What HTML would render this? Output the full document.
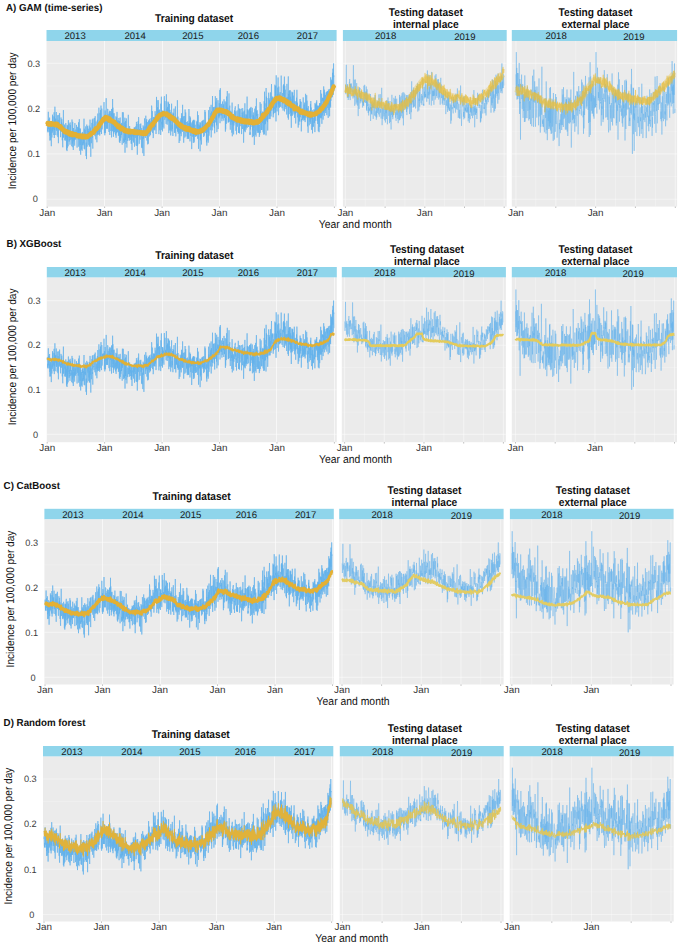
<!DOCTYPE html>
<html><head><meta charset="utf-8"><title>Incidence forecasts</title>
<style>
*{margin:0;padding:0}
html,body{width:685px;height:947px;overflow:hidden;background:#fff}
svg{display:block}
path{vector-effect:non-scaling-stroke}
text{font-family:"Liberation Sans",sans-serif;text-rendering:geometricPrecision}
.tt{font-weight:bold;font-size:9.75px;fill:#111}
.pt{font-weight:bold;font-size:10.2px;fill:#111}
.st{font-size:9.6px;fill:#1a1a1a}
.jl{font-size:9.9px;fill:#333}
.yt{font-size:9.2px;fill:#3a3a3a}
.at{font-size:10.4px;fill:#111}
.ay{font-size:10.15px}
.hM{stroke:#fff;stroke-opacity:0.4;stroke-width:1.1}
.hm{stroke:#fff;stroke-opacity:0.25;stroke-width:0.9}
.vM{stroke:#fff;stroke-opacity:0.6;stroke-width:1}
.vM2{stroke:#fff;stroke-opacity:0.4;stroke-width:1.2}
.vm{stroke:#fff;stroke-opacity:0.28;stroke-width:1.0}
.tk{stroke:#888;stroke-width:0.6}
.bl{fill:none;stroke:#62b1eb;stroke-width:0.66;stroke-linejoin:miter}
.b2,.b3{stroke-width:0.45}
.yrib{fill:none;stroke:#e9c75a;stroke-width:6.5;stroke-opacity:0.45;stroke-linejoin:round;stroke-linecap:butt}
.yl{fill:none;stroke:#e3b034;stroke-linejoin:round}
.yA1{stroke-width:4.1}
.yA2,.yA3{stroke-width:1.1;stroke:#e6bc3a;stroke-opacity:0.7}
.yB1{stroke-width:1.35;stroke:#e0b035}
.yB2,.yB3{stroke-width:1.9;stroke:#e3cb5c}
.yC1{stroke-width:2.0}
.yC2,.yC3{stroke-width:1.5;stroke:#e2cc64}
.yD1{stroke-width:1.05;stroke:#e0b23a}
.yD2{stroke-width:0.75;stroke:#e0c65a}
.yD3{stroke-width:0.8;stroke:#e0c65a}
</style></head>
<body>
<svg width="685" height="947" viewBox="0 0 685 947"><rect width="685" height="947" fill="#fff"/><text transform="translate(6.0,11.0) scale(1,1.04)" class="tt">A) GAM (time-series)</text><text transform="translate(194.1,21.6) scale(1,1.1)" class="pt" text-anchor="middle">Training dataset</text><text transform="translate(425.8,15.6) scale(1,1.1)" class="pt" text-anchor="middle">Testing dataset</text><text transform="translate(425.8,27.6) scale(1,1.1)" class="pt" text-anchor="middle">internal place</text><text transform="translate(595.5,15.6) scale(1,1.1)" class="pt" text-anchor="middle">Testing dataset</text><text transform="translate(595.5,27.6) scale(1,1.1)" class="pt" text-anchor="middle">external place</text><rect x="46.5" y="30.0" width="290.1" height="11.0" fill="#8fd5eb"/><text x="75.1" y="39.2" class="st" text-anchor="middle">2013</text><text x="135.1" y="39.2" class="st" text-anchor="middle">2014</text><text x="192.8" y="39.2" class="st" text-anchor="middle">2015</text><text x="248.3" y="39.2" class="st" text-anchor="middle">2016</text><text x="307.5" y="39.2" class="st" text-anchor="middle">2017</text><rect x="46.5" y="41.0" width="290.1" height="165.6" fill="#ebebeb"/><line x1="46.5" x2="336.6" y1="176.6" y2="176.6" class="hm"/><line x1="46.5" x2="336.6" y1="131.3" y2="131.3" class="hm"/><line x1="46.5" x2="336.6" y1="86.0" y2="86.0" class="hm"/><line x1="46.5" x2="336.6" y1="199.2" y2="199.2" class="hM"/><line x1="46.5" x2="336.6" y1="153.9" y2="153.9" class="hM"/><line x1="46.5" x2="336.6" y1="108.7" y2="108.7" class="hM"/><line x1="46.5" x2="336.6" y1="63.4" y2="63.4" class="hM"/><line x1="104.5" x2="104.5" y1="41.0" y2="206.6" class="vM"/><line x1="162.5" x2="162.5" y1="41.0" y2="206.6" class="vM"/><line x1="219.5" x2="219.5" y1="41.0" y2="206.6" class="vM"/><line x1="276.5" x2="276.5" y1="41.0" y2="206.6" class="vM"/><line x1="334.5" x2="334.5" y1="41.0" y2="206.6" class="vM"/><line x1="47.2" x2="47.2" y1="206.6" y2="207.9" class="tk"/><line x1="104.6" x2="104.6" y1="206.6" y2="207.9" class="tk"/><line x1="162.1" x2="162.1" y1="206.6" y2="207.9" class="tk"/><line x1="219.5" x2="219.5" y1="206.6" y2="207.9" class="tk"/><line x1="277.0" x2="277.0" y1="206.6" y2="207.9" class="tk"/><line x1="334.4" x2="334.4" y1="206.6" y2="207.9" class="tk"/><text x="47.2" y="215.5" class="jl" text-anchor="middle">Jan</text><text x="104.6" y="215.5" class="jl" text-anchor="middle">Jan</text><text x="162.1" y="215.5" class="jl" text-anchor="middle">Jan</text><text x="219.5" y="215.5" class="jl" text-anchor="middle">Jan</text><text x="277.0" y="215.5" class="jl" text-anchor="middle">Jan</text><path transform="scale(0.1)" d="M472 1235l2-26 1 51 2 54 1-38 2 48 1-93 2-113 2 162 1 12 2-98 1 12 2 22 1 92 2-80 2-64 1 180 2-78 1 128 2-54 1 49 2-142 2 92 1-136 2 10 1 31 2 206 1-175 2-43 2-14 1 145 2-93 1 45 2-15 1-165 2 165 2-68 1-81 2 130 1-41 2-20 1 4 2 114 2-114 1-113 2 257 1-213 2 66 1 67 2-233 2 110 1 173 2-112 1-44 2 68 1-77 2 67 2-65 1-67 2 187 1-77 2 59 2-51 1 116 2-53 1-33 2-95 1-21 2 219 2-46 1-127 2 234 1-133 2-32 1-118 2 51 2 91 1 5 2-9 1-156 2 174 1-10 2-56 2 43 1 8 2 82 1-96 2 40 1-141 2 47 2 61 1-60 2 91 1-122 2 95 1-51 2 167 2-143 1 181 2 32 1-151 2 54 1-93 2-182 2 273 1-17 2-72 1-24 2 60 1 4 2-79 2 17 1 139 2-83 1-9 2 97 1-115 2 100 2-161 1 70 2 10 1 61 2-41 1 167 2-76 2-131 1 220 2-262 1 230 2-220 1 142 2-143 2 58 1 147 2-245 1-16 2 133 1 19 2-9 2 72 1-182 2 145 1-42 2 66 1-15 2 58 2-223 1 125 2-98 1 85 2 63 1-32 2 21 2-50 1 34 2-6 1 96 2-50 1-217 2 206 2 34 1-122 2-94 1 253 2-110 1 38 2 100 2-220 1 68 2-8 1 73 2-106 1 88 2-35 2 86 1 10 2-225 1 163 2-70 1 29 2 36 2 7 1-101 2 83 1-13 2-15 2-101 1 44 2 26 1 84 2 73 1-206 2-1 2 98 1-60 2-21 1-4 2-8 1 122 2-173 2 244 1-186 2 33 1-33 2-89 1 35 2 233 2 48 1-221 2 162 1-88 2-75 1 219 2 42 2-209 1 19 2 26 1-25 2 80 1 58 2-119 2 72 1 59 2-189 1 50 2-41 1 123 2-29 2 31 1-10 2-96 1 87 2-100 1 1 2-148 2 301 1-201 2 87 1-7 2 127 1-88 2-106 2 73 1-14 2 33 1-128 2 104 1 192 2-134 2 113 1 52 2-180 1-165 2 113 1 108 2-21 2-184 1 85 2 9 1 9 2-9 1-69 2 22 2 29 1 110 2-138 1 104 2-158 1 208 2-101 2-13 1 116 2-270 1 22 2 168 1-110 2 34 2 258 1-249 2 26 1-14 2 101 1-72 2-10 2-121 1 74 2 28 1-136 2 182 1-15 2 124 2-300 1 52 2 3 1 21 2 48 1-11 2 40 2-6 1-24 2-130 1 83 2 52 2 44 1 4 2-200 1 95 2 37 1 35 2 65 2-94 1-85 2 110 1-17 2-2 1-31 2 148 2-122 1 52 2-155 1 144 2-121 1-86 2 160 2 24 1-72 2 15 1 85 2-130 1-140 2 199 2-7 1 73 2-123 1 137 2-15 1-212 2 190 2-177 1-41 2 109 1-29 2-125 1 187 2 32 2 65 1-126 2-129 1 43 2 166 1-11 2-33 2-73 1 42 2-39 1-10 2 51 1-25 2-24 2 24 1-53 2-122 1 111 2 46 1 153 2-184 2 206 1-48 2-200 1 13 2 75 1 138 2-118 2 27 1-116 2-142 1 180 2 89 1 35 2-98 2 11 1 87 2-112 1 113 2-199 1 5 2-2 2 139 1-87 2 58 1 24 2-4 1 86 2 13 2-196 1 87 2-35 1-68 2 242 1-83 2-84 2-18 1 69 2-123 1 73 2 126 1-24 2-152 2 31 1 209 2-285 1 67 2-65 1 154 2-7 2 75 1-323 2 241 1-154 2 198 2-70 1 163 2-113 1-119 2 199 1-204 2 66 2 123 1-46 2-3 1-34 2 44 1 27 2-45 2 65 1 25 2-108 1-81 2 214 1-134 2 59 2 30 1-160 2 122 1-176 2 202 1-102 2 56 2 48 1-118 2 67 1-66 2 59 1 93 2-86 2-13 1-79 2 166 1-75 2 149 1-208 2 153 2 65 1-153 2-102 1 233 2-37 1-30 2 35 2-132 1 106 2-7 1-114 2 119 1-104 2 125 2 22 1 56 2-325 1 194 2-49 1 25 2-16 2 11 1-164 2 261 1 47 2-47 1 29 2-183 2-5 1 158 2 38 1-90 2-154 1 350 2-272 2 142 1-186 2 188 1-69 2 108 1-46 2-208 2 51 1 108 2 42 1 91 2-132 1-32 2 6 2 1 1 91 2-93 1-2 2-117 1-50 2 177 2 56 1-62 2 48 1 12 2-60 1 87 2-145 2 63 1-31 2 38 1 49 2 19 1-62 2 28 2-69 1 21 2 120 1-126 2 125 1-64 2-29 2 158 1-191 2-5 1 27 2 24 2-5 1 54 2-63 1 26 2-57 1 114 2-126 2 8 1 25 2 27 1-88 2 196 1-187 2 19 2-3 1-9 2 92 1-35 2-79 1 18 2 20 2 152 1-181 2-55 1 14 2 69 1 158 2-220 2 96 1 211 2-257 1 166 2-17 1-59 2-168 2 146 1-57 2-130 1 14 2 150 1 13 2 90 2-50 1-98 2 3 1 25 2-77 1 156 2-63 2-69 1 13 2-43 1 60 2 63 1-59 2 121 2 56 1-196 2 57 1-32 2 177 1-117 2 21 2 23 1 123 2-169 1-109 2 46 1 87 2-52 2-68 1 293 2-215 1-59 2-12 1-90 2 50 2 72 1 1 2-43 1 116 2-44 1-85 2-94 2 186 1-11 2-23 1-102 2 119 1-134 2 214 2-71 1-1 2-88 1-25 2 223 1-54 2-113 2 86 1 74 2-229 1 46 2-2 1 83 2-135 2 110 1-121 2 175 1-7 2-96 1 77 2-124 2 35 1 102 2-90 1 35 2-114 2 134 1-19 2-148 1-93 2 20 1 169 2-16 2-118 1 145 2 73 1-98 2-31 1 111 2 70 2-20 1-188 2 124 1-57 2-33 1-38 2 83 2-76 1 120 2-48 1 56 2-192 1 100 2 61 2-37 1-13 2-84 1 201 2-52 1-60 2-259 2 137 1 92 2-75 1-120 2 200 1 10 2-142 2 62 1-18 2 102 1-216 2 17 1 99 2-12 2 237 1-237 2 72 1-57 2-24 1 89 2 118 2-183 1 96 2-37 1 22 2-24 1 172 2-312 2 84 1-77 2-77 1 172 2 160 1-81 2 27 2-63 1-52 2 184 1-208 2 164 1-160 2 36 2 18 1-21 2 41 1 6 2 95 1-146 2-165 2-12 1 59 2 55 1 122 2-186 1 132 2 2 2 20 1-33 2 47 1-30 2 89 1-62 2-234 2 208 1 16 2-67 1-15 2 162 1-79 2-99 2 59 1 14 2-126 1 198 2-66 1 54 2-176 2 305 1-113 2-11 1-104 2 6 1-69 2 264 2-205 1 94 2 34 1-106 2 130 2 103 1-149 2 100 1-74 2-89 1 7 2-112 2 159 1 119 2-68 1 16 2 27 1-145 2 97 2 118 1-234 2 72 1-40 2 24 1-45 2 53 2-104 1 73 2 4 1 0 2 166 1-112 2 10 2-40 1 140 2-263 1 137 2 118 1 45 2-124 2-16 1 57 2-70 1 67 2-104 1 114 2-59 2-88 1-139 2 317 1-46 2 35 1-142 2 172 2-57 1-39 2 85 1 0 2-42 1 145 2-56 2-90 1-48 2 30 1 142 2-115 1-110 2 22 2 57 1 73 2-133 1 107 2 53 1-31 2-198 2 109 1-82 2 146 1-124 2 137 1-39 2-232 2 152 1 113 2-36 1-35 2-78 1 151 2 112 2-129 1-25 2-7 1-106 2 89 1-43 2 170 2-174 1-107 2 117 1 47 2 9 1-143 2 240 2-71 1-50 2-24 1 105 2-66 1 53 2-35 2 23 1 90 2-98 1-79 2 163 1-63 2-80 2 154 1-110 2 110 1-193 2-104 2 26 1 199 2-84 1 55 2 2 1-127 2 253 2-209 1 98 2-128 1 108 2 76 1-83 2-40 2 62 1-39 2 89 1 143 2-267 1 18 2 49 2 7 1-85 2 133 1 22 2-45 1-121 2 227 2-227 1 162 2 41 1-208 2 120 1 107 2-83 2-113 1-23 2 143 1-73 2-27 1 121 2-88 2 34 1 45 2-4 1-49 2 4 1 52 2-12 2-135 1 79 2-59 1-28 2 55 1-149 2 274 2-144 1 99 2-192 1 14 2 323 1-87 2-144 2-11 1 4 2 71 1-46 2-18 1 64 2-98 2 290 1-256 2 146 1-176 2 104 1 58 2-113 2 113 1-1 2 57 1-137 2-47 1-48 2 102 2-106 1 90 2 8 1-60 2-44 1 123 2-10 2-9 1-23 2 86 1-172 2 125 1-78 2 112 2-106 1-4 2 70 1-217 2 144 1-125 2 71 2 141 1-26 2-74 1 32 2-1 1 28 2 133 2-141 1 174 2-230 1 96 2-3 2-45 1-45 2 149 1 26 2-62 1 85 2-97 2-228 1 232 2-153 1 176 2-150 1 52 2-25 2-58 1-107 2 135 1 3 2 95 1-141 2 71 2-98 1 74 2-160 1 326 2-152 1-107 2 106 2 36 1-50 2 96 1-135 2-208 1 111 2 196 2-24 1-44 2-127 1 158 2-14 1-142 2-1 2 107 1 63 2 35 1-77 2 132 1-265 2 119 2-100 1-125 2 59 1 203 2-180 1-28 2 167 2 16 1-76 2 130 1-272 2 340 1-115 2-76 2-4 1-36 2-10 1 42 2-120 1 289 2-189 2 63 1-75 2-7 1 100 2-24 1-127 2 40 2 91 1-240 2-24 1 333 2-156 1-194 2 152 2 50 1 38 2 30 1-29 2 30 1-114 2 102 2 4 1 67 2-101 1 75 2-63 1-108 2 60 2-11 1 13 2 27 1 17 2 16 1-94 2 163 2-213 1 115 2 70 1-23 2 17 1-73 2 78 2-164 1 171 2 132 1-136 2 114 1-173 2-97 2 38 1 176 2-50 1-223 2 130 2 29 1-92 2-122 1 103 2 103 1-17 2-22 2 110 1 40 2-96 1 89 2-76 1-13 2-197 2 284 1-63 2 5 1-52 2-52 1 137 2 31 2 73 1-61 2-128 1 45 2 95 1-55 2-35 2-40 1 98 2-29 1 140 2-58 1-243 2 337 2-162 1-48 2 53 1 40 2-65 1-4 2 7 2 160 1-152 2 63 1-27 2-67 1-36 2-22 2 123 1-124 2-22 1 4 2-21 1 136 2 3 2-88 1 194 2-138 1 66 2-14 1 122 2-75 2-76 1-80 2-8 1 95 2 10 1 57 2-108 2 58 1-75 2-100 1 158 2 130 1-56 2 53 2-22 1-221 2 96 1 154 2-191 1-53 2 143 2 29 1-30 2-54 1-31 2-47 1-3 2 3 2-15 1 62 2 194 1-123 2-39 1 62 2-114 2 113 1 50 2-209 1 69 2 40 1-62 2-12 2 64 1 247 2-157 1-19 2 47 1-104 2-88 2 149 1 57 2-279 1 219 2 70 2-130 1-16 2 100 1-132 2 113 1 39 2-97 2-52 1 124 2-85 1 38 2-258 1 312 2-184 2 127 1 7 2-75 1-15 2-33 1 83 2 82 2-5 1-92 2-6 1-72 2 87 1-57 2-40 2 119 1 146 2-27 1 23 2-267 1 216 2-184 2 58 1-100 2 63 1 98 2 8 1-25 2-7 2 62 1-44 2-145 1 293 2-173 1 103 2-97 2-57 1 79 2-73 1 209 2-238 1 151 2-108 2 39 1 242 2-160 1-86 2-117 1 111 2 3 2 148 1-251 2-34 1 157 2 22 1 124 2-221 2-161 1 175 2-49 1 63 2 134 1-205 2 226 2-91 1-44 2-54 1 40 2 2 1 100 2 46 2-120 1 67 2 51 1-5 2-70 1 119 2-46 2 24 1-161 2-22 1-143 2 308 1-74 2-142 2 98 1 8 2-181 1 179 2 70 1 13 2-148 2 1 1 146 2-36 1-136 2-5 1 106 2-114 2 3 1 206 2-132 1-66 2 85 1 136 2-165 2-94 1-75 2 331 1-426 2 329 2-186 1-27 2 21 1 71 2 114 1-159 2 116 2 158 1-474 2 185 1-99 2 239 1-212 2-12 2 1 1 137 2 102 1-92 2 176 1-46 2-160 2 93 1-75 2-8 1-182 2 53 1 116 2-113 2 173 1-42 2-112 1 187 2-88 1 90 2-130 2-137 1 208 2-89 1 97 2 19 1 5 2-240 2-83 1 163 2 103 1-128 2 89 1-103 2 43 2-2 1-31 2 102 1-18 2 114 1-115 2 84 2-115 1 69 2-95 1-33 2 163 1-56 2 10 2-151 1-87 2 74 1 105 2-162 1 261 2-267 2 189 1 167 2-461 1 94 2 229 1-107 2 34 2-29 1 140 2-71 1-102 2 21 1-86 2 99 2-200 1 271 2-86 1 192 2-58 1-228 2 201 2-130 1 53 2 87 1-61 2 15 1-2 2-109 2 9 1 109 2 30 1-105 2 35 1-99 2-143 2 160 1 78 2 13 1 61 2 5 1 10 2-53 2 3 1-102 2 101 1-17 2 91 2-252 1 101 2-112 1 88 2-60 1 154 2-84 2-175 1 348 2-211 1-45 2 113 1-29 2-45 2 173 1-95 2 116 1-17 2-4 1-42 2-26 2-26 1 169 2-306 1 76 2 39 1 99 2-23 2-56 1 13 2 190 1-218 2-195 1 432 2-256 2 57 1 45 2-133 1 233 2-121 1-117 2 152 2 21 1-47 2 52 1-179 2 224 1-160 2 194 2-173 1 71 2 219 1-225 2 98 1-56 2-178 2 242 1-4 2-225 1 121 2-128 1 112 2 110 2-73 1-116 2 27 1 87 2-3 1 15 2 44 2-227 1 176 2 104 1-58 2-108 1 8 2 72 2 49 1-62 2 155 1-33 2-189 1 117 2-77 2-76 1 53 2 58 1-190 2 133 1 94 2-98 2 30 1 116 2-84 1 23 2 164 1-162 2 11 2 15 1 111 2-117 1-27 2-12 1 113 2-160 2 169 1-90 2-137 1 182 2-16 1-143 2 133 2-7 1-47 2-74 1 296 2-124 2 17 1 7 2-20 1 0 2-103 1 108 2-91 2-24 1 103 2-78 1-135 2 119 1 88 2-52 2 78 1-107 2-53 1 153 2-55 1-119 2 146 2-61 1 110 2-18 1-27 2-238 1 229 2 11 2 3 1-34 2-72 1 42 2-165 1 163 2-108 2 104 1-29 2 182 1-116 2-5 1 16 2 169 2-267 1 112 2 5 1-15 2-2 1-56 2 148 2-29 1-108 2 14 1 46 2 18 1 23 2-68 2-109 1 198 2-228 1 60 2 115 1-109 2 199 2 23 1-39 2-77 1-7 2 16 1-54 2 197 2-232 1 169 2-67 1-22 2 66 1 18 2-32 2-88 1-54 2 2 1 137 2-18 1 10 2-121 2 219 1-290 2 151 1 26 2-100 1-62 2 60 2-64 1 80 2-97 1-3 2 118 1-137 2 112 2 5 1 88 2-57 1-95 2 183 1-174 2 25 2 5 1 218 2-187 1-68 2 124 1-77 2 217 2-271 1 116 2-136 1 238 2-225 1 80 2-93 2 151 1-28 2-254 1 270 2-13 2-39 1 64 2-196 1-49 2 213 1 88 2-257 2 4 1 23 2-31 1 177 2-64 1 105 2 1 2-214 1 144 2-262 1 192 2 61 1-129 2-91 2 113 1 148 2-142 1-92 2 163 1 22 2-161 2 75 1 107 2-66 1 30 2-95 1 14 2-95 2 36 1 198 2-177 1-46 2 36 1-53 2 137 2 32 1-169 2 174 1 93 2-284 1 152 2-40 2 93 1-9 2-18 1-74 2-68 1 232 2-272 2 167 1-14 2-157 1 63 2 125 1-302 2 235 2-101 1 1 2-111 1 161 2-133 1 151 2-168 2 162 1-39 2-203 1 42 2 109 1-192 2 162 2 100 1-140 2-175 1 133 2-11 1 154 2 1" class="bl b1"/><path transform="scale(0.1)" d="M472 1238l2 3 1-12 2-1 1 6 2 8 1-5 2 3 2-11 1 6 2-1 1 5 2 9 1-6 2 2 2-8 1 1 2 5 1-2 2-10 1 14 2 0 2-4 1 3 2-2 1-5 2-6 1 19 2-9 2 0 1 0 2 1 1 1 2-7 1 8 2-1 2-1 1 0 2 1 1-6 2 6 1-1 2 2 2 5 1-1 2 2 1-7 2 5 1 2 2-6 2-2 1 13 2-18 1 9 2 1 1-6 2 6 2 4 1-15 2 18 1-5 2-4 2 11 1-5 2-2 1-10 2 19 1-4 2-3 2 4 1 8 2-8 1 3 2-1 1-2 2 1 2 5 1 2 2 9 1-4 2-1 1 5 2-2 2 7 1-12 2-2 1 15 2-3 1 5 2-7 2 6 1 4 2 3 1-1 2 8 1-8 2 9 2-5 1 3 2-3 1 7 2-4 1 12 2-7 2 6 1-1 2 2 1-4 2 18 1-12 2 11 2-13 1 18 2-4 1 5 2-17 1 17 2-7 2 5 1 8 2-7 1-5 2 6 1-6 2 8 2-1 1 3 2-4 1-8 2 9 1 2 2 5 2 1 1-11 2 14 1 0 2-4 1 3 2-13 2 24 1-14 2-1 1 10 2-2 1-5 2-6 2 14 1 4 2-13 1-2 2 10 1 11 2-20 2 10 1-7 2 7 1 2 2 1 1-10 2 1 2 20 1-6 2-15 1 13 2 5 1-7 2 1 2 1 1 2 2 0 1 1 2-4 1 7 2-3 2 0 1-8 2 6 1 3 2-3 1 1 2-4 2 4 1-7 2 3 1 8 2 2 2-6 1 2 2 4 1 7 2 3 1-12 2-2 2 0 1 12 2-12 1 8 2-4 1 0 2 7 2-1 1 8 2-6 1 5 2-11 1 2 2-4 2 3 1 6 2-5 1 4 2-5 1 2 2 7 2-5 1 0 2 2 1-6 2-4 1 11 2 0 2 11 1-11 2 2 1 9 2-13 1-1 2 7 2-2 1 4 2-9 1 12 2-6 1-12 2 10 2-2 1 3 2 6 1-6 2-2 1 7 2-7 2-5 1 1 2 15 1-4 2 4 1-15 2 2 2-1 1 9 2 1 1-7 2-1 1 5 2-6 2-4 1 2 2 6 1 5 2-11 1-3 2 2 2 0 1 0 2-8 1 3 2-2 1 5 2-3 2-5 1 5 2 0 1-6 2-9 1 4 2-8 2 8 1-1 2 5 1-6 2-12 1 5 2-3 2-1 1 2 2 0 1-3 2-4 1 0 2-2 2 1 1 4 2-4 1 2 2-12 1 16 2-12 2-16 1 14 2 2 1-7 2-9 2 6 1-6 2 1 1 1 2-21 1 15 2 1 2-2 1-7 2-2 1-4 2 1 1 7 2-13 2 3 1-2 2 4 1-7 2-1 1-6 2 6 2-11 1-2 2 5 1-5 2-1 1-12 2 17 2-14 1 6 2-9 1-9 2 6 1-6 2 3 2-17 1 3 2-3 1 11 2-4 1-14 2 4 2-2 1-6 2 6 1-13 2 1 1-5 2 4 2-9 1 5 2-12 1-3 2-1 1 1 2-3 2 17 1-21 2 4 1-3 2 1 1 5 2-6 2-7 1-4 2 10 1 2 2-13 1 13 2-16 2 11 1 6 2-10 1-4 2 18 1-16 2 10 2-9 1 11 2 7 1-11 2-1 1-6 2 3 2 6 1 6 2 2 1 0 2 4 1-2 2 13 2-14 1 2 2-13 1 10 2 8 1-5 2 11 2-3 1 8 2-17 1 5 2 10 1-5 2-4 2 3 1 2 2 7 1 0 2-3 1-3 2 11 2 2 1-11 2 13 1-10 2 6 2-3 1-3 2 7 1 1 2 10 1 0 2-6 2-3 1 2 2-4 1 13 2 1 1-3 2 7 2 2 1 7 2-10 1 13 2-8 1 12 2-12 2 13 1-9 2 14 1-5 2-7 1 12 2-4 2 5 1 11 2-13 1 0 2 10 1-8 2 8 2 2 1-4 2 5 1-15 2 22 1-12 2 0 2 17 1-1 2-11 1 6 2-3 1-3 2 9 2 5 1 10 2-15 1 7 2-6 1 1 2 10 2-16 1 5 2 2 1 12 2-4 1 2 2 0 2 5 1-7 2 2 1 0 2 5 1-9 2 7 2 17 1-11 2-2 1-5 2 8 1 0 2 3 2-6 1 7 2 1 1 2 2-7 1 7 2 7 2-12 1 7 2-5 1 1 2-4 1 1 2 9 2-1 1 6 2-16 1 7 2-4 1 9 2 10 2-19 1 8 2 0 1 0 2-2 1 0 2 12 2-14 1 9 2 0 1-12 2 5 1 7 2 8 2-11 1-1 2 3 1 7 2-3 1 3 2-8 2-3 1-1 2 10 1-5 2-2 2 6 1-2 2-12 1 11 2-4 1 8 2-3 2 10 1-9 2-7 1-4 2 5 1 3 2 3 2 4 1-2 2-4 1 7 2-9 1 11 2 4 2-4 1 4 2-1 1-14 2 8 1-2 2-5 2-1 1 10 2-10 1 6 2 2 1-2 2 10 2-3 1-3 2-4 1 6 2-1 1-6 2-2 2 4 1-3 2 10 1 0 2-3 1 3 2 2 2-12 1 11 2 4 1-8 2-7 1 10 2-6 2 10 1 0 2 2 1-3 2-11 1 17 2-15 2 14 1-4 2-5 1 1 2 2 1 11 2-11 2 8 1-20 2 15 1-2 2 7 1-3 2 4 2-12 1 6 2-5 1 6 2-1 1-11 2 11 2 4 1-13 2 7 1-5 2-9 1 8 2-11 2 6 1-13 2-1 1 8 2-4 1 1 2-7 2-8 1 12 2-15 1 10 2-5 1 3 2-24 2 9 1-3 2 2 1-12 2 15 1-14 2-14 2 12 1-5 2-6 1 6 2-7 2-7 1 2 2-3 1 2 2-6 1 0 2-10 2 3 1 3 2 10 1-19 2-2 1 8 2 4 2-7 1-13 2 9 1-5 2-6 1-8 2 5 2-2 1 1 2-14 1 1 2 4 1 5 2-5 2-10 1 5 2-11 1 1 2-2 1-4 2-1 2 5 1-5 2-16 1 17 2-6 1-11 2 5 2 2 1 1 2-13 1-4 2-4 1 6 2-8 2 10 1-8 2 3 1-7 2-4 1-4 2 10 2-14 1 8 2 2 1-6 2 6 1-9 2-3 2 2 1-5 2 3 1-2 2 7 1-9 2 4 2-3 1-2 2-2 1 10 2-1 1-7 2-5 2 1 1-3 2-2 1 5 2 3 1 5 2 0 2-2 1-4 2 1 1 1 2 2 1-4 2 3 2 0 1 0 2 6 1 3 2-8 1 2 2 4 2 2 1-14 2 17 1-2 2-2 1 9 2-6 2-8 1 5 2 3 1 1 2 4 1-4 2 7 2 3 1-2 2-4 1 5 2-1 1 15 2-16 2-5 1 6 2 11 1 3 2-5 2 8 1-8 2 8 1-7 2-1 1 19 2-11 2 6 1 5 2-3 1-1 2-6 1 15 2-13 2-4 1 9 2 1 1 5 2 7 1-8 2 3 2-1 1-8 2 11 1 3 2-5 1 18 2 0 2-3 1 4 2-6 1 7 2-10 1 3 2 6 2 7 1-3 2 0 1 12 2-6 1-1 2 5 2-6 1 3 2 13 1-4 2 7 1-6 2 9 2-8 1 4 2-2 1 8 2 8 1-16 2 12 2-7 1 6 2 0 1-5 2 9 1-4 2 16 2-11 1 7 2 0 1 0 2-1 1-6 2 20 2-9 1 5 2-10 1 10 2-4 1 5 2-4 2-2 1 9 2-2 1 9 2-8 1-2 2 8 2-8 1 18 2-1 1-1 2-5 1-1 2 1 2 0 1-3 2 7 1 5 2 1 1-18 2 25 2-11 1-8 2 6 1 7 2-3 1-4 2-2 2 12 1-8 2 3 1-4 2-1 1 10 2 7 2-10 1-7 2 7 1 3 2-12 2 20 1-10 2 8 1-3 2 0 1-7 2 14 2-2 1 6 2-11 1 6 2-4 1 8 2-3 2-7 1 7 2-4 1 1 2 5 1 7 2-13 2 4 1-4 2 17 1-1 2 3 1-7 2-10 2 3 1 4 2-1 1-3 2 7 1-4 2 2 2 13 1-10 2-9 1 10 2-1 1 3 2 0 2-9 1 8 2 4 1 12 2-14 1 8 2 0 2-14 1 0 2 15 1-15 2 2 1 7 2-8 2 13 1-2 2 1 1-2 2-11 1 12 2 0 2-2 1-6 2 3 1-7 2 8 1 3 2-5 2-3 1 5 2-7 1-9 2 12 1-4 2-8 2 10 1 0 2 1 1-9 2-2 1 3 2-2 2-8 1 1 2 11 1-9 2-2 1-4 2 4 2 1 1-3 2 6 1-11 2 2 1-7 2 6 2-4 1 1 2-1 1-11 2 5 1-7 2 7 2-8 1 9 2-9 1-1 2-7 1 0 2 1 2-7 1 2 2-4 1-2 2 3 2-1 1-4 2 2 1-6 2-6 1 0 2 5 2 3 1-9 2-2 1-9 2 6 1-4 2-7 2 4 1-4 2-13 1-1 2 1 1 0 2 4 2-11 1-1 2-3 1 1 2-6 1-2 2-6 2-9 1 3 2 8 1-6 2 0 1-7 2-11 2-2 1 3 2-8 1 3 2 1 1-3 2-6 2-15 1 13 2-17 1-3 2 6 1-4 2 1 2-5 1-6 2 1 1-7 2-4 1 3 2-2 2 1 1-4 2 6 1-10 2 0 1 5 2-18 2 16 1-1 2-7 1 11 2-7 1 4 2-3 2-5 1-2 2-5 1 2 2-2 1 3 2 6 2-8 1 9 2 0 1-11 2 4 1 3 2-2 2-1 1 13 2-7 1 6 2-7 1 5 2-11 2 5 1 8 2-4 1 7 2-7 1-2 2 2 2 12 1-8 2-5 1 2 2-4 1 13 2-9 2 7 1-4 2-1 1-1 2 7 1-4 2 8 2 2 1-10 2 4 1 9 2-4 1-4 2-7 2 3 1 3 2 15 1-8 2-2 2 1 1 1 2 5 1-10 2 3 1 10 2 6 2-15 1 15 2-8 1-2 2 17 1-6 2 5 2-3 1 2 2-7 1 9 2 5 1-5 2 9 2 2 1-13 2 18 1 0 2-2 1 8 2 7 2-16 1 11 2 0 1 1 2 4 1 2 2-6 2-11 1 11 2 1 1 13 2-7 1 7 2-10 2 6 1 0 2 1 1 3 2 6 1-10 2 11 2-1 1-4 2 3 1-4 2-4 1 5 2 1 2 1 1-4 2 16 1-12 2 8 1 2 2-6 2 3 1-5 2-2 1 19 2-12 1-10 2 6 2-2 1 8 2 8 1-1 2-9 1-1 2 10 2-2 1-3 2 12 1-7 2-11 1-2 2 13 2-10 1 13 2 2 1 8 2-17 1 8 2-15 2 12 1 1 2 11 1-18 2 11 1-1 2 12 2-17 1 0 2 9 1-3 2-2 1-3 2 5 2-8 1 11 2 2 1 0 2 11 1-9 2-10 2 5 1 6 2-6 1 13 2-9 2-5 1 0 2 8 1-9 2-5 1 13 2-6 2 12 1 3 2-14 1 3 2 0 1 4 2-1 2-6 1-5 2 11 1 8 2-16 1 4 2 0 2 3 1-11 2 12 1-2 2 13 1-7 2 1 2-4 1-1 2 6 1-14 2 16 1-3 2-4 2 8 1-9 2-1 1 6 2-12 1 10 2-1 2 7 1 4 2-6 1-1 2 0 1-6 2 17 2-7 1 4 2-17 1 11 2-1 1 4 2-11 2 7 1-3 2 12 1-17 2 4 1-1 2-4 2 8 1 0 2-5 1 2 2 3 1-1 2 3 2-7 1-2 2 5 1-11 2 18 1-8 2-11 2 11 1 6 2-17 1 3 2 9 1-12 2 9 2 1 1-8 2 1 1 2 2-6 1 3 2-8 2-1 1-5 2 5 1 3 2-1 1-8 2-11 2 2 1 6 2-10 1 10 2-14 1 6 2-8 2-1 1 3 2-5 1 6 2-8 1-8 2-18 2 16 1 2 2 4 1-13 2 13 1-7 2-8 2 6 1-16 2 0 1 7 2-2 2 3 1-2 2-12 1-3 2 0 1-1 2 2 2-6 1 8 2-10 1-10 2-1 1 9 2-3 2-11 1-4 2 16 1-8 2-6 1-8 2 9 2-10 1 3 2-17 1 8 2 1 1-2 2-10 2 0 1 7 2-10 1 6 2-6 1 0 2-2 2-6 1-2 2-11 1-4 2 3 1 2 2-13 2 13 1-3 2-18 1-2 2-4 1 4 2 3 2-7 1-8 2 4 1-2 2 1 1-4 2-13 2 0 1 6 2-2 1-5 2-8 1 7 2-7 2 9 1-7 2-11 1-4 2 10 1-4 2-10 2 6 1-1 2-7 1 1 2-6 1 1 2 7 2-3 1-1 2 7 1-2 2-11 1 14 2-14 2 4 1 2 2-3 1 0 2-3 1 9 2-1 2 0 1-11 2 6 1 10 2-3 1 3 2-4 2 0 1-11 2 23 1-15 2 4 1 6 2-2 2 3 1-3 2-4 1 14 2-15 1 10 2-9 2 6 1-3 2 4 1-2 2 6 2 6 1-7 2 0 1-6 2 23 1-9 2-6 2 13 1-5 2-12 1 5 2 13 1-11 2 2 2 3 1 3 2 1 1 7 2-1 1-6 2 4 2-8 1 12 2 12 1-10 2-2 1 0 2 3 2 6 1-12 2 13 1-6 2 6 1 6 2-13 2 23 1-8 2-6 1 6 2-5 1 6 2 3 2-13 1 14 2 1 1 6 2 0 1-6 2 1 2 5 1 5 2-6 1 14 2-6 1 1 2 4 2-4 1 6 2 2 1-13 2 7 1-1 2 7 2-4 1 2 2-1 1-5 2 15 1-1 2 3 2 20 1-11 2-6 1-3 2 8 1-9 2 1 2 10 1-9 2-1 1 8 2 9 1-13 2 10 2 2 1-2 2 5 1-8 2 2 1-1 2 4 2 9 1-3 2-5 1 8 2-17 1 18 2 3 2-9 1 3 2 5 1 2 2-2 1-2 2 1 2 7 1-3 2-2 1 2 2 21 1-11 2 0 2-2 1-1 2-4 1 3 2 4 2 0 1-8 2 13 1-4 2-6 1 7 2 14 2-13 1 5 2-1 1-6 2 4 1 4 2-5 2 3 1 2 2-1 1 1 2 4 1 1 2-2 2 6 1 2 2-13 1 9 2-1 1 1 2 0 2 1 1 0 2 5 1-9 2 10 1-9 2 16 2-4 1-11 2 7 1 3 2-5 1 8 2-5 2 13 1-9 2 1 1-6 2-1 1 10 2-13 2 12 1 8 2 2 1-21 2 10 1 3 2 1 2 2 1-13 2 8 1-10 2 11 1 12 2-17 2 6 1 0 2-10 1 10 2-7 1 6 2 4 2-7 1 6 2-10 1 1 2 5 1-3 2 0 2 4 1-7 2 6 1-5 2 8 1-6 2-3 2 6 1-3 2 0 1-7 2 7 1-7 2-7 2 5 1 10 2-10 1-6 2 6 1-9 2 2 2 0 1 2 2 0 1-2 2-3 1-4 2-1 2 3 1-3 2-3 1 9 2-6 1-1 2-4 2-1 1-2 2 2 1-10 2 1 1 9 2-10 2 5 1-17 2 10 1-2 2-4 2 0 1-2 2-10 1 6 2-5 1-3 2 10 2-17 1 4 2-3 1 8 2-11 1 0 2 3 2-17 1 7 2 2 1-5 2-6 1-3 2 0 2-6 1-3 2 12 1-7 2 0 1-8 2-10 2 2 1 7 2-7 1-10 2 6 1-5 2-5 2 9 1-17 2-1 1-4 2 6 1-4 2-4 2-7 1-2 2-3 1-12 2 0 1 8 2-4 2-16 1 8 2-12 1-5 2 9 1-5 2-5 2 1 1-3 2-6 1-11 2 4 1-5 2-2 2 1 1-19 2 17 1-13 2-10 1 7 2-15 2-7 1 8 2-10 1 4 2-13 1-1 2-4 2-10 1 1 2-8 1 0 2 6 1-11 2-5" class="yl yA1"/><rect x="342.9" y="30.0" width="163.8" height="11.0" fill="#8fd5eb"/><text x="385.6" y="39.2" class="st" text-anchor="middle">2018</text><text x="464.8" y="40.1" class="st" text-anchor="middle">2019</text><rect x="342.9" y="41.0" width="163.8" height="165.6" fill="#ebebeb"/><line x1="342.9" x2="506.7" y1="176.6" y2="176.6" class="hm"/><line x1="342.9" x2="506.7" y1="131.3" y2="131.3" class="hm"/><line x1="342.9" x2="506.7" y1="86.0" y2="86.0" class="hm"/><line x1="342.9" x2="506.7" y1="199.2" y2="199.2" class="hM"/><line x1="342.9" x2="506.7" y1="153.9" y2="153.9" class="hM"/><line x1="342.9" x2="506.7" y1="108.7" y2="108.7" class="hM"/><line x1="342.9" x2="506.7" y1="63.4" y2="63.4" class="hM"/><line x1="345.4" x2="345.4" y1="41.0" y2="206.6" class="vM2"/><line x1="365.2" x2="365.2" y1="41.0" y2="206.6" class="vm"/><line x1="385.1" x2="385.1" y1="41.0" y2="206.6" class="vM2"/><line x1="404.9" x2="404.9" y1="41.0" y2="206.6" class="vm"/><line x1="424.8" x2="424.8" y1="41.0" y2="206.6" class="vM2"/><line x1="444.6" x2="444.6" y1="41.0" y2="206.6" class="vm"/><line x1="464.5" x2="464.5" y1="41.0" y2="206.6" class="vM2"/><line x1="484.4" x2="484.4" y1="41.0" y2="206.6" class="vm"/><line x1="504.2" x2="504.2" y1="41.0" y2="206.6" class="vM2"/><line x1="345.4" x2="345.4" y1="206.6" y2="207.9" class="tk"/><line x1="385.1" x2="385.1" y1="206.6" y2="207.9" class="tk"/><line x1="424.8" x2="424.8" y1="206.6" y2="207.9" class="tk"/><line x1="464.5" x2="464.5" y1="206.6" y2="207.9" class="tk"/><line x1="504.2" x2="504.2" y1="206.6" y2="207.9" class="tk"/><text x="345.4" y="215.5" class="jl" text-anchor="middle">Jan</text><text x="424.8" y="215.5" class="jl" text-anchor="middle">Jan</text><path transform="scale(0.1)" d="M3454 847l2 15 2 80 3-118 2-176 2 259 2 0 2-7 2-43 3 122 2-139 2 63 2 39 2 58 2-12 3-117 2 105 2-77 2-75 2 4 2-38 3 147 2 64 2-162 2 58 2-61 3 89 2-90 2 30 2 12 2 19 2 10 3 15 2 3 2-58 2 119 2-173 2-160 3 221 2 86 2 14 2-176 2 184 2 77 3-43 2-29 2-191 2 153 2-55 3 152 2-104 2-24 2-86 2 195 2-99 3 24 2 105 2-77 2 20 2 162 2-226 3 6 2 77 2 72 2-219 2 96 2-57 3-29 2 152 2-103 2 83 2-12 3 3 2-6 2-85 2 78 2 23 2 11 3-47 2 97 2-29 2-34 2 41 2-33 3 39 2-202 2 54 2 70 2 40 2-173 3 146 2 34 2-29 2 1 2-85 3 113 2-163 2 233 2-121 2 134 2-218 3 169 2-20 2-74 2-24 2 186 2-58 3 83 2-118 2 21 2 21 2 27 2-22 3 30 2-98 2-76 2 270 2-140 3 24 2-70 2 114 2-62 2 70 2-135 3 48 2 20 2-40 2 48 2 102 2-166 3 24 2 35 2-88 2-18 2 180 2-24 3-181 2 11 2 168 2 35 2-42 3-11 2 85 2-125 2 103 2-5 2-166 3 125 2-47 2-54 2-14 2 91 2-30 3 69 2-200 2 86 2 137 2-86 2-54 3 19 2-105 2 36 2 150 2-35 3 94 2-119 2 9 2-198 2 203 2 171 3-110 2-60 2 107 2-30 2-38 2-54 3 40 2 57 2-130 2 104 2-3 2 69 3-45 2-111 2 177 2-119 2-61 3 86 2-47 2 106 2-188 2 17 2 68 3 156 2-54 2-157 2-57 2 111 2-73 3 145 2-32 2-14 2-33 2 153 2-192 3-30 2 193 2 16 2-132 2 78 3 130 2-244 2 50 2 49 2-202 2 154 3 69 2-67 2 88 2-22 2-90 2 72 3-8 2-166 2 62 2 4 2 21 2 3 3-77 2 115 2-147 2 218 2-55 3 87 2-81 2-68 2-73 2 164 2-52 3 28 2 29 2 34 2-97 2 139 2-144 3 7 2 52 2 27 2 29 2-254 2 250 3-227 2 75 2 74 2 61 2-171 3-54 2 206 2-50 2-105 2 55 2-131 3 200 2-88 2 139 2-262 2 219 2 114 3-164 2-1 2-162 2 173 2-27 2-50 3-79 2 125 2-88 2 38 2 61 3-32 2 1 2 71 2-168 2 199 2-201 3 14 2 79 2 50 2-44 2-57 2-23 3 34 2-57 2 119 2-63 2 139 2-183 3 46 2 43 2-124 2 36 2 233 3-185 2 115 2-197 2-112 2 233 2-47 3 24 2-48 2-24 2-51 2 176 2-201 3 194 2-95 2-70 2 33 2 128 2-20 3-20 2-33 2-95 2 188 2-138 3-13 2 3 2 5 2-83 2 78 2-30 3 21 2-97 2 285 2-249 2 118 2 0 3 52 2 68 2-117 2 22 2-94 2 152 3-228 2 89 2 39 2 34 2 5 3 25 2-47 2-44 2 13 2 95 2-91 3 47 2-83 2-134 2 95 2 72 2 100 3-17 2 19 2-189 2 115 2-66 2 52 3-57 2-104 2 162 2-29 2 35 2-132 3 147 2 7 2 19 2 0 2-147 3-165 2 277 2-153 2 54 2 105 2-66 3-4 2 35 2-204 2 298 2-179 2 4 3 70 2-57 2-57 2 57 2-21 2-21 3 212 2-273 2-63 2 102 2-3 3 189 2-100 2 54 2-17 2-121 2 138 3-52 2 139 2-136 2-19 2 63 2 1 3-202 2 241 2-12 2-18 2-156 2-69 3 138 2 82 2-21 2-116 2 155 3-184 2 4 2 105 2-44 2-7 2-62 3 204 2-173 2 122 2 31 2-66 2 26 3 63 2 49 2-48 2-184 2-37 2 106 3-39 2 136 2-30 2-25 2 110 3-3 2-81 2 37 2 62 2-109 2 54 3-96 2 83 2 27 2-30 2 27 2 42 3-18 2-87 2 10 2-47 2 234 2-99 3 4 2-43 2 51 2 7 2-98 3 49 2 107 2-192 2 28 2 125 2-108 3 124 2-142 2 106 2 48 2-32 2 32 3-73 2 3 2 12 2 48 2 139 2-187 3 155 2-165 2-69 2 67 2 53 3-16 2-3 2 32 2 3 2 27 2-164 3 94 2-75 2 94 2-25 2 19 2-49 3-28 2 46 2 71 2 9 2-190 2 151 3 1 2-136 2 30 2 43 2 73 3-214 2 153 2-12 2 57 2 97 2-6 3-135 2 2 2 49 2 73 2 22 2-86 3 88 2-182 2-20 2-129 2 152 2 115 3 23 2 114 2-134 2-32 2-89 3 29 2 2 2 30 2-34 2-61 2 197 3-47 2 73 2-233 2 25 2 43 2 153 3-107 2 33 2-24 2 22 2-55 2 72 3-96 2 48 2 42 2-13 2 26 3-97 2 85 2-43 2 54 2 85 2-185 3 153 2-135 2 21 2 162 2-55 2-34 3 24 2 28 2-149 2 76 2-49 2 63 3-57 2 82 2-57 2-48 2 42 3 39 2 48 2-98 2-14 2 46 2 39 3-102 2-152 2 216 2-50 2-4 2 210 3-191 2 64 2-164 2 127 2 40 2-44 3-31 2 56 2-40 2 100 2-89 3-79 2-94 2 97 2 33 2-72 2 11 3-52 2 44 2 92 2-31 2 5 2-12 3 6 2 75 2 101 2-113 2 104 2-165 3 3 2 129 2-186 2-16 2 58 3-124 2-18 2 238 2-176 2 44 2 0 3-42 2 126 2-12 2 16 2-8 2-53 3 103 2-34 2-129 2 48 2-37 2 174 3-88 2-20 2-48 2 45 2-120 3 75 2-8 2-2 2-56 2 89 2-126 3 50 2 22 2 7 2-39 2-40 2 4 3 43 2-41 2 58 2-89 2 98 2 158 3-267 2 95 2 98 2-76 2 52 3-234 2 124 2 160 2-166 2 72 2-181 3 229 2 92 2-182 2 31 2 4 2 132 3-201 2-99 2 277 2-242 2 132 2-230 3 146 2 45 2-104 2 41 2 83 3-106 2 90 2 95 2-302 2 181 2 16 3-79 2 144 2-21 2-70 2-3 2-50 3-85 2 121 2-78 2-12 2 129 2-105 3 88 2-158 2 45 2-164 2 299 3-116 2 66 2-117 2 62 2 52 2-138 3 14 2 100" class="bl b2"/><path transform="scale(0.1)" d="M3454 887l7 4 6 4 7 3 6 3 7 2 6 3 7 2 6 2 7 2 6 2 7 2 6 2 7 2 6 2 7 3 6 2 7 3 6 2 7 2 6 3 7 3 6 2 7 3 7 2 6 3 7 3 6 3 7 3 6 3 7 3 6 3 7 4 6 4 7 4 6 4 7 4 6 5 7 4 6 4 7 5 6 4 7 4 6 4 7 4 6 4 7 3 7 3 6 3 7 3 6 2 7 2 6 2 7 3 6 2 7 2 6 2 7 2 6 2 7 2 6 1 7 2 6 1 7 2 6 1 7 1 6 1 7 0 6 1 7 0 7 1 6 0 7 1 6 0 7 0 6 1 7 0 6 0 7 1 6 0 7 0 6 0 7 0 6 0 7-1 6-1 7-3 6-3 7-4 6-5 7-5 6-6 7-5 7-7 6-6 7-6 6-7 7-6 6-7 7-7 6-8 7-9 6-10 7-10 6-10 7-11 6-11 7-10 6-11 7-10 6-10 7-10 6-9 7-8 6-8 7-10 7-9 6-9 7-8 6-7 7-5 6-3 7-1 6 0 7 1 6 1 7 2 6 1 7 2 6 3 7 2 6 3 7 3 6 3 7 3 6 3 7 3 6 5 7 5 6 6 7 6 7 6 6 7 7 7 6 6 7 6 6 6 7 5 6 5 7 6 6 5 7 6 6 5 7 5 6 5 7 5 6 5 7 4 6 4 7 4 6 4 7 3 6 2 7 2 7 2 6 2 7 2 6 2 7 1 6 2 7 1 6 1 7 2 6 1 7 1 6 1 7 2 6 1 7 1 6 1 7 2 6 1 7 2 6 2 7 1 6 2 7 2 7 2 6 2 7 2 6 1 7 2 6 2 7 1 6 1 7 2 6 1 7 0 6 1 7 0 6 0 7-1 6-2 7-3 6-4 7-4 6-6 7-5 6-7 7-6 7-7 6-6 7-7 6-6 7-7 6-5 7-7 6-6 7-7 6-7 7-7 6-7 7-7 6-7 7-8 6-7 7-8 6-8 7-7 6-8 7-8 6-7 7-8 7-7 6-8 7-8 6-8 7-8 6-8 7-8 6-9 7-8" class="yrib"/><path transform="scale(0.1)" d="M3454 929l2-80 2 39 3-8 2 39 2-28 2-5 2 19 2-11 3 66 2-102 2 74 2 33 2-36 2-2 3-40 2 43 2-34 2 37 2-92 2 50 3-41 2 88 2-49 2 48 2-44 3-2 2 67 2-13 2 2 2 11 2-22 3 7 2 15 2-45 2-12 2 55 2-21 3-16 2 7 2 15 2-44 2 0 2 6 3 27 2-64 2 8 2 64 2-8 3-37 2 59 2-35 2 12 2 23 2-14 3 41 2-30 2 44 2-125 2 24 2 9 3 28 2-20 2-7 2 8 2 4 2 55 3-39 2 29 2 20 2 0 2-45 3-18 2 72 2-90 2 9 2 55 2 4 3-11 2-30 2 41 2 22 2-41 2 72 3-64 2-29 2 26 2-13 2 9 2-5 3 18 2 29 2-16 2-4 2-38 3-9 2 37 2 35 2 1 2-15 2-45 3 33 2 12 2 23 2-47 2 18 2 12 3-3 2-45 2 55 2-53 2 15 2 36 3-23 2 32 2 22 2-15 2 20 3-40 2 16 2-15 2-6 2 117 2-99 3 63 2-56 2 32 2-27 2-36 2 92 3-55 2 9 2 55 2-74 2 20 2 17 3 7 2-114 2 107 2 42 2-24 3-16 2 2 2-8 2 29 2-46 2 31 3 27 2-16 2-12 2-35 2 11 2 25 3-9 2-5 2-53 2 79 2-32 2-6 3 50 2-33 2 1 2 20 2-30 3-13 2-2 2 39 2-10 2-63 2 102 3-38 2-19 2 22 2-14 2 15 2-17 3-15 2 45 2-12 2 8 2 11 2-11 3 34 2-55 2-28 2 1 2 13 3 66 2-73 2 67 2-19 2-56 2 86 3-56 2 17 2 13 2 22 2-38 2 26 3-44 2-5 2 77 2-26 2-5 2 26 3-2 2-36 2 9 2 43 2-33 3-31 2 51 2-8 2-74 2 9 2 86 3-8 2-50 2 46 2-28 2 6 2-29 3 91 2-10 2-28 2-66 2 34 2 46 3-64 2-7 2 28 2 3 2-22 3-23 2 31 2-11 2 17 2 10 2 16 3-35 2 17 2-2 2-34 2 13 2-12 3 72 2-62 2 33 2 7 2 1 2-61 3 11 2 45 2 12 2-34 2 13 3-63 2 91 2 10 2-47 2-9 2-5 3-20 2-40 2 70 2 4 2 35 2-61 3-20 2 31 2-44 2 32 2-45 2 33 3 39 2-15 2 25 2 4 2-61 3-20 2-34 2 57 2 3 2 23 2-63 3 15 2 27 2-40 2 2 2 69 2-79 3 16 2 13 2-1 2-66 2 4 2-11 3 85 2-17 2-49 2 59 2-17 3 29 2-111 2 20 2 15 2 4 2 15 3-4 2-33 2 36 2-61 2 47 2 8 3-68 2 39 2-24 2 25 2 51 2-86 3 52 2-75 2 74 2 5 2-67 3-7 2 6 2 35 2-65 2 66 2-33 3 7 2-16 2-39 2 41 2-38 2-7 3 68 2-19 2-25 2 3 2-30 2 63 3-81 2-3 2 23 2 33 2-44 3 13 2-36 2 17 2-27 2 31 2-58 3 108 2-41 2-46 2 57 2-68 2 55 3-40 2 29 2-15 2-19 2 7 2 8 3-74 2 63 2 29 2-56 2 3 2-11 3-17 2 81 2-58 2-2 2 34 3-7 2 96 2-71 2-69 2 106 2-36 3-24 2-7 2-31 2 101 2-53 2-23 3 65 2-37 2-55 2 17 2 24 2 94 3-72 2-15 2 22 2-6 2-92 3 98 2 23 2-35 2 18 2 1 2-6 3-24 2 17 2 43 2-30 2-16 2 29 3-46 2 13 2 54 2-37 2-47 2 15 3 49 2-26 2 49 2 25 2-57 3 11 2-5 2 18 2-8 2 27 2-27 3-9 2 29 2-24 2 78 2-26 2-64 3-7 2 46 2 12 2 36 2-46 2-10 3 68 2-59 2 4 2 4 2 47 3-47 2 62 2-86 2 41 2 41 2-73 3 8 2 55 2-82 2 96 2-37 2-24 3 103 2-94 2 33 2 0 2 33 2-40 3 44 2-2 2-14 2 25 2-81 3 87 2-16 2-11 2-8 2-22 2 0 3 35 2 3 2-11 2-22 2 5 2 37 3 46 2-122 2 36 2 21 2-2 2 26 3 15 2-19 2-2 2 12 2 26 3-34 2-25 2 32 2-14 2 62 2-55 3-1 2 33 2 15 2-63 2 37 2-38 3 28 2-31 2 29 2 35 2-41 2 7 3-28 2 33 2-2 2-36 2-9 3 13 2-8 2 18 2-9 2-3 2 14 3 11 2-2 2-66 2 71 2 7 2 4 3-9 2-8 2 41 2 26 2-67 2 56 3-54 2 4 2-29 2-15 2 39 3 27 2 19 2-11 2-24 2 63 2-63 3 3 2-19 2 30 2-13 2 26 2-8 3 39 2-55 2-41 2 41 2-5 2 40 3-70 2 65 2-46 2 21 2 32 3-57 2 30 2-4 2-8 2 15 2 11 3-24 2 26 2-13 2 22 2 25 2-24 3-4 2-15 2-34 2 85 2-53 2 70 3-34 2-16 2 52 2-11 2-59 3 3 2 6 2 21 2-87 2 68 2 21 3-74 2 31 2 29 2-45 2 30 2-14 3 12 2 37 2-58 2 24 2 34 2-8 3-50 2 38 2-13 2-18 2 14 3 48 2-65 2-10 2 1 2-23 2 35 3-13 2-26 2 54 2-61 2-2 2 26 3-33 2 27 2 49 2-61 2 22 2-5 3 6 2-38 2 22 2 34 2-37 3-9 2 40 2-10 2-4 2 4 2-30 3-22 2-28 2 19 2 3 2-6 2-8 3 49 2-34 2 9 2 11 2 8 2-1 3-9 2 27 2-54 2 14 2-6 3-9 2-14 2 36 2-16 2 42 2 15 3-10 2-105 2 97 2-70 2-32 2 54 3-63 2-9 2 24 2-45 2 49 2 38 3-40 2 26 2 23 2-4 2-108 3 82 2-18 2 16 2-26 2 9 2 2 3 21 2 3 2-22 2-33 2-55 2 28 3-26 2 37 2 15 2 33 2-41 2 61 3-57 2-60 2 36 2-26 2 42 3 26 2-28 2-6 2-49 2-26 2 78 3-14 2-9 2 3 2 24 2-42 2-11 3-3 2 44 2-35 2 45 2-80 2 54 3-25 2 2 2 2 2 11 2 18 3-106 2 41 2-4 2-57 2 62 2-22 3 13 2-37" class="yl yA2"/><rect x="511.8" y="30.0" width="165.3" height="11.0" fill="#8fd5eb"/><text x="556.1" y="39.2" class="st" text-anchor="middle">2018</text><text x="633.9" y="40.1" class="st" text-anchor="middle">2019</text><rect x="511.8" y="41.0" width="165.3" height="165.6" fill="#ebebeb"/><line x1="511.8" x2="677.1" y1="176.6" y2="176.6" class="hm"/><line x1="511.8" x2="677.1" y1="131.3" y2="131.3" class="hm"/><line x1="511.8" x2="677.1" y1="86.0" y2="86.0" class="hm"/><line x1="511.8" x2="677.1" y1="199.2" y2="199.2" class="hM"/><line x1="511.8" x2="677.1" y1="153.9" y2="153.9" class="hM"/><line x1="511.8" x2="677.1" y1="108.7" y2="108.7" class="hM"/><line x1="511.8" x2="677.1" y1="63.4" y2="63.4" class="hM"/><line x1="515.9" x2="515.9" y1="41.0" y2="206.6" class="vM2"/><line x1="535.8" x2="535.8" y1="41.0" y2="206.6" class="vm"/><line x1="555.8" x2="555.8" y1="41.0" y2="206.6" class="vM2"/><line x1="575.7" x2="575.7" y1="41.0" y2="206.6" class="vm"/><line x1="595.6" x2="595.6" y1="41.0" y2="206.6" class="vM2"/><line x1="615.5" x2="615.5" y1="41.0" y2="206.6" class="vm"/><line x1="635.4" x2="635.4" y1="41.0" y2="206.6" class="vM2"/><line x1="655.4" x2="655.4" y1="41.0" y2="206.6" class="vm"/><line x1="675.3" x2="675.3" y1="41.0" y2="206.6" class="vM2"/><line x1="515.9" x2="515.9" y1="206.6" y2="207.9" class="tk"/><line x1="555.8" x2="555.8" y1="206.6" y2="207.9" class="tk"/><line x1="595.6" x2="595.6" y1="206.6" y2="207.9" class="tk"/><line x1="635.4" x2="635.4" y1="206.6" y2="207.9" class="tk"/><line x1="675.3" x2="675.3" y1="206.6" y2="207.9" class="tk"/><text x="515.9" y="215.5" class="jl" text-anchor="middle">Jan</text><text x="595.6" y="215.5" class="jl" text-anchor="middle">Jan</text><path transform="scale(0.1)" d="M5159 743l2 210 2-432 3 384 2-226 2 317 2-34 2-232 2 9 3 251 2-259 2 235 2-57 2-69 3 86 2-297 2 307 2 204 2-350 2 243 3-14 2 378 2-559 2 27 2 4 3-24 2-99 2 245 2-137 2 237 2-53 3-197 2 94 2 244 2-237 2 78 3 90 2-174 2 119 2 165 2-63 2-403 3 463 2-243 2-52 2-3 2 263 3-125 2-63 2-91 2 204 2 74 2-302 3-13 2 105 2 138 2-140 2 43 3-101 2 294 2-190 2 40 2 135 2-184 3 27 2 64 2-112 2 256 2-190 3-67 2 22 2-109 2 321 2 44 2-244 3-29 2-232 2 212 2 211 2-235 3 233 2 91 2-573 2 322 2-54 2 23 3-174 2 215 2-129 2 316 2 52 3-394 2-6 2 137 2 41 2 10 2 121 3-311 2 124 2 23 2 19 2-93 3 78 2-33 2 270 2-234 2-235 2 381 3-53 2-142 2-8 2 48 2 316 3-296 2 238 2-49 2-192 2 120 2-154 3-326 2 334 2 9 2 228 2-34 3 61 2-73 2 79 2-59 2-62 2 113 3 60 2-7 2-253 2 56 2-134 3-1 2 195 2-141 2 298 2-522 2 154 3 199 2 134 2-216 2 317 2-152 3-214 2 95 2 80 2-201 2 280 2-185 3 110 2 50 2-183 2 205 2-406 3 350 2-361 2 434 2-238 2 254 2 20 3-210 2-72 2 274 2-344 2 279 3-130 2-35 2-29 2 336 2-479 2 148 3 139 2 85 2 94 2-46 2-268 3 125 2 111 2-85 2-293 2 265 3 36 2-271 2 124 2 59 2 91 2 133 3-54 2-97 2-36 2-81 2-28 3 46 2 0 2 173 2 161 2-230 2 61 3-43 2-53 2 136 2-19 2-142 3-30 2 108 2-162 2 100 2 113 2-149 3-259 2 359 2-259 2-30 2-17 3 325 2-398 2 266 2 52 2-4 2-117 3 77 2 31 2-205 2 280 2 44 3-258 2 11 2-56 2 303 2-303 2 83 3-181 2 421 2-207 2 68 2 183 3-125 2-260 2 223 2 34 2-225 2-19 3-1 2 248 2-104 2-155 2 235 3 12 2-223 2-105 2 380 2 201 2-162 3-63 2-124 2-107 2 105 2 76 3-121 2 155 2-130 2 82 2-468 2 260 3 230 2 21 2-80 2 168 2-130 3-1 2-229 2 182 2 50 2 75 2-25 3-157 2 19 2-191 2 246 2-239 3 111 2 35 2 280 2-103 2-286 2-94 3 166 2-80 2 163 2-7 2 39 3-231 2 87 2 79 2 12 2-126 2 31 3 161 2-360 2 203 2 33 2-207 3 62 2 154 2-89 2 223 2-61 2 225 3-490 2 436 2-363 2 210 2 19 3-111 2-66 2-50 2-164 2 197 2-75 3 206 2-185 2 77 2 86 2-53 3-6 2-36 2-30 2 126 2 32 2-210 3 342 2-152 2-305 2 597 2-284 3-195 2 328 2-597 2 727 2-566 2-18 3 89 2 159 2-82 2 176 2-240 3 270 2-120 2-179 2 296 2-106 2-75 3 211 2-352 2 115 2 260 2-206 3 102 2-17 2-103 2 110 2-235 2 234 3-236 2-315 2 333 2 196 2-5 3 91 2-243 2-50 2-166 2 117 2 146 3 65 2-84 2 59 2-209 2 74 3 250 2-21 2-288 2 149 2 77 2-199 3 221 2-14 2 26 2 211 2-396 3 291 2-89 2 25 2-206 2 112 2-11 3 238 2-223 2 196 2-250 2-8 3 55 2-289 2 213 2-9 2 65 2 47 3-162 2-18 2 338 2-330 2 76 3-62 2 71 2 240 2-9 2-420 2 222 3 235 2-247 2 100 2 209 2 63 3-95 2-262 2 45 2 29 2-74 2-43 3 380 2-252 2 75 2 57 2-95 3-59 2 21 2 168 2-136 2-349 2 431 3 90 2-274 2-45 2 20 2 223 3-296 2 251 2 50 2-73 2-69 2-115 3 14 2 91 2-133 2 121 2-114 3 324 2 25 2-329 2 305 2-152 2-27 3 56 2-4 2-258 2 551 2-477 3-197 2 320 2 7 2-104 2-153 2 424 3-177 2 39 2-103 2 58 2-69 3 153 2-64 2 102 2 1 2-72 2 2 3 146 2-383 2 241 2 177 2-347 3 261 2-175 2 76 2-36 2 13 2 106 3-84 2-278 2 601 2-322 2-50 3 211 2 46 2-494 2 357 2-342 2 218 3 66 2-55 2-20 2-75 2 106 3 42 2-3 2-163 2 76 2 257 2-50 3-134 2 135 2-33 2 83 2-96 3-95 2-78 2 139 2-288 2 303 2-457 3 309 2 72 2 141 2 328 2-373 3-46 2-243 2 465 2-460 2 304 2-136 3 459 2-375 2 69 2-143 2 84 3 175 2-293 2 37 2 14 2-56 3-12 2 158 2 189 2 5 2-383 2 91 3 86 2 76 2-64 2 2 2 52 3 51 2-401 2 273 2 118 2 99 2-81 3-202 2-4 2 138 2-38 2 51 3 113 2-337 2 131 2-295 2 454 2-86 3-143 2 158 2 161 2-62 2-147 3-34 2 61 2-154 2 2 2 93 2 42 3 39 2-113 2-52 2 120 2-55 3 108 2 152 2-58 2-249 2 44 2-161 3 215 2-114 2-65 2 45 2 224 3-60 2-45 2 156 2-206 2-78 2 210 3-345 2 317 2-13 2 4 2 65 3-159 2 55 2-232 2 147 2 9 2 105 3 167 2-188 2 106 2-255 2 136 3-239 2 128 2-15 2 82 2 2 2-65 3-40 2 227 2-171 2-301 2 378 3 21 2 59 2 104 2-373 2 156 2-36 3-219 2-96 2 474 2-275 2 58 3 29 2-14 2 68 2-229 2 135 2 35 3-129 2 47 2 59 2 16 2-202 3 172 2 82 2 105 2-75 2 97 2-165 3-24 2 322 2-293 2-91 2 65 3 154 2-314 2 273 2 72 2-23 2-153 3-142 2-28 2 131 2 195 2-78 3 31 2-103 2 221 2-267 2-77 2 109 3-88 2 194 2 70 2-117 2-253 3 15 2 207 2-235 2 212 2-259 2 142 3 129 2-177 2 219 2 20 2 71 3-242 2 42 2 1 2 45 2-261 2 260 3 40 2-278 2-27 2 150 2-297 3 426 2-172 2 81 2-217 2 408 2-289 3 182 2-276 2 195 2-157 2-158 3 497 2-44" class="bl b3"/><path transform="scale(0.1)" d="M5159 887l7 4 6 4 7 3 6 3 7 2 6 3 7 2 6 2 7 2 6 2 7 2 7 2 6 2 7 2 6 3 7 2 6 3 7 2 6 2 7 3 6 3 7 2 7 3 6 2 7 3 6 3 7 3 6 3 7 3 6 3 7 3 6 4 7 4 7 4 6 4 7 4 6 5 7 4 6 4 7 5 6 4 7 4 6 4 7 4 7 4 6 3 7 3 6 3 7 3 6 2 7 2 6 2 7 3 6 2 7 2 7 2 6 2 7 2 6 2 7 1 6 2 7 1 6 2 7 1 7 1 6 1 7 0 6 1 7 0 6 1 7 0 6 1 7 0 6 0 7 1 7 0 6 0 7 1 6 0 7 0 6 0 7 0 6 0 7-1 6-1 7-3 7-3 6-4 7-5 6-5 7-6 6-5 7-7 6-6 7-6 6-7 7-6 7-7 6-7 7-8 6-9 7-10 6-10 7-10 6-11 7-11 6-10 7-11 7-10 6-10 7-10 6-9 7-8 6-8 7-10 6-9 7-9 6-8 7-7 7-5 6-3 7-1 6 0 7 1 6 1 7 2 6 1 7 2 6 3 7 2 7 3 6 3 7 3 6 3 7 3 6 3 7 5 6 5 7 6 6 6 7 6 7 7 6 7 7 6 6 6 7 6 6 5 7 5 6 6 7 5 6 6 7 5 7 5 6 5 7 5 6 5 7 4 6 4 7 4 6 4 7 3 6 2 7 2 7 2 6 2 7 2 6 2 7 1 6 2 7 1 6 1 7 2 6 1 7 1 7 1 6 2 7 1 6 1 7 1 6 2 7 1 6 2 7 2 7 1 6 2 7 2 6 2 7 2 6 2 7 1 6 2 7 2 6 1 7 1 7 2 6 1 7 0 6 1 7 0 6 0 7-1 6-2 7-3 6-4 7-4 7-6 6-5 7-7 6-6 7-7 6-6 7-7 6-6 7-7 6-5 7-7 7-6 6-7 7-7 6-7 7-7 6-7 7-7 6-8 7-7 6-8 7-8 7-7 6-8 7-8 6-7 7-8 6-7 7-8 6-8 7-8 6-8 7-8 7-8 6-9 7-8" class="yrib"/><path transform="scale(0.1)" d="M5159 872l2 7 2 18 3-15 2-24 2 96 2-56 2 10 2-3 3 50 2-78 2 47 2-17 2 9 3 35 2-35 2 41 2-25 2-18 2-8 3-1 2 6 2-66 2 50 2 50 3-17 2 2 2-14 2 13 2 8 2-73 3 48 2 12 2-2 2 0 2-47 3 28 2-18 2 125 2-101 2-20 2-27 3 58 2 53 2-68 2 36 2 36 3-34 2-48 2-4 2 15 2 53 2-104 3 110 2-32 2 41 2-80 2 26 3-12 2 24 2 6 2-6 2 61 2-84 3 3 2 40 2-11 2-8 2-36 3 34 2 12 2 17 2 30 2-25 2-19 3 10 2-8 2-19 2 10 2 6 3-11 2 15 2 7 2-13 2 65 2-86 3 75 2-61 2 25 2-31 2 33 3 29 2-58 2 27 2 4 2 2 2-26 3 7 2 18 2 54 2-33 2-13 3-49 2 43 2 16 2-37 2 40 2-1 3-4 2 50 2-71 2 17 2 23 3 27 2-39 2-33 2 61 2 14 2-42 3 61 2 19 2-50 2 8 2-10 3 9 2-25 2 18 2 13 2-3 2-31 3-8 2 3 2 7 2 119 2-67 3-19 2-14 2 55 2-88 2 34 2 28 3-22 2 16 2 13 2-37 2 30 3 29 2-23 2-14 2 29 2-68 2 70 3-83 2 26 2 55 2-31 2-30 3 41 2 30 2-37 2-55 2 103 2-59 3 16 2 5 2 8 2-1 2-39 3 13 2 48 2-75 2 85 2-57 2 15 3-29 2 25 2-20 2 32 2-29 3 20 2-53 2 84 2-55 2 22 3 9 2 22 2-29 2 57 2-3 2-61 3 68 2-88 2 51 2-15 2 5 3-10 2 21 2 3 2-7 2-34 2-3 3-3 2 26 2 17 2 44 2-68 3-6 2 37 2-36 2-14 2 36 2-28 3 22 2 60 2-37 2-2 2-27 3 41 2-12 2 15 2-27 2-3 2-27 3 6 2 18 2-2 2 4 2 0 3-42 2 119 2-68 2-14 2-24 2 65 3-42 2-15 2 39 2 43 2-46 3 25 2-55 2 45 2-78 2 49 2 27 3-8 2 17 2-44 2-32 2 50 3-34 2 55 2-37 2-59 2 108 2-78 3 1 2 89 2-14 2-14 2-59 3 40 2-9 2-27 2 16 2-5 2 15 3-44 2 54 2-74 2 58 2 11 3-44 2 4 2 70 2-67 2 44 2-17 3-50 2 47 2-38 2 19 2-70 3 58 2 29 2-4 2-8 2-33 2 2 3-31 2 22 2-1 2-8 2 11 3-14 2-17 2-3 2 37 2 33 2-31 3-34 2 78 2-62 2-30 2 26 3 14 2-88 2 7 2 45 2-50 2-2 3 68 2-116 2 103 2-23 2 21 3-38 2 37 2-42 2-36 2 22 2 11 3-57 2 68 2-58 2 34 2-19 3 2 2-6 2 2 2 18 2-9 2-33 3 13 2 28 2-16 2-4 2-21 3-10 2 0 2 19 2-22 2 38 2 41 3-86 2 44 2-24 2 4 2-57 3 52 2-47 2 20 2 19 2 7 2-62 3-1 2-13 2-34 2 44 2-2 3 11 2-8 2 12 2 15 2-85 2 113 3-62 2-5 2 8 2 33 2-22 3 8 2 18 2-30 2 11 2 5 2-36 3 52 2-43 2 31 2-30 2 11 3-4 2 37 2-6 2 3 2-29 2-16 3-9 2 47 2-16 2 51 2 18 3-38 2-5 2 27 2 7 2-67 2 41 3 26 2-116 2 64 2 15 2-28 3 43 2-67 2 92 2-5 2-33 2 20 3-63 2 90 2-24 2-26 2-8 3-11 2 21 2-52 2 80 2-17 2-17 3 36 2 2 2 7 2 8 2 16 3-15 2 32 2-54 2 60 2-105 2 13 3 19 2 41 2 13 2-51 2 32 3-9 2 39 2-50 2 56 2-25 2 56 3-30 2-32 2 30 2 2 2-35 3 27 2-36 2 109 2-86 2 3 2 62 3-5 2-62 2 59 2-11 2-35 3 29 2-22 2 42 2-33 2-21 2 24 3 75 2-82 2 19 2 30 2-66 3 94 2-105 2 75 2-63 2 48 2 39 3-40 2-6 2-5 2-14 2 59 3-40 2-6 2 30 2 21 2 1 2-49 3-1 2 48 2 16 2-75 2 83 3-50 2 29 2 29 2-55 2 10 2-47 3-24 2 73 2-35 2 0 2 46 3 11 2-72 2 58 2-9 2 8 2-4 3 14 2-39 2-15 2 48 2 30 3-41 2 45 2-24 2-54 2-32 2 57 3 43 2-54 2 90 2-46 2-64 3 23 2 63 2 8 2-73 2 27 2 16 3-29 2 30 2 40 2-80 2 43 3 11 2 10 2-46 2 32 2-42 2 27 3-39 2 43 2 9 2 39 2-25 3-53 2-68 2 127 2-6 2-40 3-3 2 34 2-21 2 50 2-38 2-34 3-21 2 53 2 3 2-20 2-18 3 18 2 37 2-32 2-17 2 50 2 19 3-54 2 5 2-17 2 26 2 22 3-5 2 18 2-2 2-11 2-2 2-46 3 69 2-34 2 16 2-60 2 36 3 19 2-34 2 22 2 16 2-59 2 25 3-30 2 17 2 11 2 19 2 36 3-52 2 18 2-17 2 20 2 20 2 9 3-50 2-18 2 45 2-22 2-28 3 64 2-16 2 22 2-68 2 25 2 20 3 33 2-44 2-36 2 36 2 2 3-33 2 53 2-40 2-18 2 38 2 0 3-34 2 8 2 2 2-15 2-3 3 32 2-10 2-35 2-22 2-9 2 62 3-59 2 8 2 21 2-17 2-13 3-30 2 81 2-50 2 20 2 0 2-42 3 8 2 51 2-23 2-17 2 45 3-68 2 25 2-9 2-8 2-45 2 50 3 9 2-64 2 63 2-1 2 22 3-74 2 21 2-8 2 7 2 6 2 16 3-2 2-38 2 6 2-46 2 67 3-10 2 13 2-73 2 74 2-61 2-22 3 43 2-27 2 80 2-53 2 34 3-56 2 3 2 20 2-53 2 15 2 23 3-3 2 25 2-39 2-70 2 80 3-36 2 26 2-42 2 8 2 17 2 43 3-40 2-52 2 39 2-28 2 30 3 37 2-69 2 0 2 24 2-9 2-22 3 23 2-30 2 14 2 59 2-67 3 11 2 4 2-39 2 23 2-32 2-19 3 24 2 47 2-27 2-51 2 31 3 13 2-23" class="yl yA3"/><text x="35.2" y="202.4" class="yt" text-anchor="middle">0</text><text x="40.2" y="157.1" class="yt" text-anchor="end">0.1</text><text x="40.2" y="111.9" class="yt" text-anchor="end">0.2</text><text x="40.2" y="66.6" class="yt" text-anchor="end">0.3</text><text transform="translate(15.7,120.8) rotate(-90) scale(1,1.1)" class="at ay" text-anchor="middle">Incidence per 100,000 per day</text><text transform="translate(355.2,227.5) scale(1,1.1)" class="at" text-anchor="middle">Year and month</text><text transform="translate(6.6,247.0) scale(1,1.04)" class="tt">B) XGBoost</text><text transform="translate(194.3,258.6) scale(1,1.1)" class="pt" text-anchor="middle">Training dataset</text><text transform="translate(426.9,252.6) scale(1,1.1)" class="pt" text-anchor="middle">Testing dataset</text><text transform="translate(426.9,264.6) scale(1,1.1)" class="pt" text-anchor="middle">internal place</text><text transform="translate(595.4,252.6) scale(1,1.1)" class="pt" text-anchor="middle">Testing dataset</text><text transform="translate(595.4,264.6) scale(1,1.1)" class="pt" text-anchor="middle">external place</text><rect x="46.8" y="267.0" width="290.0" height="10.6" fill="#8fd5eb"/><text x="75.1" y="275.8" class="st" text-anchor="middle">2013</text><text x="135.1" y="275.8" class="st" text-anchor="middle">2014</text><text x="192.8" y="275.8" class="st" text-anchor="middle">2015</text><text x="248.3" y="275.8" class="st" text-anchor="middle">2016</text><text x="307.5" y="275.8" class="st" text-anchor="middle">2017</text><rect x="46.8" y="277.6" width="290.0" height="164.6" fill="#ebebeb"/><line x1="46.8" x2="336.8" y1="412.1" y2="412.1" class="hm"/><line x1="46.8" x2="336.8" y1="367.5" y2="367.5" class="hm"/><line x1="46.8" x2="336.8" y1="322.9" y2="322.9" class="hm"/><line x1="46.8" x2="336.8" y1="434.4" y2="434.4" class="hM"/><line x1="46.8" x2="336.8" y1="389.8" y2="389.8" class="hM"/><line x1="46.8" x2="336.8" y1="345.2" y2="345.2" class="hM"/><line x1="46.8" x2="336.8" y1="300.6" y2="300.6" class="hM"/><line x1="104.5" x2="104.5" y1="277.6" y2="442.2" class="vM"/><line x1="162.5" x2="162.5" y1="277.6" y2="442.2" class="vM"/><line x1="219.5" x2="219.5" y1="277.6" y2="442.2" class="vM"/><line x1="276.5" x2="276.5" y1="277.6" y2="442.2" class="vM"/><line x1="334.5" x2="334.5" y1="277.6" y2="442.2" class="vM"/><line x1="47.2" x2="47.2" y1="442.2" y2="443.5" class="tk"/><line x1="104.6" x2="104.6" y1="442.2" y2="443.5" class="tk"/><line x1="162.1" x2="162.1" y1="442.2" y2="443.5" class="tk"/><line x1="219.5" x2="219.5" y1="442.2" y2="443.5" class="tk"/><line x1="277.0" x2="277.0" y1="442.2" y2="443.5" class="tk"/><line x1="334.4" x2="334.4" y1="442.2" y2="443.5" class="tk"/><text x="47.2" y="451.1" class="jl" text-anchor="middle">Jan</text><text x="104.6" y="451.1" class="jl" text-anchor="middle">Jan</text><text x="162.1" y="451.1" class="jl" text-anchor="middle">Jan</text><text x="219.5" y="451.1" class="jl" text-anchor="middle">Jan</text><text x="277.0" y="451.1" class="jl" text-anchor="middle">Jan</text><path transform="scale(0.1)" d="M472 3598l2-26 1 51 2 53 1-37 2 46 1-91 2-111 2 160 1 11 2-97 1 12 2 22 1 90 2-78 2-63 1 178 2-77 1 126 2-53 1 48 2-140 2 90 1-134 2 11 1 30 2 202 1-172 2-42 2-14 1 143 2-91 1 44 2-15 1-162 2 162 2-67 1-80 2 128 1-41 2-19 1 5 2 112 2-113 1-111 2 253 1-210 2 65 1 67 2-230 2 108 1 171 2-111 1-43 2 67 1-76 2 66 2-64 1-66 2 184 1-76 2 59 2-51 1 115 2-52 1-33 2-94 1-21 2 216 2-45 1-125 2 231 1-132 2-31 1-117 2 51 2 89 1 5 2-9 1-153 2 171 1-10 2-55 2 42 1 8 2 81 1-94 2 39 1-139 2 46 2 60 1-59 2 90 1-120 2 93 1-49 2 164 2-141 1 178 2 32 1-149 2 53 1-91 2-180 2 269 1-17 2-71 1-23 2 59 1 4 2-78 2 17 1 137 2-82 1-9 2 96 1-114 2 99 2-159 1 69 2 10 1 60 2-40 1 164 2-75 2-129 1 217 2-258 1 226 2-217 1 140 2-140 2 57 1 145 2-241 1-17 2 132 1 19 2-10 2 72 1-180 2 143 1-42 2 65 1-14 2 58 2-220 1 123 2-97 1 83 2 62 1-31 2 21 2-49 1 34 2-6 1 94 2-49 1-214 2 203 2 33 1-120 2-93 1 250 2-108 1 37 2 99 2-217 1 66 2-8 1 72 2-104 1 87 2-34 2 84 1 10 2-222 1 161 2-69 1 28 2 36 2 6 1-98 2 81 1-13 2-14 2-100 1 43 2 26 1 83 2 71 1-202 2-1 2 96 1-59 2-20 1-4 2-8 1 120 2-171 2 241 1-184 2 33 1-33 2-87 1 34 2 229 2 48 1-218 2 160 1-87 2-74 1 217 2 40 2-205 1 19 2 25 1-24 2 78 1 57 2-117 2 71 1 58 2-186 1 49 2-40 1 121 2-28 2 29 1-9 2-94 1 85 2-99 1 2 2-147 2 298 1-198 2 85 1-7 2 125 1-86 2-105 2 72 1-14 2 32 1-125 2 102 1 189 2-131 2 111 1 51 2-177 1-163 2 112 1 105 2-20 2-181 1 84 2 9 1 8 2-9 1-67 2 21 2 28 1 109 2-136 1 103 2-156 1 205 2-100 2-12 1 113 2-266 1 22 2 166 1-108 2 33 2 254 1-245 2 25 1-13 2 99 1-71 2-9 2-120 1 73 2 28 1-135 2 181 1-16 2 123 2-296 1 52 2 2 1 21 2 47 1-10 2 39 2-6 1-24 2-128 1 81 2 52 2 44 1 3 2-197 1 94 2 36 1 34 2 65 2-93 1-83 2 108 1-17 2-2 1-31 2 146 2-120 1 52 2-153 1 141 2-119 1-84 2 158 2 23 1-71 2 14 1 85 2-129 1-137 2 196 2-7 1 71 2-120 1 134 2-14 1-210 2 188 2-175 1-40 2 107 1-28 2-124 1 185 2 32 2 63 1-123 2-128 1 43 2 163 1-10 2-33 2-72 1 41 2-38 1-10 2 50 1-24 2-24 2 24 1-53 2-120 1 110 2 45 1 151 2-181 2 202 1-47 2-197 1 12 2 75 1 136 2-117 2 27 1-114 2-140 1 177 2 88 1 34 2-96 2 11 1 85 2-110 1 111 2-196 1 5 2-1 2 136 1-85 2 57 1 23 2-4 1 85 2 13 2-194 1 87 2-35 1-67 2 239 1-82 2-83 2-18 1 68 2-121 1 72 2 124 1-23 2-151 2 31 1 207 2-282 1 66 2-63 1 151 2-7 2 74 1-318 2 237 1-152 2 196 2-70 1 161 2-111 1-117 2 195 1-200 2 65 2 121 1-46 2-2 1-34 2 43 1 27 2-44 2 64 1 24 2-106 1-80 2 211 1-132 2 58 2 30 1-158 2 121 1-174 2 199 1-100 2 54 2 47 1-115 2 66 1-65 2 58 1 91 2-84 2-13 1-78 2 164 1-75 2 147 1-205 2 152 2 64 1-151 2-101 1 230 2-37 1-29 2 35 2-131 1 104 2-6 1-113 2 118 1-103 2 123 2 22 1 55 2-320 1 191 2-49 1 25 2-16 2 11 1-161 2 257 1 46 2-46 1 29 2-180 2-6 1 156 2 38 1-89 2-152 1 345 2-268 2 140 1-183 2 185 1-68 2 106 1-45 2-205 2 50 1 107 2 41 1 89 2-129 1-32 2 6 2 1 1 90 2-92 1-2 2-115 1-50 2 175 2 55 1-61 2 47 1 12 2-59 1 86 2-143 2 62 1-31 2 38 1 48 2 19 1-62 2 28 2-68 1 21 2 118 1-124 2 123 1-63 2-28 2 155 1-188 2-5 1 27 2 23 2-4 1 52 2-61 1 25 2-56 1 113 2-125 2 8 1 25 2 26 1-86 2 193 1-185 2 19 2-3 1-9 2 91 1-34 2-78 1 18 2 19 2 150 1-178 2-55 1 14 2 68 1 156 2-217 2 95 1 208 2-253 1 163 2-17 1-58 2-165 2 143 1-55 2-129 1 14 2 148 1 12 2 89 2-49 1-97 2 3 1 25 2-76 1 154 2-62 2-69 1 13 2-42 1 59 2 62 1-58 2 119 2 56 1-193 2 55 1-31 2 175 1-116 2 21 2 23 1 121 2-167 1-107 2 45 1 86 2-51 2-67 1 289 2-212 1-58 2-12 1-89 2 49 2 72 1 0 2-42 1 114 2-44 1-83 2-92 2 183 1-11 2-23 1-101 2 118 1-132 2 210 2-69 1-1 2-87 1-25 2 220 1-53 2-111 2 84 1 73 2-225 1 45 2-2 1 82 2-133 2 108 1-119 2 172 1-7 2-95 1 77 2-122 2 34 1 100 2-89 1 35 2-112 2 132 1-19 2-145 1-92 2 19 1 167 2-16 2-116 1 143 2 72 1-97 2-31 1 110 2 69 2-20 1-185 2 122 1-55 2-33 1-38 2 81 2-74 1 119 2-48 1 55 2-189 1 98 2 60 2-36 1-13 2-82 1 197 2-50 1-60 2-255 2 135 1 91 2-74 1-119 2 197 1 10 2-139 2 60 1-17 2 101 1-214 2 17 1 98 2-12 2 234 1-234 2 71 1-56 2-23 1 87 2 116 2-181 1 96 2-38 1 23 2-24 1 170 2-308 2 83 1-76 2-76 1 169 2 158 1-80 2 27 2-62 1-51 2 181 1-205 2 161 1-157 2 35 2 18 1-21 2 41 1 6 2 93 1-143 2-163 2-11 1 57 2 54 1 121 2-184 1 131 2 1 2 20 1-32 2 46 1-30 2 88 1-61 2-230 2 205 1 15 2-66 1-14 2 159 1-78 2-97 2 57 1 14 2-124 1 196 2-66 1 54 2-174 2 300 1-110 2-11 1-103 2 6 1-68 2 260 2-201 1 91 2 34 1-104 2 128 2 102 1-148 2 99 1-72 2-88 1 6 2-110 2 157 1 117 2-67 1 15 2 27 1-142 2 95 2 117 1-232 2 72 1-40 2 24 1-45 2 53 2-103 1 72 2 5 1-1 2 164 1-111 2 10 2-39 1 138 2-259 1 135 2 115 1 45 2-122 2-15 1 56 2-69 1 65 2-102 1 113 2-59 2-87 1-137 2 313 1-45 2 34 1-140 2 169 2-56 1-38 2 84 1-1 2-40 1 142 2-55 2-89 1-47 2 30 1 139 2-113 1-108 2 22 2 56 1 71 2-131 1 106 2 53 1-31 2-195 2 107 1-80 2 143 1-122 2 134 1-37 2-229 2 150 1 111 2-35 1-35 2-76 1 148 2 110 2-126 1-25 2-8 1-104 2 88 1-43 2 168 2-171 1-106 2 116 1 46 2 9 1-141 2 236 2-70 1-49 2-24 1 103 2-64 1 52 2-34 2 22 1 89 2-97 1-78 2 161 1-62 2-79 2 152 1-109 2 109 1-190 2-102 2 25 1 196 2-83 1 54 2 2 1-125 2 250 2-206 1 96 2-126 1 106 2 76 1-83 2-39 2 61 1-39 2 89 1 140 2-263 1 18 2 48 2 8 1-84 2 130 1 22 2-44 1-120 2 225 2-224 1 159 2 41 1-205 2 118 1 105 2-81 2-112 1-22 2 141 1-72 2-27 1 119 2-87 2 34 1 44 2-3 1-49 2 4 1 52 2-12 2-134 1 78 2-58 1-27 2 53 1-146 2 270 2-142 1 98 2-189 1 13 2 318 1-86 2-142 2-10 1 4 2 70 1-46 2-17 1 63 2-97 2 286 1-252 2 144 1-174 2 103 1 56 2-110 2 111 1-1 2 56 1-135 2-46 1-47 2 100 2-104 1 88 2 9 1-60 2-43 1 121 2-10 2-9 1-22 2 84 1-169 2 123 1-77 2 111 2-105 1-4 2 69 1-214 2 142 1-123 2 69 2 140 1-26 2-73 1 31 2 0 1 28 2 131 2-140 1 172 2-227 1 95 2-3 2-44 1-45 2 147 1 26 2-61 1 83 2-96 2-224 1 228 2-150 1 173 2-147 1 51 2-25 2-57 1-106 2 133 1 4 2 93 1-138 2 69 2-97 1 74 2-158 1 321 2-150 1-105 2 104 2 36 1-49 2 94 1-133 2-205 1 110 2 193 2-24 1-43 2-126 1 156 2-14 1-139 2-1 2 105 1 62 2 35 1-77 2 131 1-262 2 118 2-99 1-123 2 59 1 200 2-178 1-27 2 164 2 16 1-75 2 128 1-269 2 336 1-114 2-74 2-5 1-35 2-10 1 42 2-118 1 285 2-187 2 62 1-73 2-8 1 99 2-24 1-125 2 39 2 90 1-237 2-23 1 328 2-153 1-192 2 150 2 50 1 37 2 29 1-28 2 30 1-113 2 100 2 4 1 67 2-100 1 73 2-61 1-106 2 59 2-12 1 14 2 26 1 16 2 16 1-92 2 161 2-211 1 114 2 69 1-22 2 17 1-73 2 77 2-161 1 167 2 131 1-134 2 112 1-170 2-95 2 36 1 174 2-49 1-220 2 128 2 28 1-90 2-120 1 101 2 102 1-17 2-22 2 109 1 40 2-96 1 89 2-76 1-12 2-194 2 279 1-62 2 5 1-51 2-51 1 135 2 30 2 73 1-61 2-126 1 44 2 94 1-55 2-33 2-40 1 97 2-29 1 138 2-57 1-240 2 332 2-159 1-48 2 53 1 39 2-64 1-4 2 7 2 157 1-150 2 63 1-26 2-67 1-35 2-22 2 122 1-123 2-21 1 4 2-22 1 134 2 4 2-87 1 191 2-136 1 65 2-14 1 120 2-73 2-75 1-79 2-8 1 94 2 10 1 56 2-107 2 58 1-74 2-99 1 155 2 128 1-55 2 53 2-22 1-217 2 94 1 152 2-188 1-53 2 142 2 28 1-29 2-54 1-31 2-46 1-3 2 3 2-15 1 62 2 191 1-122 2-38 1 61 2-112 2 111 1 49 2-206 1 68 2 40 1-62 2-11 2 63 1 244 2-155 1-19 2 46 1-102 2-87 2 147 1 56 2-275 1 216 2 68 2-127 1-16 2 98 1-130 2 112 1 38 2-96 2-51 1 122 2-83 1 37 2-254 1 308 2-182 2 125 1 7 2-74 1-14 2-33 1 82 2 81 2-5 1-91 2-6 1-71 2 85 1-55 2-40 2 118 1 144 2-27 1 23 2-263 1 212 2-181 2 57 1-98 2 62 1 96 2 9 1-25 2-8 2 62 1-43 2-143 1 288 2-170 1 101 2-95 2-57 1 79 2-73 1 206 2-235 1 149 2-106 2 38 1 239 2-157 1-85 2-116 1 110 2 3 2 145 1-247 2-33 1 155 2 21 1 122 2-218 2-158 1 172 2-48 1 62 2 133 1-203 2 223 2-90 1-43 2-53 1 39 2 2 1 99 2 45 2-119 1 66 2 51 1-5 2-69 1 118 2-46 2 24 1-160 2-21 1-140 2 303 1-73 2-140 2 97 1 8 2-179 1 176 2 70 1 12 2-145 2 0 1 145 2-36 1-134 2-5 1 104 2-112 2 2 1 203 2-129 1-66 2 85 1 134 2-163 2-92 1-74 2 326 1-420 2 324 2-184 1-26 2 20 1 71 2 112 1-157 2 115 2 155 1-467 2 183 1-98 2 236 1-209 2-12 2 1 1 135 2 101 1-91 2 174 1-46 2-158 2 92 1-75 2-7 1-180 2 53 1 114 2-111 2 170 1-41 2-111 1 185 2-87 1 88 2-127 2-135 1 205 2-88 1 95 2 19 1 5 2-236 2-82 1 161 2 101 1-126 2 88 1-101 2 41 2-1 1-31 2 101 1-18 2 112 1-113 2 82 2-113 1 69 2-95 1-32 2 161 1-55 2 9 2-148 1-86 2 73 1 103 2-159 1 257 2-263 2 186 1 165 2-455 1 93 2 226 1-106 2 33 2-28 1 138 2-70 1-101 2 22 1-85 2 97 2-197 1 266 2-84 1 189 2-57 1-225 2 198 2-128 1 52 2 86 1-60 2 15 1-2 2-108 2 10 1 107 2 29 1-103 2 34 1-97 2-141 2 158 1 77 2 13 1 60 2 5 1 9 2-52 2 3 1-101 2 100 1-16 2 89 2-248 1 100 2-111 1 87 2-59 1 152 2-84 2-172 1 343 2-208 1-45 2 112 1-29 2-44 2 171 1-94 2 114 1-16 2-5 1-41 2-25 2-26 1 167 2-302 1 75 2 39 1 97 2-23 2-55 1 13 2 187 1-215 2-192 1 425 2-252 2 57 1 44 2-131 1 229 2-119 1-115 2 150 2 21 1-46 2 51 1-177 2 221 1-158 2 191 2-170 1 70 2 215 1-221 2 96 1-54 2-176 2 238 1-4 2-222 1 120 2-126 1 110 2 109 2-72 1-115 2 27 1 85 2-3 1 16 2 43 2-224 1 173 2 103 1-57 2-107 1 9 2 70 2 49 1-61 2 152 1-32 2-187 1 115 2-75 2-75 1 52 2 57 1-187 2 131 1 92 2-96 2 30 1 114 2-82 1 22 2 162 1-160 2 11 2 15 1 109 2-115 1-27 2-12 1 111 2-157 2 166 1-88 2-136 1 180 2-16 1-141 2 131 2-7 1-45 2-74 1 292 2-122 2 16 1 8 2-20 1-1 2-101 1 107 2-90 2-24 1 102 2-77 1-133 2 118 1 86 2-51 2 76 1-105 2-52 1 150 2-53 1-117 2 143 2-60 1 108 2-18 1-26 2-235 1 226 2 11 2 3 1-34 2-71 1 41 2-162 1 161 2-106 2 102 1-28 2 179 1-115 2-4 1 16 2 166 2-263 1 110 2 5 1-15 2-2 1-55 2 146 2-29 1-106 2 13 1 46 2 18 1 22 2-67 2-107 1 195 2-224 1 59 2 113 1-107 2 195 2 24 1-39 2-76 1-7 2 16 1-53 2 194 2-229 1 167 2-66 1-22 2 64 1 19 2-32 2-87 1-53 2 2 1 135 2-18 1 11 2-120 2 216 1-286 2 149 1 25 2-98 1-61 2 59 2-63 1 79 2-96 1-2 2 116 1-135 2 109 2 6 1 87 2-56 1-94 2 180 1-172 2 25 2 5 1 215 2-184 1-67 2 122 1-76 2 213 2-266 1 115 2-135 1 234 2-221 1 79 2-92 2 149 1-28 2-250 1 266 2-13 2-38 1 63 2-194 1-48 2 210 1 87 2-253 2 4 1 23 2-31 1 174 2-63 1 104 2 1 2-211 1 142 2-259 1 190 2 60 1-128 2-89 2 112 1 146 2-141 1-90 2 160 1 22 2-158 2 74 1 105 2-65 1 30 2-95 1 14 2-93 2 35 1 195 2-174 1-45 2 36 1-53 2 135 2 32 1-167 2 171 1 92 2-279 1 149 2-40 2 92 1-9 2-18 1-72 2-67 1 229 2-269 2 165 1-14 2-155 1 62 2 124 1-298 2 232 2-100 1 1 2-109 1 158 2-131 1 149 2-166 2 160 1-38 2-200 1 41 2 107 1-189 2 160 2 99 1-139 2-172 1 131 2-10 1 151 2 1" class="bl b1"/><path transform="scale(0.1)" d="M472 3589l2-2 1 4 2 5 1-3 2 4 1-7 2-9 2 13 1 1 2-8 1 1 2 2 1 8 2-7 2-5 1 15 2-6 1 10 2-4 1 4 2-11 2 7 1-11 2 1 1 3 2 16 1-14 2-3 2-1 1 12 2-8 1 4 2-1 1-13 2 13 2-5 1-6 2 10 1-3 2-2 1 1 2 9 2-9 1-9 2 21 1-17 2 5 1 6 2-19 2 9 1 14 2-9 1-3 2 5 1-5 2 5 2-5 1-5 2 15 1-6 2 5 2-4 1 9 2-4 1-2 2-8 1-1 2 17 2-3 1-10 2 18 1-10 2-2 1-9 2 4 2 8 1 1 2-1 1-12 2 15 1-1 2-4 2 4 1 1 2 7 1-7 2 4 1-10 2 4 2 5 1-4 2 8 1-9 2 8 1-3 2 14 2-11 1 15 2 3 1-11 2 5 1-7 2-13 2 22 1-1 2-5 1-1 2 5 1 1 2-5 2 2 1 11 2-6 1 0 2 8 1-8 2 8 2-12 1 6 2 2 1 5 2-3 1 14 2-6 2-10 1 18 2-20 1 18 2-17 1 12 2-11 2 5 1 12 2-19 1-1 2 11 1 2 2-1 2 6 1-14 2 12 1-3 2 6 1-1 2 5 2-17 1 10 2-7 1 7 2 5 1-2 2 2 2-4 1 3 2 0 1 8 2-4 1-17 2 17 2 3 1-9 2-7 1 20 2-9 1 4 2 8 2-17 1 5 2 0 1 6 2-8 1 7 2-2 2 7 1 1 2-18 1 13 2-5 1 3 2 3 2 0 1-7 2 6 1-1 2-1 2-7 1 3 2 3 1 6 2 6 1-16 2 0 2 8 1-5 2-1 1 0 2-1 1 10 2-14 2 20 1-15 2 3 1-3 2-7 1 3 2 19 2 3 1-17 2 13 1-7 2-6 1 18 2 3 2-16 1 1 2 2 1-2 2 7 1 4 2-9 2 6 1 5 2-15 1 4 2-3 1 9 2-2 2 3 1-1 2-8 1 7 2-7 1 0 2-12 2 24 1-16 2 7 1-1 2 10 1-6 2-9 2 6 1-1 2 3 1-10 2 8 1 15 2-11 2 9 1 4 2-14 1-13 2 9 1 8 2-2 2-15 1 7 2 0 1 0 2-1 1-7 2 1 2 2 1 8 2-12 1 7 2-13 1 15 2-9 2-2 1 8 2-23 1 1 2 12 1-10 2 2 2 19 1-21 2 1 1-2 2 7 1-7 2-2 2-11 1 5 2 1 1-12 2 14 1-3 2 9 2-24 1 3 2 0 1 1 2 3 1-2 2 2 2-1 1-2 2-11 1 5 2 4 2 2 1 0 2-16 1 6 2 3 1 2 2 4 2-8 1-7 2 8 1-2 2-1 1-3 2 11 2-11 1 4 2-13 1 11 2-11 1-7 2 12 2 1 1-6 2 1 1 6 2-11 1-12 2 15 2-1 1 5 2-10 1 10 2-1 1-18 2 15 2-15 1-3 2 8 1-3 2-10 1 14 2 2 2 5 1-10 2-11 1 3 2 13 1-1 2-3 2-6 1 3 2-4 1-1 2 4 1-3 2-2 2 1 1-4 2-10 1 8 2 3 1 12 2-15 2 15 1-4 2-16 1 0 2 6 1 10 2-10 2 2 1-9 2-12 1 14 2 6 1 3 2-9 2 1 1 7 2-10 1 9 2-16 1 0 2 0 2 11 1-7 2 4 1 2 2 0 1 6 2 1 2-15 1 7 2-3 1-5 2 19 1-6 2-6 2-2 1 6 2-9 1 6 2 10 1-1 2-12 2 3 1 17 2-22 1 5 2-4 1 12 2 0 2 7 1-25 2 19 1-12 2 17 2-5 1 13 2-8 1-9 2 16 1-15 2 5 2 11 1-3 2 0 1-2 2 4 1 3 2-3 2 5 1 3 2-8 1-6 2 18 1-10 2 5 2 3 1-12 2 10 1-13 2 16 1-7 2 5 2 4 1-9 2 6 1-4 2 5 1 8 2-6 2 0 1-6 2 14 1-5 2 12 1-15 2 13 2 6 1-12 2-7 1 19 2-2 1-1 2 3 2-9 1 9 2 0 1-8 2 11 1-8 2 11 2 3 1 5 2-25 1 16 2-3 1 3 2-1 2 2 1-12 2 21 1 5 2-3 1 3 2-14 2 0 1 13 2 4 1-6 2-12 1 28 2-21 2 12 1-14 2 15 1-5 2 9 1-3 2-16 2 5 1 8 2 4 1 8 2-10 1-2 2 1 2 0 1 8 2-7 1 0 2-9 1-3 2 14 2 5 1-4 2 4 1 1 2-4 1 7 2-11 2 5 1-2 2 4 1 4 2 2 1-5 2 3 2-5 1 2 2 10 1-10 2 10 1-4 2-2 2 13 1-15 2 0 1 2 2 2 2 0 1 5 2-5 1 2 2-4 1 10 2-10 2 1 1 2 2 2 1-7 2 16 1-15 2 2 2 0 1 0 2 7 1-3 2-6 1 2 2 1 2 12 1-14 2-4 1 1 2 6 1 12 2-17 2 7 1 17 2-20 1 13 2-2 1-4 2-14 2 12 1-5 2-10 1 1 2 12 1 1 2 7 2-4 1-8 2 0 1 2 2-6 1 13 2-5 2-6 1 1 2-3 1 4 2 5 1-4 2 9 2 5 1-16 2 5 1-3 2 14 1-9 2 1 2 2 1 10 2-14 1-8 2 4 1 6 2-4 2-5 1 23 2-17 1-5 2-1 1-7 2 4 2 6 1 0 2-3 1 9 2-4 1-6 2-7 2 14 1-1 2-2 1-8 2 9 1-11 2 16 2-6 1-1 2-7 1-3 2 17 1-5 2-10 2 6 1 4 2-19 1 3 2-1 1 5 2-12 2 8 1-11 2 13 1-2 2-9 1 5 2-11 2 2 1 6 2-8 1 2 2-11 2 10 1-3 2-13 1-8 2 0 1 13 2-3 2-10 1 11 2 5 1-9 2-4 1 8 2 5 2-3 1-16 2 9 1-6 2-3 1-4 2 5 2-7 1 8 2-5 1 4 2-16 1 6 2 4 2-4 1-2 2-8 1 15 2-5 1-6 2-21 2 9 1 7 2-7 1-11 2 15 1 0 2-12 2 3 1-2 2 7 1-18 2 1 1 7 2-2 2 18 1-20 2 5 1-5 2-2 1 6 2 9 2-15 1 7 2-4 1 2 2-3 1 13 2-25 2 7 1-7 2-6 1 13 2 12 1-6 2 2 2-6 1-4 2 14 1-17 2 13 1-13 2 2 2 1 1-2 2 3 1 1 2 7 1-12 2-13 2-2 1 5 2 4 1 9 2-15 1 10 2 0 2 1 1-3 2 4 1-3 2 7 1-6 2-18 2 16 1 1 2-6 1-1 2 12 1-6 2-8 2 4 1 1 2-10 1 16 2-6 1 4 2-14 2 24 1-9 2-1 1-8 2 0 1-5 2 20 2-16 1 7 2 3 1-8 2 10 2 8 1-11 2 8 1-5 2-7 1 1 2-9 2 13 1 10 2-4 1 1 2 3 1-11 2 9 2 10 1-18 2 6 1-2 2 3 1-3 2 5 2-7 1 6 2 1 1 1 2 14 1-8 2 2 2-2 1 12 2-20 1 11 2 11 1 4 2-9 2 0 1 5 2-5 1 7 2-8 1 10 2-4 2-6 1-10 2 26 1-3 2 3 1-10 2 14 2-4 1-3 2 8 1 0 2-2 1 12 2-4 2-7 1-3 2 3 1 12 2-9 1-8 2 3 2 5 1 6 2-10 1 9 2 5 1-2 2-14 2 9 1-6 2 12 1-9 2 11 1-2 2-18 2 13 1 9 2-2 1-2 2-6 1 13 2 9 2-9 1-2 2 0 1-8 2 8 1-3 2 14 2-13 1-8 2 9 1 5 2 1 1-11 2 19 2-5 1-4 2-1 1 8 2-4 1 4 2-2 2 2 1 7 2-8 1-5 2 13 1-5 2-6 2 12 1-8 2 9 1-15 2-8 2 2 1 16 2-6 1 4 2 1 1-10 2 20 2-16 1 8 2-10 1 9 2 6 1-7 2-3 2 6 1-3 2 7 1 11 2-21 1 2 2 4 2 1 1-7 2 11 1 2 2-3 1-10 2 18 2-17 1 12 2 4 1-16 2 9 1 9 2-7 2-8 1-2 2 11 1-5 2-2 1 9 2-7 2 3 1 4 2 0 1-4 2 0 1 5 2-1 2-11 1 6 2-4 1-2 2 4 1-12 2 22 2-11 1 8 2-16 1 2 2 25 1-7 2-11 2-1 1 0 2 6 1-4 2-2 1 5 2-8 2 23 1-20 2 11 1-14 2 8 1 4 2-9 2 8 1 0 2 4 1-11 2-4 1-4 2 7 2-9 1 7 2 0 1-5 2-4 1 9 2-1 2-2 1-2 2 6 1-14 2 9 1-7 2 9 2-9 1-1 2 5 1-18 2 11 1-11 2 5 2 10 1-2 2-7 1 2 2-1 1 2 2 10 2-12 1 13 2-19 1 7 2-1 2-4 1-4 2 11 1 1 2-5 1 6 2-9 2-18 1 17 2-13 1 14 2-13 1 3 2-3 2-5 1-9 2 10 1-1 2 7 1-12 2 5 2-9 1 5 2-14 1 25 2-13 1-9 2 7 2 2 1-5 2 7 1-12 2-17 1 8 2 14 2-3 1-4 2-12 1 12 2-2 1-13 2-1 2 7 1 4 2 2 1-7 2 9 1-22 2 8 2-9 1-11 2 3 1 15 2-16 1-3 2 12 2 0 1-8 2 9 1-23 2 25 1-11 2-8 2-3 1-5 2-3 1 1 2-11 1 20 2-18 2 3 1-8 2-4 1 6 2-4 1-13 2 1 2 5 1-21 2-4 1 24 2-14 1-17 2 10 2 3 1 2 2 1 1-3 2 1 1-9 2 8 2 0 1 5 2-8 1 6 2-5 1-8 2 5 2-1 1 1 2 2 1 2 2 1 1-7 2 13 2-17 1 9 2 6 1-1 2 1 1-5 2 6 2-13 1 14 2 11 1-11 2 9 1-13 2-7 2 3 1 14 2-3 1-18 2 11 2 2 1-7 2-9 1 9 2 8 1-1 2-1 2 9 1 3 2-7 1 7 2-6 1 0 2-15 2 22 1-4 2 0 1-3 2-4 1 11 2 3 2 6 1-4 2-10 1 4 2 8 1-4 2-3 2-3 1 8 2-1 1 11 2-4 1-19 2 27 2-13 1-3 2 4 1 4 2-5 1 0 2 1 2 13 1-12 2 6 1-2 2-5 1-2 2-2 2 10 1-9 2-1 1 0 2-1 1 11 2 1 2-7 1 16 2-10 1 5 2 0 1 10 2-6 2-5 1-6 2 0 1 8 2 1 1 5 2-8 2 5 1-6 2-7 1 13 2 11 1-4 2 4 2-1 1-17 2 8 1 13 2-15 1-4 2 12 2 3 1-2 2-4 1-2 2-3 1 0 2 1 2-1 1 5 2 16 1-9 2-3 1 5 2-8 2 9 1 5 2-17 1 6 2 4 1-5 2 0 2 5 1 20 2-12 1-1 2 4 1-8 2-7 2 12 1 5 2-22 1 18 2 5 2-10 1-1 2 8 1-10 2 9 1 4 2-8 2-4 1 11 2-7 1 3 2-20 1 25 2-14 2 10 1 1 2-6 1-1 2-2 1 7 2 6 2 0 1-7 2 0 1-5 2 7 1-5 2-3 2 10 1 12 2-2 1 2 2-21 1 17 2-14 2 5 1-8 2 5 1 8 2 1 1-2 2 0 2 5 1-4 2-11 1 23 2-13 1 8 2-7 2-5 1 7 2-6 1 16 2-18 1 12 2-9 2 4 1 19 2-13 1-7 2-9 1 9 2 0 2 12 1-20 2-2 1 12 2 2 1 9 2-17 2-13 1 14 2-4 1 5 2 10 1-16 2 18 2-7 1-4 2-4 1 3 2 0 1 7 2 4 2-10 1 5 2 4 1-1 2-5 1 9 2-4 2 2 1-13 2-2 1-12 2 24 1-6 2-11 2 7 1 1 2-15 1 14 2 5 1 1 2-12 2 0 1 11 2-3 1-11 2-1 1 8 2-9 2 0 1 16 2-11 1-6 2 7 1 10 2-13 2-8 1-6 2 26 1-34 2 25 2-15 1-2 2 1 1 6 2 8 1-13 2 9 2 12 1-38 2 15 1-9 2 19 1-17 2-2 2 0 1 10 2 8 1-8 2 14 1-5 2-13 2 7 1-7 2-1 1-15 2 4 1 8 2-9 2 13 1-4 2-10 1 14 2-8 1 7 2-12 2-11 1 15 2-8 1 7 2 0 1-1 2-20 2-9 1 10 2 5 1-13 2 3 1-11 2-1 2-4 1-6 2 4 1-5 2 5 1-13 2 3 2-12 1 3 2-10 1-4 2 11 1-5 2-1 2-13 1-7 2 4 1 8 2-14 1 19 2-22 2 14 1 12 2-37 1 7 2 17 1-10 2 2 2-3 1 10 2-6 1-9 2 1 1-8 2 7 2-17 1 21 2-7 1 14 2-5 1-19 2 15 2-11 1 4 2 6 1-5 2 1 1-1 2-9 2 0 1 9 2 2 1-9 2 2 1-8 2-11 2 12 1 6 2 1 1 5 2 0 1 1 2-4 2 0 1-8 2 8 1-1 2 7 2-20 1 8 2-9 1 7 2-5 1 13 2-7 2-14 1 28 2-17 1-3 2 9 1-2 2-3 2 13 1-7 2 9 1-1 2 0 1-3 2-2 2-2 1 14 2-24 1 6 2 3 1 8 2-2 2-4 1 1 2 16 1-17 2-16 1 35 2-20 2 4 1 4 2-10 1 18 2-9 1-9 2 12 2 2 1-3 2 4 1-13 2 18 1-13 2 16 2-13 1 6 2 17 1-17 2 8 1-4 2-13 2 19 1 0 2-17 1 10 2-9 1 9 2 9 2-5 1-9 2 3 1 7 2 0 1 2 2 4 2-17 1 14 2 9 1-4 2-8 1 1 2 6 2 5 1-5 2 13 1-2 2-14 1 9 2-5 2-6 1 5 2 5 1-15 2 11 1 8 2-7 2 3 1 9 2-6 1 2 2 14 1-13 2 2 2 1 1 9 2-9 1-1 2-1 1 9 2-12 2 13 1-6 2-11 1 15 2-1 1-11 2 11 2-1 1-3 2-6 1 24 2-9 2 1 1 1 2-1 1 0 2-8 1 9 2-7 2-1 1 8 2-6 1-10 2 10 1 7 2-4 2 6 1-8 2-4 1 13 2-4 1-9 2 11 2-4 1 9 2-2 1-1 2-19 1 18 2 1 2 1 1-3 2-5 1 3 2-12 1 13 2-9 2 9 1-2 2 14 1-9 2 0 1 1 2 14 2-21 1 9 2 0 1-1 2 0 1-4 2 11 2-2 1-8 2 1 1 4 2 1 1 2 2-6 2-8 1 15 2-18 1 5 2 9 1-9 2 16 2 2 1-3 2-7 1 0 2 1 1-4 2 15 2-18 1 13 2-6 1-2 2 5 1 2 2-3 2-7 1-4 2 0 1 10 2-1 1 0 2-10 2 18 1-23 2 11 1 2 2-8 1-5 2 4 2-5 1 6 2-8 1 0 2 9 1-11 2 9 2 0 1 7 2-5 1-8 2 14 1-14 2 2 2 0 1 17 2-15 1-5 2 9 1-6 2 16 2-21 1 9 2-11 1 18 2-18 1 6 2-7 2 11 1-2 2-21 1 21 2-1 2-3 1 5 2-16 1-4 2 16 1 7 2-21 2 0 1 1 2-2 1 13 2-5 1 7 2 0 2-17 1 11 2-22 1 15 2 4 1-10 2-8 2 8 1 11 2-12 1-8 2 13 1 1 2-14 2 5 1 8 2-6 1 2 2-9 1 1 2-9 2 2 1 15 2-15 1-5 2 2 1-5 2 10 2 1 1-14 2 12 1 6 2-24 1 10 2-6 2 5 1-4 2-4 1-9 2-9 1 16 2-25 2 10 1-3 2-15 1 2 2 8 1-25 2 17 2-9 1 0 2-9 1 13 2-11 1 12 2-13 2 12 1-3 2-16 1 11 2 1 1-15 2 13 2 8 1-11 2 14 1-17 2 0 1 12 2 0" class="yl yB1"/><rect x="341.8" y="267.0" width="164.1" height="10.6" fill="#8fd5eb"/><text x="384.8" y="275.8" class="st" text-anchor="middle">2018</text><text x="464.0" y="276.7" class="st" text-anchor="middle">2019</text><rect x="341.8" y="277.6" width="164.1" height="164.6" fill="#ebebeb"/><line x1="341.8" x2="505.9" y1="412.1" y2="412.1" class="hm"/><line x1="341.8" x2="505.9" y1="367.5" y2="367.5" class="hm"/><line x1="341.8" x2="505.9" y1="322.9" y2="322.9" class="hm"/><line x1="341.8" x2="505.9" y1="434.4" y2="434.4" class="hM"/><line x1="341.8" x2="505.9" y1="389.8" y2="389.8" class="hM"/><line x1="341.8" x2="505.9" y1="345.2" y2="345.2" class="hM"/><line x1="341.8" x2="505.9" y1="300.6" y2="300.6" class="hM"/><line x1="344.6" x2="344.6" y1="277.6" y2="442.2" class="vM2"/><line x1="364.5" x2="364.5" y1="277.6" y2="442.2" class="vm"/><line x1="384.3" x2="384.3" y1="277.6" y2="442.2" class="vM2"/><line x1="404.1" x2="404.1" y1="277.6" y2="442.2" class="vm"/><line x1="424.0" x2="424.0" y1="277.6" y2="442.2" class="vM2"/><line x1="443.9" x2="443.9" y1="277.6" y2="442.2" class="vm"/><line x1="463.7" x2="463.7" y1="277.6" y2="442.2" class="vM2"/><line x1="483.5" x2="483.5" y1="277.6" y2="442.2" class="vm"/><line x1="503.4" x2="503.4" y1="277.6" y2="442.2" class="vM2"/><line x1="344.6" x2="344.6" y1="442.2" y2="443.5" class="tk"/><line x1="384.3" x2="384.3" y1="442.2" y2="443.5" class="tk"/><line x1="424.0" x2="424.0" y1="442.2" y2="443.5" class="tk"/><line x1="463.7" x2="463.7" y1="442.2" y2="443.5" class="tk"/><line x1="503.4" x2="503.4" y1="442.2" y2="443.5" class="tk"/><text x="344.6" y="451.1" class="jl" text-anchor="middle">Jan</text><text x="424.0" y="451.1" class="jl" text-anchor="middle">Jan</text><path transform="scale(0.1)" d="M3446 3215l2 15 2 79 3-116 2-174 2 256 2 0 2-7 2-42 3 120 2-137 2 62 2 38 2 58 2-12 3-116 2 104 2-76 2-74 2 5 2-38 3 144 2 63 2-159 2 57 2-60 3 88 2-89 2 29 2 12 2 19 2 10 3 15 2 2 2-56 2 117 2-171 2-157 3 218 2 84 2 14 2-174 2 182 2 75 3-41 2-29 2-189 2 151 2-54 3 150 2-103 2-23 2-85 2 193 2-99 3 25 2 103 2-76 2 20 2 159 2-223 3 6 2 77 2 70 2-215 2 94 2-56 3-29 2 150 2-101 2 82 2-13 3 3 2-5 2-84 2 77 2 22 2 11 3-46 2 96 2-29 2-33 2 40 2-33 3 39 2-199 2 53 2 69 2 39 2-170 3 144 2 33 2-29 2 1 2-83 3 111 2-161 2 230 2-119 2 132 2-215 3 167 2-20 2-73 2-24 2 183 2-57 3 82 2-115 2 19 2 21 2 27 2-21 3 29 2-97 2-74 2 266 2-139 3 25 2-69 2 111 2-61 2 69 2-132 3 46 2 21 2-40 2 47 2 101 2-164 3 24 2 34 2-87 2-17 2 177 2-23 3-178 2 10 2 166 2 34 2-41 3-11 2 84 2-123 2 101 2-5 2-163 3 123 2-46 2-54 2-13 2 89 2-29 3 67 2-197 2 85 2 135 2-84 2-54 3 19 2-103 2 35 2 148 2-34 3 92 2-117 2 8 2-195 2 201 2 168 3-108 2-60 2 106 2-29 2-38 2-54 3 40 2 56 2-128 2 102 2-2 2 68 3-45 2-109 2 175 2-118 2-60 3 85 2-47 2 105 2-185 2 17 2 67 3 153 2-53 2-155 2-56 2 110 2-73 3 143 2-31 2-14 2-32 2 150 2-189 3-29 2 190 2 16 2-131 2 77 3 128 2-241 2 50 2 49 2-199 2 151 3 68 2-66 2 87 2-22 2-89 2 72 3-9 2-163 2 61 2 4 2 21 2 2 3-75 2 113 2-145 2 215 2-54 3 86 2-80 2-67 2-72 2 162 2-52 3 27 2 29 2 34 2-96 2 137 2-142 3 7 2 51 2 27 2 28 2-250 2 246 3-223 2 74 2 73 2 60 2-169 3-53 2 204 2-50 2-104 2 54 2-128 3 196 2-86 2 137 2-258 2 216 2 112 3-162 2-1 2-159 2 171 2-28 2-48 3-79 2 124 2-87 2 37 2 60 3-31 2 1 2 70 2-166 2 197 2-199 3 14 2 78 2 49 2-43 2-56 2-23 3 34 2-56 2 117 2-62 2 137 2-181 3 46 2 42 2-122 2 35 2 230 3-183 2 114 2-195 2-110 2 230 2-47 3 24 2-47 2-24 2-50 2 173 2-197 3 191 2-94 2-69 2 33 2 125 2-19 3-20 2-33 2-93 2 186 2-137 3-12 2 2 2 6 2-83 2 78 2-30 3 21 2-96 2 281 2-246 2 117 2 0 3 51 2 67 2-115 2 21 2-92 2 149 3-224 2 87 2 39 2 34 2 4 3 25 2-46 2-44 2 13 2 94 2-90 3 47 2-82 2-132 2 93 2 71 2 99 3-17 2 19 2-186 2 113 2-65 2 51 3-56 2-102 2 159 2-28 2 34 2-130 3 145 2 7 2 18 2 1 2-146 3-162 2 273 2-150 2 52 2 103 2-64 3-4 2 35 2-202 2 294 2-176 2 3 3 70 2-56 2-57 2 56 2-20 2-21 3 209 2-270 2-61 2 100 2-3 3 186 2-98 2 53 2-17 2-119 2 136 3-51 2 137 2-134 2-19 2 62 2 1 3-199 2 238 2-12 2-18 2-153 2-69 3 137 2 81 2-22 2-114 2 153 3-181 2 3 2 104 2-43 2-7 2-61 3 201 2-171 2 120 2 31 2-65 2 26 3 61 2 49 2-48 2-181 2-36 2 104 3-38 2 134 2-30 2-24 2 108 3-3 2-79 2 36 2 60 2-107 2 54 3-95 2 82 2 26 2-29 2 26 2 41 3-17 2-86 2 11 2-47 2 231 2-98 3 4 2-42 2 50 2 7 2-97 3 49 2 105 2-190 2 28 2 123 2-106 3 123 2-141 2 105 2 47 2-32 2 32 3-72 2 3 2 12 2 47 2 137 2-185 3 154 2-163 2-68 2 67 2 51 3-16 2-3 2 32 2 3 2 27 2-162 3 93 2-74 2 92 2-24 2 19 2-49 3-27 2 45 2 70 2 9 2-187 2 149 3 1 2-135 2 30 2 42 2 72 3-211 2 151 2-11 2 55 2 96 2-6 3-133 2 2 2 49 2 72 2 21 2-85 3 87 2-180 2-19 2-128 2 151 2 113 3 22 2 112 2-132 2-31 2-87 3 28 2 2 2 30 2-34 2-60 2 194 3-46 2 72 2-230 2 25 2 42 2 151 3-105 2 32 2-24 2 22 2-54 2 71 3-95 2 48 2 41 2-13 2 26 3-96 2 84 2-43 2 54 2 84 2-183 3 151 2-133 2 20 2 160 2-54 2-33 3 23 2 28 2-147 2 75 2-48 2 62 3-57 2 81 2-56 2-47 2 41 3 38 2 48 2-97 2-14 2 46 2 39 3-101 2-150 2 213 2-49 2-4 2 207 3-189 2 63 2-161 2 125 2 40 2-44 3-30 2 55 2-40 2 99 2-88 3-77 2-93 2 96 2 32 2-72 2 12 3-51 2 43 2 90 2-30 2 4 2-11 3 6 2 74 2 100 2-112 2 102 2-162 3 3 2 127 2-184 2-15 2 57 3-122 2-18 2 235 2-174 2 44 2-1 3-41 2 125 2-12 2 15 2-7 2-53 3 102 2-34 2-127 2 48 2-37 2 172 3-88 2-19 2-48 2 45 2-118 3 73 2-8 2-1 2-56 2 89 2-125 3 49 2 22 2 7 2-38 2-40 2 4 3 42 2-40 2 57 2-88 2 97 2 156 3-263 2 93 2 97 2-76 2 52 3-230 2 122 2 157 2-163 2 71 2-179 3 226 2 91 2-179 2 30 2 4 2 130 3-198 2-98 2 273 2-239 2 131 2-226 3 143 2 45 2-103 2 40 2 82 3-104 2 89 2 93 2-297 2 178 2 15 3-77 2 141 2-20 2-69 2-3 2-49 3-84 2 119 2-77 2-11 2 126 2-103 3 87 2-156 2 44 2-161 2 294 3-114 2 66 2-116 2 61 2 51 2-135 3 13 2 99" class="bl b2"/><path transform="scale(0.1)" d="M3446 3393l2 1 2 4 3-6 2 10 2-6 2 0 2 0 2-2 3 6 2-7 2 3 2 2 2 3 2-1 3-5 2 5 2-4 2-4 2 0 2-1 3 7 2 3 2-8 2 3 2-3 3 4 2-4 2 1 2 1 2 0 2 1 3 1 2 0 2-3 2 6 2-9 2 7 3-4 2 4 2 1 2-9 2 10 2 3 3-2 2-1 2-10 2 8 2-3 3 8 2-5 2-1 2-5 2 10 2-5 3 1 2 5 2-3 2 1 2 8 2-11 3 0 2 4 2 3 2-10 2 5 2-3 3-2 2 8 2-5 2 4 2 0 3 0 2 0 2-4 2 4 2 1 2 1 3-3 2 5 2-1 2-2 2 3 2-2 3 2 2-10 2 3 2 4 2 2 2-8 3 7 2 2 2-1 2 0 2-4 3 6 2-8 2 12 2-6 2 7 2-11 3 9 2-1 2-3 2-1 2 9 2-2 3 4 2-5 2 1 2 2 2 3 2 3 3 6 2 0 2 3 2 19 2-2 3 6 2 0 2 8 2-3 2 3 2-6 3 2 2 1 2-2 2 2 2 5 2-8 3 1 2 2 2-4 2-1 2 9 2-2 3-8 2 0 2 8 2 2 2-2 3-1 2 5 2-7 2 5 2 0 2-8 3 6 2-2 2-3 2-1 2 5 2-2 3 4 2-10 2 4 2 7 2-5 2-2 3 1 2-6 2 2 2 8 2-2 3 4 2-5 2 0 2-10 2 10 2 8 3-5 2-3 2 5 2-1 2-2 2-3 3 2 2 3 2-7 2 6 2-1 2 4 3-3 2-5 2 9 2-6 2-3 3 4 2-2 2 5 2-10 2 1 2 4 3 7 2-3 2-7 2-3 2 5 2-3 3 7 2-2 2-1 2-1 2 7 2-9 3-2 2 10 2 1 2-7 2 4 3 6 2-12 2 3 2 2 2-10 2 8 3 3 2-3 2 4 2-1 2-4 2 4 3-1 2-8 2 3 2 0 2 1 2 1 3-4 2 6 2-8 2 11 2-3 3 5 2-4 2-4 2-3 2 8 2-3 3 2 2 1 2 2 2-5 2 7 2-7 3 0 2 3 2 1 2 2 2-13 2 13 3-12 2 4 2 4 2 3 2-9 3-2 2 10 2-2 2-6 2 3 2-6 3 10 2-5 2 7 2-13 2 11 2 6 3-8 2 0 2-8 2 9 2-1 2-3 3-4 2 6 2-4 2 1 2 1 3-3 2-1 2 1 2-10 2 7 2-12 3-2 2 2 2 0 2-5 2-5 2-4 3 0 2-5 2 4 2-4 2 5 2-11 3 1 2 0 2-7 2 0 2 10 3-11 2 5 2-12 2-7 2 10 2-4 3 0 2-4 2-2 2-5 2 8 2-12 3 8 2-6 2-5 2-1 2 5 2-3 3-3 2-3 2-7 2 7 2-10 3-3 2-3 2-3 2-7 2 0 2-4 3-2 2-7 2 12 2-13 2 4 2 0 3 3 2 3 2-5 2 1 2-5 2 8 3-11 2 4 2 2 2 2 2 0 3 1 2-2 2-2 2 1 2 4 2-4 3 2 2-3 2-3 2 9 2 10 2 12 3 7 2 9 2-2 2 12 2 1 2 5 3-2 2-4 2 8 2 0 2 2 2-6 3 8 2 1 2 1 2 1 2-7 3-8 2 15 2-8 2 4 2 5 2-3 3 1 2 2 2-10 2 15 2-8 2 0 3 4 2-2 2-3 2 3 2-1 2 0 3 10 2-13 2-3 2 5 2 1 3 9 2-5 2 3 2 0 2-6 2 7 3-3 2 7 2-6 2-1 2 3 2 0 3-9 2 12 2-1 2-1 2-7 2-4 3 7 2 4 2-1 2-5 2 8 3-9 2 0 2 5 2-2 2 0 2-3 3 10 2-9 2 6 2 2 2-3 2 1 3 3 2 3 2-3 2-9 2-2 2 6 3-2 2 6 2-1 2-2 2 6 3 0 2-4 2 1 2 3 2-5 2 3 3-5 2 4 2 1 2-1 2 1 2 2 3-1 2-4 2 1 2-2 2 11 2-4 3 0 2-2 2 3 2 0 2-5 3 3 2 6 2-10 2 2 2 6 2-5 3 7 2-7 2 6 2 2 2-1 2 2 3-3 2 1 2 1 2 3 2 7 2-8 3 8 2-7 2-3 2 4 2 3 3 1 2 0 2 3 2 1 2 2 2-7 3 5 2-3 2 6 2-1 2 2 2-2 3 0 2 3 2 4 2 2 2-9 2 8 3 1 2-6 2 2 2 3 2 4 3-9 2 8 2 0 2 3 2 5 2 1 3-7 2 1 2 3 2 4 2 1 2-4 3 5 2-9 2-1 2-6 2 7 2 6 3 1 2 6 2-7 2-1 2-5 3 2 2 0 2 1 2-1 2-3 2 10 3-3 2 4 2-11 2 1 2 2 2 8 3-6 2 2 2-1 2 1 2-3 2 4 3-5 2 3 2 2 2-1 2 1 3-4 2 4 2-2 2 2 2 5 2-9 3 7 2-7 2 2 2 8 2-3 2-2 3 1 2 2 2-7 2 3 2-2 2 3 3-3 2 5 2-3 2-2 2 2 3 2 2 2 2-5 2 0 2 2 2 2 3-5 2-7 2 10 2-2 2 0 2 10 3-9 2 3 2-8 2 6 2 2 2-2 3-1 2 3 2-2 2 5 2-5 3-3 2-5 2 5 2 2 2-4 2 1 3-3 2 3 2 4 2-1 2 0 2 0 3 0 2 4 2 5 2-6 2 6 2-8 3 0 2 6 2-9 2 0 2 3 3-7 2 0 2 12 2-9 2 2 2 0 3-2 2 7 2-1 2 1 2 0 2-3 3 5 2-2 2-6 2 2 2-2 2 8 3-5 2-1 2-3 2 1 2-6 3 3 2-2 2-1 2-3 2 3 2-7 3 1 2 0 2 0 2-3 2-4 2-1 3 1 2-3 2 1 2-5 2 3 2 7 3-15 2 3 2 4 2-5 2 1 3-13 2 4 2 6 2-11 2 1 2-12 3 8 2 2 2-13 2-2 2-3 2 3 3-14 2-9 2 11 2-16 2 3 2-14 3 4 2 0 2-8 2 0 2 3 3-7 2 4 2 4 2-15 2 9 2 0 3-3 2 7 2-1 2-4 2 0 2-2 3-5 2 6 2-3 2-1 2 6 2-5 3 5 2-8 2 2 2 2 2 5 3-6 2 3 2-5 2 3 2 2 2-7 3 1 2 5" class="yl yB2"/><rect x="511.8" y="267.0" width="165.2" height="10.6" fill="#8fd5eb"/><text x="555.6" y="275.8" class="st" text-anchor="middle">2018</text><text x="633.2" y="276.7" class="st" text-anchor="middle">2019</text><rect x="511.8" y="277.6" width="165.2" height="164.6" fill="#ebebeb"/><line x1="511.8" x2="677.0" y1="412.1" y2="412.1" class="hm"/><line x1="511.8" x2="677.0" y1="367.5" y2="367.5" class="hm"/><line x1="511.8" x2="677.0" y1="322.9" y2="322.9" class="hm"/><line x1="511.8" x2="677.0" y1="434.4" y2="434.4" class="hM"/><line x1="511.8" x2="677.0" y1="389.8" y2="389.8" class="hM"/><line x1="511.8" x2="677.0" y1="345.2" y2="345.2" class="hM"/><line x1="511.8" x2="677.0" y1="300.6" y2="300.6" class="hM"/><line x1="515.5" x2="515.5" y1="277.6" y2="442.2" class="vM2"/><line x1="535.4" x2="535.4" y1="277.6" y2="442.2" class="vm"/><line x1="555.2" x2="555.2" y1="277.6" y2="442.2" class="vM2"/><line x1="575.1" x2="575.1" y1="277.6" y2="442.2" class="vm"/><line x1="595.0" x2="595.0" y1="277.6" y2="442.2" class="vM2"/><line x1="614.9" x2="614.9" y1="277.6" y2="442.2" class="vm"/><line x1="634.8" x2="634.8" y1="277.6" y2="442.2" class="vM2"/><line x1="654.6" x2="654.6" y1="277.6" y2="442.2" class="vm"/><line x1="674.5" x2="674.5" y1="277.6" y2="442.2" class="vM2"/><line x1="515.5" x2="515.5" y1="442.2" y2="443.5" class="tk"/><line x1="555.2" x2="555.2" y1="442.2" y2="443.5" class="tk"/><line x1="595.0" x2="595.0" y1="442.2" y2="443.5" class="tk"/><line x1="634.8" x2="634.8" y1="442.2" y2="443.5" class="tk"/><line x1="674.5" x2="674.5" y1="442.2" y2="443.5" class="tk"/><text x="515.5" y="451.1" class="jl" text-anchor="middle">Jan</text><text x="595.0" y="451.1" class="jl" text-anchor="middle">Jan</text><path transform="scale(0.1)" d="M5155 3113l2 207 2-425 3 378 2-222 2 311 2-33 2-229 2 9 3 248 2-255 2 231 2-56 2-68 2 84 3-291 2 302 2 200 2-344 2 239 3-14 2 373 2-551 2 27 2 4 2-24 3-97 2 241 2-135 2 234 2-53 2-194 3 93 2 240 2-234 2 77 2 89 3-172 2 118 2 163 2-63 2-396 2 455 3-239 2-52 2-2 2 259 2-123 2-63 3-89 2 201 2 73 2-298 2-13 3 104 2 136 2-138 2 42 2-99 2 290 3-187 2 39 2 133 2-182 2 27 2 63 3-110 2 252 2-187 2-66 2 22 3-108 2 316 2 44 2-240 2-29 2-229 3 209 2 208 2-231 2 229 2 90 2-565 3 317 2-53 2 23 2-172 2 213 3-128 2 311 2 52 2-388 2-6 2 135 3 40 2 10 2 119 2-307 2 123 2 22 3 19 2-91 2 76 2-32 2 266 3-231 2-231 2 375 2-52 2-140 2-8 3 47 2 312 2-292 2 234 2-48 2-189 3 119 2-152 2-322 2 329 2 9 3 225 2-33 2 59 2-72 2 79 2-58 3-61 2 111 2 59 2-7 2-250 2 56 3-132 2-2 2 193 2-139 2 293 3-513 2 151 2 196 2 132 2-212 2 311 3-150 2-210 2 94 2 79 2-199 2 276 3-182 2 108 2 50 2-181 2 202 3-400 2 345 2-355 2 427 2-235 2 251 3 20 2-207 2-71 2 270 2-339 2 274 3-128 2-34 2-29 2 331 2-472 3 147 2 137 2 83 2 93 2-46 2-263 3 122 2 110 2-84 2-289 2 262 2 35 3-267 2 122 2 58 2 90 2 131 3-53 2-95 2-37 2-79 2-27 2 45 3 0 2 170 2 158 2-226 2 60 2-42 3-52 2 134 2-19 2-140 2-30 3 107 2-160 2 99 2 111 2-147 2-255 3 353 2-254 2-30 2-17 2 321 2-392 3 262 2 51 2-4 2-115 2 75 3 31 2-202 2 276 2 44 2-255 2 11 3-55 2 298 2-298 2 81 2-178 2 415 3-204 2 67 2 180 2-123 2-256 3 219 2 34 2-222 2-18 2-1 2 244 3-103 2-152 2 232 2 11 2-219 3-103 2 373 2 199 2-160 2-62 2-123 3-105 2 104 2 75 2-120 2 153 2-128 3 81 2-461 2 256 2 227 2 21 3-79 2 165 2-128 2-1 2-226 2 180 3 49 2 74 2-24 2-156 2 19 2-188 3 242 2-235 2 109 2 35 2 275 3-101 2-282 2-92 2 163 2-79 2 161 3-7 2 39 2-228 2 86 2 78 2 11 3-124 2 31 2 158 2-354 2 200 3 32 2-204 2 61 2 152 2-88 2 220 3-60 2 222 2-483 2 430 2-359 2 208 3 19 2-110 2-65 2-49 2-162 3 194 2-74 2 204 2-183 2 76 2 84 3-51 2-6 2-36 2-30 2 125 2 31 3-206 2 337 2-150 2-301 2 588 3-280 2-191 2 322 2-588 2 716 2-557 3-18 2 88 2 157 2-81 2 173 2-237 3 266 2-117 2-177 2 292 2-105 3-73 2 208 2-347 2 113 2 256 2-203 3 100 2-16 2-102 2 109 2-232 2 231 3-233 2-310 2 327 2 194 2-5 3 89 2-239 2-49 2-163 2 114 2 145 3 64 2-83 2 58 2-206 2 72 2 247 3-20 2-284 2 147 2 75 2-195 3 218 2-15 2 26 2 208 2-391 2 288 3-88 2 24 2-203 2 111 2-11 2 235 3-220 2 193 2-246 2-8 2 53 3-284 2 210 2-9 2 64 2 47 2-160 3-18 2 333 2-325 2 75 2-61 2 69 3 237 2-9 2-413 2 218 2 231 3-243 2 99 2 206 2 62 2-94 2-258 3 45 2 28 2-73 2-43 2 375 2-248 3 73 2 57 2-94 2-57 2 20 3 165 2-133 2-345 2 426 2 88 2-271 3-43 2 19 2 220 2-292 2 247 2 50 3-72 2-68 2-113 2 13 2 90 3-131 2 119 2-112 2 319 2 25 2-324 3 300 2-149 2-27 2 55 2-4 2-254 3 543 2-471 2-194 2 316 2 7 3-102 2-152 2 419 2-175 2 39 2-102 3 57 2-68 2 151 2-64 2 101 2 1 3-71 2 2 2 144 2-377 2 237 3 174 2-342 2 258 2-172 2 74 2-35 3 13 2 104 2-83 2-274 2 592 2-316 3-50 2 208 2 45 2-486 2 351 3-337 2 215 2 65 2-54 2-20 2-74 3 104 2 42 2-3 2-161 2 76 2 253 3-50 2-132 2 134 2-33 2 82 3-95 2-93 2-78 2 138 2-284 2 299 3-451 2 305 2 71 2 139 2 323 2-368 3-45 2-240 2 458 2-453 2 300 3-134 2 452 2-369 2 68 2-141 2 83 3 171 2-287 2 35 2 15 2-56 2-12 3 156 2 186 2 5 2-377 2 89 3 85 2 75 2-63 2 2 2 51 2 51 3-395 2 268 2 117 2 97 2-79 2-199 3-5 2 136 2-37 2 50 2 112 3-333 2 129 2-290 2 447 2-85 2-141 3 157 2 158 2-61 2-145 2-33 2 60 3-152 2 2 2 92 2 41 2 38 3-111 2-52 2 119 2-55 2 107 2 150 3-57 2-245 2 43 2-158 2 211 2-113 3-64 2 45 2 221 2-59 2-45 3 154 2-203 2-77 2 207 2-340 2 312 3-13 2 4 2 64 2-156 2 54 2-228 3 145 2 8 2 104 2 164 2-185 3 104 2-250 2 134 2-236 2 126 2-15 3 81 2 1 2-63 2-39 2 223 2-168 3-297 2 373 2 20 2 58 2 102 3-367 2 154 2-36 2-216 2-94 2 467 3-271 2 57 2 29 2-14 2 67 2-225 3 132 2 35 2-127 2 46 2 58 3 17 2-200 2 170 2 80 2 104 2-74 3 95 2-162 2-23 2 316 2-288 2-90 3 64 2 152 2-310 2 269 2 71 3-23 2-150 2-140 2-28 2 130 2 191 3-76 2 31 2-102 2 218 2-263 2-76 3 107 2-86 2 191 2 69 2-115 3-250 2 15 2 204 2-232 2 209 2-256 3 141 2 127 2-174 2 215 2 20 2 70 3-238 2 41 2 1 2 45 2-258 3 256 2 40 2-274 2-26 2 147 2-292 3 419 2-170 2 81 2-214 2 402 2-285 3 179 2-271 2 191 2-154 2-156 3 489 2-43" class="bl b3"/><path transform="scale(0.1)" d="M5155 3389l2 6 2 0 3-1 2 4 2-2 2-1 2-7 2 1 3 7 2-8 2 7 2-2 2-2 2 3 3-9 2 9 2 6 2-10 2 7 3 0 2 11 2-16 2 0 2 1 2-1 3-3 2 7 2-4 2 7 2-1 2-6 3 3 2 7 2-7 2 2 2 3 3-5 2 3 2 5 2-2 2-11 2 13 3-7 2-1 2 0 2 7 2-3 2-2 3-3 2 6 2 2 2-8 2-1 3 3 2 4 2-4 2 2 2-3 2 9 3-6 2 1 2 4 2-5 2 1 2 2 3-4 2 8 2-6 2-1 2 0 3-3 2 10 2 1 2-7 2-1 2-6 3 6 2 6 2-7 2 7 2 3 2-17 3 10 2-1 2 0 2-5 2 7 3-4 2 10 2 1 2-11 2 0 2 4 3 2 2 1 2 5 2-9 2 5 2 2 3 2 2-2 2 4 2 1 2 9 3-5 2-5 2 13 2 0 2-3 2 2 3 3 2 11 2-7 2 8 2 1 2-5 3 5 2-3 2-8 2 11 2 1 3 8 2 0 2 2 2-1 2 3 2-2 3-2 2 4 2 2 2-1 2-7 2 2 3-4 2 0 2 5 2-4 2 9 3-15 2 4 2 6 2 4 2-6 2 9 3-4 2-6 2 2 2 3 2-6 2 8 3-5 2 3 2 2 2-6 2 6 3-12 2 11 2-11 2 13 2-7 2 7 3 1 2-6 2-2 2 8 2-10 2 8 3-4 2-1 2-1 2 10 2-14 3 5 2 4 2 2 2 3 2-1 2-8 3 4 2 3 2-3 2-8 2 8 2 1 3-8 2 4 2 1 2 3 2 4 3-2 2-2 2-1 2-3 2-1 2 2 3 0 2 5 2 5 2-7 2 2 2-1 3-2 2 4 2 0 2-5 2 0 3 3 2-5 2 3 2 3 2-4 2-8 3 11 2-8 2 0 2-1 2 10 2-12 3 8 2 1 2 0 2-3 2 2 3 1 2-6 2 8 2 2 2-8 2 1 3-2 2 9 2-9 2 3 2-6 2 13 3-6 2 2 2 5 2-3 2-8 3 7 2 1 2-7 2 0 2 0 2 7 3-3 2-4 2 7 2 0 2-7 3-3 2 12 2 6 2-5 2-2 2-4 3-3 2 3 2 3 2-4 2 5 2-4 3 3 2-14 2 8 2 6 2 1 3-2 2 5 2-4 2 0 2-7 2 6 3 1 2 3 2-1 2-5 2 1 2-6 3 8 2-7 2 3 2 1 2 8 3-3 2-8 2-3 2 5 2-2 2 5 3 0 2 1 2-7 2 2 2 2 2 0 3-4 2 0 2 4 2-11 2 5 3 0 2-7 2 1 2 4 2-4 2 6 3-3 2 5 2-15 2 11 2-12 2 5 3 0 2-5 2-3 2-2 2-6 3 4 2-3 2 5 2-6 2 1 2 2 3-3 2-1 2-2 2-1 2 2 2 0 3-7 2 9 2-6 2-10 2 16 3-10 2-8 2 8 2-20 2 18 2-23 3-9 2-6 2-4 2-12 2-3 2-14 3 2 2-7 2-6 2 9 2-3 3-2 2 6 2-10 2 3 2 8 2-6 3 3 2-1 2-3 2 4 2-7 2 7 3-7 2 8 2 1 2 12 2 7 3 11 2 0 2 6 2 1 2 8 2 6 3 3 2-2 2 2 2-5 2 3 2 8 3-1 2-8 2 5 2 3 2-5 3 6 2 0 2 2 2 6 2-11 2 9 3-3 2 1 2-6 2 4 2 0 2 7 3-6 2 6 2-7 2-1 2 2 3-8 2 6 2 0 2 2 2 2 2-5 3 0 2 10 2-10 2 3 2-2 2 2 3 7 2 0 2-12 2 7 2 7 3-7 2 3 2 6 2 2 2-3 2-7 3 1 2 1 2-1 2-2 2 12 2-7 3 2 2 2 2-2 2-2 2 1 3 6 2-4 2-10 2 14 2 3 2-8 3-1 2 2 2 7 2-8 2 8 2 2 3-1 2-2 2-2 2 1 2 3 3-3 2 4 2-2 2 10 2 2 2-9 3 10 2-4 2 0 2 3 2 0 2-6 3 17 2-14 2-5 2 10 2 1 3-2 2-4 2 14 2-5 2 2 2-3 3 3 2-2 2 5 2-1 2 4 2 0 3-2 2 1 2 4 2-11 2 8 3 5 2-10 2 8 2-5 2 2 2-1 3 1 2 3 2-3 2-8 2 18 2-9 3-2 2 7 2 1 2-15 2 11 3-10 2 7 2 2 2-2 2-1 2-2 3 3 2 2 2 0 2-5 2 2 2 8 3-2 2-3 2 4 2-1 2 2 3-3 2-2 2-3 2 5 2-9 2 9 3-13 2 9 2 2 2 4 2 10 2-11 3-1 2-8 2 14 2-13 2 9 3-4 2 13 2-11 2 2 2-4 2 3 3 5 2-9 2 1 2 1 2-2 2 0 3 5 2 5 2 0 2-11 2 3 3 3 2 2 2-2 2 0 2 2 2 1 3-12 2 8 2 4 2 3 2-2 2-6 3 0 2 4 2-1 2 1 2 3 3-9 2 3 2-8 2 13 2-2 2-4 3 4 2 5 2-2 2-4 2-1 2 2 3-5 2 0 2 3 2 2 2 1 3-4 2-1 2 4 2-2 2 3 2 5 3-2 2-7 2 1 2-5 2 7 2-3 3-2 2 1 2 7 2-2 2-1 3 4 2-6 2-2 2 6 2-10 2 10 3-1 2 0 2 2 2-4 2 1 2-6 3 4 2 0 2 4 2 5 2-6 3 3 2-7 2 4 2-7 2 4 2-1 3 3 2 0 2-2 2-1 2 7 2-5 3-9 2 11 2 1 2 2 2 3 3-11 2 5 2-1 2-7 2-2 2 14 3-8 2 1 2 1 2 0 2 2 2-7 3 4 2 2 2-4 2 1 2 2 3 0 2-6 2 5 2 2 2 3 2-3 3 2 2-6 2-1 2 8 2-9 2-4 3 1 2 4 2-11 2 7 2 1 3-2 2-6 2-6 2-2 2 2 2 5 3-4 2-1 2-5 2 5 2-9 2-5 3 1 2-6 2 2 2-3 2-7 3-13 2-4 2 2 2-12 2 2 2-12 3 0 2 0 2-9 2 4 2-1 2 1 3-8 2 0 2 0 2 0 2-8 3 7 2 1 2-9 2-1 2 4 2 8 3-5 2-6 2 2 2-7 2 12 2-9 3 5 2-8 2 5 2-5 2 7 3 3 2-2" class="yl yB3"/><text x="35.5" y="437.6" class="yt" text-anchor="middle">0</text><text x="40.5" y="393.0" class="yt" text-anchor="end">0.1</text><text x="40.5" y="348.4" class="yt" text-anchor="end">0.2</text><text x="40.5" y="303.8" class="yt" text-anchor="end">0.3</text><text transform="translate(16.0,356.9) rotate(-90) scale(1,1.1)" class="at ay" text-anchor="middle">Incidence per 100,000 per day</text><text transform="translate(355.5,463.1) scale(1,1.1)" class="at" text-anchor="middle">Year and month</text><text transform="translate(3.6,489.1) scale(1,1.04)" class="tt">C) CatBoost</text><text transform="translate(191.6,500.3) scale(1,1.1)" class="pt" text-anchor="middle">Training dataset</text><text transform="translate(424.4,494.3) scale(1,1.1)" class="pt" text-anchor="middle">Testing dataset</text><text transform="translate(424.4,506.3) scale(1,1.1)" class="pt" text-anchor="middle">internal place</text><text transform="translate(592.8,494.3) scale(1,1.1)" class="pt" text-anchor="middle">Testing dataset</text><text transform="translate(592.8,506.3) scale(1,1.1)" class="pt" text-anchor="middle">external place</text><rect x="44.4" y="508.8" width="289.4" height="10.6" fill="#8fd5eb"/><text x="72.9" y="517.6" class="st" text-anchor="middle">2013</text><text x="133.0" y="517.6" class="st" text-anchor="middle">2014</text><text x="190.7" y="517.6" class="st" text-anchor="middle">2015</text><text x="246.3" y="517.6" class="st" text-anchor="middle">2016</text><text x="305.6" y="517.6" class="st" text-anchor="middle">2017</text><rect x="44.4" y="519.4" width="289.4" height="165.1" fill="#ebebeb"/><line x1="44.4" x2="333.8" y1="654.9" y2="654.9" class="hm"/><line x1="44.4" x2="333.8" y1="609.9" y2="609.9" class="hm"/><line x1="44.4" x2="333.8" y1="564.9" y2="564.9" class="hm"/><line x1="44.4" x2="333.8" y1="677.4" y2="677.4" class="hM"/><line x1="44.4" x2="333.8" y1="632.4" y2="632.4" class="hM"/><line x1="44.4" x2="333.8" y1="587.4" y2="587.4" class="hM"/><line x1="44.4" x2="333.8" y1="542.4" y2="542.4" class="hM"/><line x1="102.5" x2="102.5" y1="519.4" y2="684.5" class="vM"/><line x1="160.5" x2="160.5" y1="519.4" y2="684.5" class="vM"/><line x1="217.5" x2="217.5" y1="519.4" y2="684.5" class="vM"/><line x1="275.5" x2="275.5" y1="519.4" y2="684.5" class="vM"/><line x1="332.5" x2="332.5" y1="519.4" y2="684.5" class="vM"/><line x1="45.0" x2="45.0" y1="684.5" y2="685.8" class="tk"/><line x1="102.5" x2="102.5" y1="684.5" y2="685.8" class="tk"/><line x1="160.0" x2="160.0" y1="684.5" y2="685.8" class="tk"/><line x1="217.5" x2="217.5" y1="684.5" y2="685.8" class="tk"/><line x1="275.0" x2="275.0" y1="684.5" y2="685.8" class="tk"/><line x1="332.5" x2="332.5" y1="684.5" y2="685.8" class="tk"/><text x="45.0" y="693.4" class="jl" text-anchor="middle">Jan</text><text x="102.5" y="693.4" class="jl" text-anchor="middle">Jan</text><text x="160.0" y="693.4" class="jl" text-anchor="middle">Jan</text><text x="217.5" y="693.4" class="jl" text-anchor="middle">Jan</text><text x="275.0" y="693.4" class="jl" text-anchor="middle">Jan</text><path transform="scale(0.1)" d="M450 6021l2-25 1 50 2 54 1-38 2 48 1-93 2-112 2 161 1 12 2-98 1 12 2 22 1 91 2-78 2-64 1 179 2-77 1 126 2-53 1 48 2-140 2 90 1-134 2 10 1 30 2 205 2-174 1-43 2-14 1 145 2-92 1 44 2-15 2-164 1 164 2-68 1-80 2 129 1-41 2-19 2 4 1 113 2-114 1-112 2 255 1-211 2 65 2 67 1-231 2 109 1 172 2-111 1-44 2 67 2-76 1 66 2-64 1-67 2 186 1-77 2 59 2-51 1 116 2-52 1-33 2-96 1-20 2 217 2-45 1-126 2 233 1-133 2-31 1-118 2 51 2 90 1 5 2-9 1-155 2 173 2-10 1-56 2 43 1 8 2 82 1-96 2 40 2-140 1 46 2 61 1-59 2 90 1-121 2 94 2-50 1 166 2-143 1 180 2 32 1-150 2 53 2-92 1-181 2 271 1-16 2-72 1-24 2 60 2 4 1-78 2 17 1 137 2-82 1-9 2 96 2-114 1 99 2-159 1 69 2 10 1 61 2-41 2 166 1-76 2-130 1 219 2-260 2 228 1-219 2 141 1-142 2 58 1 147 2-244 2-17 1 133 2 19 1-9 2 72 1-182 2 145 2-43 1 66 2-14 1 58 2-222 1 124 2-98 2 85 1 62 2-32 1 21 2-49 1 34 2-6 2 95 1-50 2-215 1 204 2 35 1-122 2-94 2 252 1-109 2 38 1 99 2-218 1 67 2-8 2 72 1-105 2 87 1-34 2 85 1 10 2-224 2 163 1-70 2 29 1 36 2 6 2-99 1 82 2-13 1-15 2-101 1 44 2 26 2 84 1 72 2-205 1-1 2 98 1-60 2-21 2-4 1-7 2 121 1-173 2 243 1-185 2 33 2-33 1-88 2 35 1 231 2 48 1-220 2 161 2-87 1-75 2 218 1 42 2-208 1 19 2 26 2-25 1 79 2 58 1-118 2 71 1 59 2-188 2 50 1-41 2 122 1-28 2 30 2-10 1-95 2 86 1-100 2 2 1-148 2 300 2-200 1 86 2-6 1 126 2-87 1-106 2 73 2-14 1 32 2-127 1 103 2 191 1-132 2 112 2 52 1-179 2-164 1 112 2 107 1-21 2-183 2 85 1 9 2 8 1-9 2-68 1 22 2 28 2 110 1-137 2 104 1-157 2 206 1-100 2-13 2 115 1-269 2 22 1 168 2-110 1 34 2 257 2-248 1 26 2-14 1 100 2-72 2-9 1-121 2 74 1 28 2-136 1 182 2-16 2 124 1-298 2 52 1 3 2 20 1 48 2-11 2 40 1-6 2-24 1-129 2 82 1 52 2 44 2 3 1-198 2 94 1 37 2 35 1 65 2-94 2-84 1 109 2-17 1-2 2-31 1 147 2-121 2 52 1-154 2 143 1-121 2-85 1 159 2 24 2-72 1 15 2 85 1-130 2-138 2 197 1-6 2 72 1-122 2 136 1-15 2-211 2 189 1-176 2-41 1 108 2-28 1-125 2 186 2 32 1 65 2-125 1-129 2 43 1 165 2-10 2-34 1-72 2 42 1-39 2-10 1 50 2-24 2-24 1 24 2-53 1-122 2 111 1 46 2 152 2-183 1 204 2-47 1-199 2 13 1 75 2 137 2-117 1 27 2-115 1-142 2 179 1 88 2 35 2-98 1 12 2 86 1-111 2 112 2-198 1 5 2-1 1 137 2-86 1 58 2 23 2-3 1 85 2 13 1-195 2 87 1-35 2-68 2 241 1-82 2-84 1-18 2 68 1-122 2 72 2 126 1-24 2-151 1 31 2 208 1-284 2 67 2-64 1 152 2-6 1 74 2-321 1 240 2-154 2 197 1-70 2 163 1-112 2-119 1 198 2-203 2 66 1 122 2-46 1-2 2-35 2 44 1 27 2-45 1 65 2 25 1-108 2-80 2 213 1-134 2 59 1 30 2-159 1 122 2-176 2 201 1-101 2 55 1 47 2-116 1 66 2-65 2 58 1 92 2-85 1-12 2-79 1 165 2-75 2 148 1-207 2 153 1 65 2-153 1-101 2 232 2-37 1-30 2 35 1-131 2 105 1-7 2-113 2 118 1-103 2 124 1 22 2 56 1-324 2 193 2-49 1 25 2-16 1 11 2-162 2 259 1 46 2-47 1 30 2-182 1-6 2 157 2 39 1-90 2-153 1 348 2-270 1 141 2-185 2 187 1-69 2 107 1-45 2-207 1 50 2 108 2 42 1 90 2-131 1-32 2 6 1 1 2 90 2-92 1-2 2-116 1-50 2 176 1 55 2-61 2 48 1 12 2-60 1 87 2-145 1 63 2-31 2 38 1 48 2 20 1-62 2 27 2-68 1 21 2 119 1-125 2 124 1-64 2-28 2 157 1-190 2-5 1 27 2 23 1-4 2 53 2-62 1 25 2-56 1 114 2-126 1 8 2 25 2 26 1-87 2 195 1-186 2 19 1-3 2-9 2 91 1-34 2-79 1 19 2 19 1 152 2-180 2-56 1 15 2 68 1 157 2-219 1 96 2 210 2-256 1 165 2-17 1-58 2-167 1 144 2-56 2-129 1 14 2 149 1 13 2 89 2-49 1-98 2 3 1 25 2-77 1 155 2-62 2-69 1 13 2-42 1 59 2 62 1-58 2 120 2 56 1-195 2 57 1-32 2 176 1-117 2 21 2 24 1 122 2-168 1-108 2 45 1 86 2-51 2-68 1 292 2-214 1-59 2-12 1-89 2 50 2 72 1 0 2-43 1 116 2-45 1-83 2-94 2 185 1-11 2-23 1-102 2 119 2-133 1 212 2-70 1-1 2-88 1-25 2 222 2-54 1-112 2 85 1 74 2-227 1 46 2-3 2 83 1-134 2 109 1-120 2 174 1-8 2-95 2 77 1-123 2 34 1 102 2-90 1 35 2-114 2 134 1-19 2-147 1-92 2 19 1 168 2-16 2-117 1 144 2 73 1-98 2-31 1 111 2 70 2-21 1-186 2 123 1-56 2-33 1-38 2 82 2-75 1 119 2-48 1 56 2-191 2 99 1 61 2-36 1-14 2-83 1 200 2-52 2-59 1-258 2 136 1 92 2-74 1-121 2 200 2 9 1-140 2 61 1-18 2 102 1-215 2 16 2 99 1-12 2 236 1-236 2 72 1-57 2-23 2 88 1 117 2-182 1 96 2-38 1 23 2-24 2 171 1-310 2 83 1-76 2-77 1 171 2 159 2-80 1 26 2-62 1-52 2 183 2-206 1 162 2-159 1 36 2 18 1-21 2 41 2 6 1 94 2-145 1-164 2-12 1 59 2 54 2 122 1-186 2 132 1 2 2 20 1-33 2 47 2-30 1 88 2-61 1-233 2 207 1 16 2-67 2-14 1 160 2-78 1-98 2 58 1 14 2-125 2 197 1-66 2 54 1-176 2 303 1-111 2-11 2-104 1 6 2-68 1 262 2-203 2 92 1 34 2-105 1 130 2 102 1-149 2 100 2-73 1-89 2 7 1-111 2 158 1 118 2-68 2 16 1 27 2-144 1 96 2 118 1-233 2 72 2-40 1 23 2-44 1 53 2-104 1 73 2 4 2 0 1 165 2-112 1 10 2-39 1 139 2-261 2 136 1 117 2 45 1-124 2-15 1 57 2-70 2 66 1-103 2 113 1-58 2-88 1-138 2 315 2-46 1 35 2-141 1 171 2-57 2-39 1 85 2 0 1-41 2 144 1-57 2-89 2-48 1 31 2 140 1-114 2-109 1 22 2 57 2 72 1-133 2 107 1 53 2-31 1-197 2 109 2-82 1 145 2-123 1 135 2-38 1-231 2 152 2 112 1-36 2-35 1-77 2 150 1 111 2-127 2-26 1-7 2-105 1 88 2-43 1 169 2-172 2-107 1 117 2 46 1 10 2-143 2 239 1-71 2-50 1-24 2 105 1-65 2 52 2-35 1 23 2 89 1-97 2-79 1 163 2-63 2-79 1 152 2-109 1 110 2-192 1-103 2 26 2 197 1-84 2 55 1 2 2-127 1 253 2-208 2 97 1-127 2 107 1 76 2-83 1-40 2 62 2-39 1 89 2 142 1-266 2 18 1 49 2 7 2-84 1 131 2 23 1-45 2-121 1 227 2-226 2 161 1 41 2-207 1 119 2 106 2-82 1-113 2-22 1 142 2-73 1-26 2 119 2-87 1 34 2 45 1-4 2-49 1 4 2 52 2-12 1-135 2 79 1-58 2-28 1 54 2-148 2 272 1-143 2 99 1-191 2 14 1 321 2-87 2-143 1-11 2 4 1 71 2-46 1-18 2 64 2-97 1 287 2-254 1 146 2-176 1 104 2 57 2-111 1 112 2-1 1 56 2-136 2-47 1-47 2 101 1-105 2 89 1 9 2-60 2-44 1 122 2-10 1-9 2-23 1 85 2-170 2 124 1-77 2 111 1-105 2-5 1 70 2-215 2 143 1-125 2 70 1 141 2-26 1-73 2 31 2 0 1 27 2 133 1-141 2 173 1-228 2 95 2-3 1-45 2-44 1 148 2 26 1-62 2 84 2-96 1-227 2 230 1-152 2 176 1-149 2 52 2-26 1-57 2-107 1 134 2 4 2 94 1-140 2 70 1-97 2 74 1-160 2 324 2-151 1-106 2 105 1 36 2-49 1 95 2-135 2-206 1 110 2 195 1-23 2-44 1-127 2 158 2-15 1-141 2-1 1 106 2 63 1 35 2-77 2 132 1-264 2 119 1-100 2-124 1 59 2 202 2-180 1-27 2 166 1 16 2-76 1 130 2-271 2 338 1-115 2-74 1-5 2-36 2-10 1 42 2-119 1 287 2-188 1 63 2-74 2-8 1 99 2-23 1-126 2 39 1 90 2-238 2-24 1 331 2-154 1-194 2 152 1 50 2 37 2 30 1-29 2 30 1-113 2 101 1 4 2 67 2-101 1 74 2-62 1-107 2 60 1-12 2 13 2 27 1 17 2 16 1-93 2 162 1-213 2 116 2 69 1-23 2 17 1-73 2 78 1-163 2 169 2 132 1-135 2 113 1-172 2-96 2 37 1 175 2-49 1-222 2 129 1 29 2-92 2-121 1 103 2 103 1-18 2-22 1 109 2 41 2-96 1 89 2-76 1-13 2-195 1 281 2-62 2 5 1-52 2-52 1 137 2 30 1 74 2-62 2-127 1 45 2 94 1-55 2-34 1-40 2 98 2-29 1 139 2-57 1-242 2 335 1-161 2-48 2 53 1 39 2-65 1-4 2 8 2 158 1-151 2 63 1-26 2-67 1-36 2-22 2 123 1-124 2-21 1 4 2-22 1 135 2 4 2-88 1 193 2-137 1 65 2-13 1 121 2-74 2-76 1-79 2-9 1 95 2 10 1 57 2-108 2 58 1-75 2-100 1 157 2 129 1-55 2 53 2-22 1-220 2 96 1 153 2-190 1-53 2 143 2 28 1-29 2-54 1-31 2-47 1-2 2 2 2-15 1 62 2 193 1-123 2-38 2 61 1-113 2 112 1 50 2-208 1 69 2 39 2-61 1-12 2 64 1 246 2-157 1-19 2 47 2-103 1-87 2 147 1 57 2-277 1 218 2 69 2-129 1-17 2 100 1-131 2 112 1 39 2-97 2-51 1 123 2-84 1 37 2-256 1 311 2-184 2 126 1 7 2-74 1-15 2-33 1 83 2 82 2-6 1-91 2-6 1-72 2 86 2-56 1-40 2 119 1 145 2-27 1 23 2-265 2 214 1-182 2 56 1-99 2 63 1 97 2 9 2-25 1-8 2 62 1-43 2-144 1 291 2-172 2 102 1-96 2-57 1 79 2-73 1 207 2-236 2 150 1-108 2 39 1 241 2-158 1-86 2-117 2 111 1 3 2 146 1-249 2-33 1 156 2 22 2 122 1-219 2-160 1 174 2-49 1 63 2 134 2-205 1 225 2-90 1-44 2-54 2 40 1 2 2 100 1 45 2-120 1 67 2 51 2-5 1-69 2 118 1-46 2 24 1-161 2-21 2-142 1 306 2-73 1-142 2 98 1 8 2-180 2 178 1 70 2 12 1-147 2 1 1 145 2-35 2-136 1-5 2 105 1-113 2 3 1 204 2-130 2-66 1 85 2 135 1-165 2-92 1-75 2 329 2-423 1 326 2-185 1-26 2 20 2 71 1 114 2-159 1 116 2 157 1-472 2 185 2-99 1 238 2-211 1-12 2 1 1 136 2 102 2-92 1 176 2-47 1-159 2 93 1-75 2-8 2-181 1 53 2 115 1-112 2 172 1-42 2-112 2 187 1-88 2 89 1-129 2-135 1 206 2-88 2 96 1 19 2 5 1-239 2-82 1 162 2 103 2-128 1 89 2-103 1 43 2-2 1-31 2 102 2-18 1 113 2-115 1 84 2-114 2 69 1-95 2-33 1 162 2-55 1 9 2-150 2-86 1 74 2 103 1-160 2 260 1-266 2 188 2 166 1-459 2 93 1 229 2-107 1 33 2-28 2 139 1-71 2-101 1 22 2-86 1 98 2-199 2 269 1-85 2 191 1-58 2-226 1 199 2-129 2 52 1 87 2-61 1 15 2-2 1-108 2 9 2 109 1 29 2-104 1 35 2-99 2-142 1 160 2 77 1 13 2 61 1 5 2 9 2-53 1 4 2-102 1 101 2-17 1 90 2-250 2 101 1-112 2 88 1-60 2 153 1-84 2-174 2 346 1-210 2-45 1 113 2-29 1-45 2 172 2-94 1 115 2-16 1-5 2-42 1-25 2-26 2 168 1-304 2 75 1 40 2 98 1-23 2-56 2 13 1 189 2-217 1-194 2 429 1-254 2 57 2 45 1-133 2 232 1-120 2-116 2 151 1 21 2-47 1 52 2-179 1 223 2-159 2 193 1-172 2 71 1 217 2-223 1 97 2-55 2-178 1 241 2-4 1-224 2 121 1-128 2 111 2 110 1-72 2-116 1 27 2 86 1-3 2 16 2 43 1-225 2 174 1 104 2-58 1-108 2 9 2 71 1 49 2-61 1 154 2-33 1-189 2 117 2-76 1-76 2 53 1 57 2-189 2 133 1 93 2-97 1 30 2 115 1-83 2 22 2 164 1-161 2 10 1 15 2 110 1-116 2-27 2-12 1 112 2-158 1 167 2-88 1-138 2 181 2-15 1-142 2 132 1-7 2-46 1-74 2 294 2-123 1 16 2 8 1-20 2-1 1-102 2 108 2-90 1-25 2 102 1-76 2-135 1 119 2 86 2-51 1 77 2-106 1-52 2 151 1-54 2-118 2 145 1-61 2 109 1-18 2-27 2-236 1 228 2 11 1 3 2-34 1-72 2 42 2-164 1 163 2-108 1 103 2-28 1 180 2-115 2-5 1 16 2 168 1-266 2 112 1 5 2-16 2-1 1-56 2 148 1-30 2-106 1 13 2 46 2 17 1 24 2-68 1-109 2 197 1-226 2 60 2 114 1-109 2 198 1 23 2-38 1-77 2-8 2 17 1-54 2 196 1-231 2 168 2-66 1-22 2 65 1 18 2-32 1-87 2-54 2 2 1 136 2-18 1 11 2-121 1 218 2-288 2 150 1 25 2-99 1-62 2 60 1-63 2 80 2-98 1-2 2 117 1-136 2 111 1 5 2 88 2-57 1-95 2 183 1-174 2 25 1 5 2 217 2-186 1-67 2 122 1-76 2 216 1-269 2 115 2-136 1 237 2-224 1 80 2-93 1 151 2-28 2-253 1 268 2-12 1-39 2 64 2-196 1-48 2 212 1 88 2-256 1 4 2 23 2-31 1 176 2-64 1 105 2 1 1-213 2 143 2-261 1 191 2 61 1-129 2-90 1 113 2 147 2-142 1-90 2 161 1 22 2-159 1 74 2 106 2-66 1 31 2-95 1 13 2-94 1 36 2 197 2-176 1-45 2 36 1-54 2 136 1 33 2-168 2 172 1 93 2-282 1 150 2-39 2 92 1-9 2-18 1-73 2-68 1 231 2-271 2 167 1-14 2-157 1 63 2 125 1-301 2 234 2-101 1 1 2-110 1 160 2-132 1 150 2-167 2 161 1-38 2-202 1 41 2 108 1-191 2 162 2 99 1-139 2-174 1 132 2-10 1 152 2 1" class="bl b1"/><path transform="scale(0.1)" d="M450 6036l2-3 1 6 2 7 1-5 2 6 1-11 2-13 2 19 1 1 2-11 1 1 2 3 1 11 2-9 2-8 1 22 2-9 1 15 2-6 1 6 2-17 2 11 1-16 2 1 1 4 2 24 2-20 1-5 2-2 1 17 2-11 1 6 2-2 2-19 1 19 2-8 1-9 2 15 1-4 2-3 2 1 1 14 2-14 1-13 2 31 1-26 2 8 2 8 1-27 2 13 1 21 2-13 1-5 2 8 2-9 1 8 2-8 1-8 2 23 1-9 2 7 2-6 1 14 2-6 1-4 2-11 1-2 2 26 2-5 1-15 2 29 1-16 2-3 1-14 2 7 2 12 1 1 2-1 1-17 2 21 2 0 1-6 2 5 1 2 2 11 1-11 2 6 2-16 1 6 2 9 1-7 2 12 1-14 2 13 2-5 1 20 2-16 1 23 2 5 1-18 2 8 2-10 1-21 2 33 1-1 2-7 1-2 2 8 2 1 1-9 2 3 1 18 2-9 1-1 2 13 2-13 1 12 2-18 1 9 2 2 1 7 2-4 2 21 1-9 2-15 1 27 2-30 2 28 1-26 2 18 1-16 2 7 1 18 2-28 2-1 1 16 2 3 1 0 2 9 1-21 2 18 2-4 1 9 2-1 1 7 2-26 1 16 2-11 2 11 1 8 2-3 1 3 2-5 1 4 2 0 2 12 1-5 2-25 1 25 2 5 1-14 2-11 2 31 1-13 2 5 1 13 2-26 1 8 2 0 2 9 1-12 2 11 1-4 2 10 1 2 2-27 2 20 1-8 2 4 1 4 2 1 2-11 1 10 2-2 1-2 2-12 1 6 2 3 2 10 1 9 2-25 1 0 2 11 1-7 2-2 2-1 1-1 2 15 1-21 2 29 1-22 2 4 2-4 1-11 2 4 1 28 2 6 1-27 2 20 2-11 1-9 2 26 1 5 2-25 1 3 2 3 2-3 1 9 2 7 1-14 2 8 1 7 2-22 2 6 1-5 2 14 1-3 2 4 2-2 1-11 2 10 1-12 2 0 1-17 2 36 2-24 1 10 2-1 1 15 2-10 1-13 2 9 2-2 1 4 2-15 1 12 2 23 1-16 2 14 2 6 1-21 2-20 1 14 2 12 1-2 2-22 2 10 1 1 2 2 1-1 2-9 1 3 2 3 2 13 1-17 2 12 1-19 2 24 1-13 2-2 2 13 1-33 2 1 1 20 2-15 1 3 2 30 2-31 1 2 2-3 1 11 2-10 2-3 1-16 2 7 1 2 2-18 1 21 2-4 2 13 1-37 2 5 1-2 2 1 1 4 2-3 2 3 1-2 2-5 1-17 2 9 1 4 2 4 2-1 1-26 2 10 1 3 2 3 1 6 2-12 2-12 1 12 2-3 1-2 2-5 1 17 2-16 2 5 1-20 2 16 1-16 2-11 1 18 2 1 2-10 1 0 2 9 1-17 2-19 2 23 1-3 2 7 1-16 2 15 1-4 2-27 2 21 1-22 2-7 1 12 2-5 1-17 2 21 2 3 1 6 2-16 1-17 2 4 1 18 2-2 2-5 1-10 2 4 1-6 2-2 1 5 2-4 2-3 1 2 2-7 1-16 2 13 1 5 2 18 2-23 1 24 2-6 1-24 2 2 1 9 2 16 2-14 1 3 2-14 1-17 2 22 1 11 2 4 2-12 1 2 2 10 1-13 2 14 2-24 1 1 2 0 1 17 2-10 1 7 2 3 2 0 1 10 2 2 1-23 2 11 1-4 2-8 2 30 1-10 2-10 1-1 2 8 1-14 2 9 2 16 1-3 2-18 1 5 2 25 1-34 2 9 2-7 1 18 2 0 1 9 2-38 1 29 2-18 2 25 1-8 2 19 1-13 2-13 1 24 2-24 2 8 1 15 2-5 1 0 2-3 2 6 1 3 2-4 1 8 2 4 1-13 2-9 2 27 1-16 2 8 1 4 2-18 1 16 2-21 2 25 1-11 2 7 1 7 2-13 1 9 2-7 2 8 1 12 2-10 1 0 2-9 1 21 2-8 2 19 1-24 2 19 1 9 2-17 1-12 2 29 2-3 1-3 2 5 1-14 2 13 1 0 2-12 2 15 1-12 2 16 1 4 2 7 1-38 2 24 2-5 1 4 2-1 1 2 2-18 2 32 1 6 2-4 1 4 2-20 1 0 2 20 2 5 1-9 2-17 1 42 2-31 1 18 2-21 2 24 1-8 2 14 1-4 2-24 1 8 2 14 2 6 1 12 2-15 1-3 2 2 1 1 2 12 2-10 1 1 2-13 1-5 2 22 1 8 2-7 2 7 1 2 2-6 1 11 2-16 1 8 2-3 2 5 1 7 2 3 1-7 2 4 2-8 1 3 2 15 1-15 2 15 1-7 2-3 2 19 1-23 2 0 1 3 2 3 1 0 2 7 2-8 1 3 2-6 1 14 2-15 1 1 2 3 2 3 1-10 2 24 1-22 2 2 1 0 2-1 2 11 1-4 2-9 1 2 2 3 1 18 2-22 2-6 1 2 2 8 1 19 2-26 1 12 2 25 2-31 1 20 2-2 1-7 2-20 1 18 2-7 2-15 1 1 2 18 1 2 2 11 2-6 1-12 2 1 1 3 2-10 1 19 2-7 2-9 1 2 2-5 1 7 2 8 1-7 2 14 2 7 1-24 2 7 1-4 2 21 1-14 2 3 2 3 1 14 2-20 1-13 2 5 1 10 2-6 2-8 1 35 2-26 1-8 2-1 1-11 2 5 2 8 1 0 2-5 1 13 2-5 1-11 2-11 2 21 1-1 2-3 1-13 2 14 2-16 1 25 2-9 1 0 2-11 1-4 2 27 2-7 1-14 2 10 1 8 2-27 1 5 2-1 2 10 1-17 2 13 1-15 2 20 1-1 2-12 2 8 1-16 2 4 1 11 2-12 1 3 2-15 2 15 1-4 2-19 1-12 2 1 1 18 2-3 2-16 1 16 2 7 1-13 2-6 1 12 2 6 2-4 1-24 2 13 1-9 2-5 1-7 2 8 2-10 1 12 2-7 1 5 2-25 2 10 1 6 2-6 1-3 2-12 1 23 2-8 2-8 1-33 2 15 1 10 2-10 1-16 2 23 2 0 1-18 2 7 1-3 2 11 1-26 2 1 2 11 1-2 2 27 1-29 2 8 1-8 2-3 2 9 1 13 2-22 1 10 2-5 1 2 2-4 2 20 1-38 2 9 1-10 2-10 1 20 2 18 2-11 1 3 2-8 1-7 2 21 2-26 1 19 2-20 1 4 2 1 1-3 2 4 2 0 1 11 2-18 1-21 2-2 1 7 2 6 2 14 1-23 2 15 1 0 2 2 1-4 2 5 2-4 1 11 2-8 1-28 2 25 1 2 2-9 2-1 1 19 2-10 1-11 2 7 1 1 2-15 2 24 1-8 2 7 1-21 2 36 1-13 2-1 2-12 1 1 2-8 1 31 2-24 2 11 1 5 2-13 1 16 2 13 1-18 2 12 2-8 1-10 2 1 1-13 2 19 1 14 2-7 2 2 1 4 2-17 1 11 2 15 1-28 2 9 2-4 1 3 2-5 1 7 2-12 1 10 2 1 2 1 1 21 2-13 1 2 2-4 1 18 2-30 2 17 1 16 2 6 1-13 2-1 1 8 2-7 2 10 1-11 2 15 1-6 2-9 1-15 2 39 2-4 1 6 2-16 1 22 2-5 2-3 1 11 2 2 1-4 2 19 1-5 2-10 2-4 1 5 2 18 1-13 2-12 1 4 2 8 2 10 1-15 2 14 1 7 2-3 1-22 2 13 2-9 1 18 2-14 1 17 2-4 1-28 2 19 2 14 1-4 2-3 1-9 2 19 1 13 2-14 2-3 1 0 2-12 1 11 2-5 1 21 2-20 2-13 1 15 2 6 1 1 2-16 2 29 1-8 2-6 1-2 2 13 1-8 2 7 2-4 1 4 2 11 1-12 2-9 1 20 2-7 2-9 1 19 2-13 1 13 2-23 1-12 2 4 2 24 1-10 2 7 1 0 2-15 1 31 2-25 2 12 1-15 2 13 1 9 2-9 1-5 2 8 2-5 1 11 2 17 1-32 2 2 1 6 2 1 2-10 1 16 2 2 1-5 2-15 1 27 2-27 2 20 1 4 2-24 1 14 2 13 2-10 1-14 2-3 1 17 2-8 1-4 2 15 2-11 1 4 2 5 1 0 2-6 1 1 2 6 2-2 1-16 2 10 1-7 2-4 1 7 2-18 2 33 1-18 2 12 1-23 2 2 1 38 2-10 2-17 1-1 2 0 1 9 2-6 1-2 2 8 2-12 1 35 2-31 1 18 2-21 1 12 2 7 2-13 1 13 2 0 1 7 2-16 2-6 1-6 2 12 1-13 2 11 1 1 2-8 2-6 1 15 2-2 1-1 2-3 1 9 2-21 2 15 1-10 2 13 1-14 2-1 1 8 2-27 2 17 1-16 2 8 1 16 2-4 1-9 2 3 2-1 1 2 2 15 1-17 2 20 1-29 2 11 2-1 1-7 2-6 1 17 2 2 1-8 2 9 2-12 1-28 2 26 1-19 2 20 1-18 2 5 2-4 1-7 2-14 1 16 2-1 2 10 1-17 2 7 1-12 2 8 1-20 2 37 2-19 1-14 2 12 1 3 2-7 1 10 2-17 2-26 1 12 2 22 1-4 2-7 1-16 2 17 2-3 1-18 2-2 1 12 2 6 1 3 2-11 2 14 1-33 2 13 1-14 2-16 1 6 2 22 2-23 1-4 2 18 1 0 2-10 1 13 2-34 2 39 1-16 2-11 1-3 2-6 2-4 1 3 2-17 1 32 2-25 1 5 2-12 2-3 1 9 2-5 1-18 2 3 1 8 2-30 2-5 1 37 2-20 1-25 2 17 1 4 2 3 2 3 1-4 2 2 1-14 2 12 1 0 2 8 2-12 1 9 2-7 1-13 2 7 1-1 2 2 2 3 1 2 2 2 1-11 2 20 1-25 2 14 2 8 1-2 2 2 1-9 2 10 1-19 2 20 2 16 1-15 2 13 1-20 2-11 2 5 1 21 2-6 1-26 2 16 1 4 2-11 2-14 1 13 2 12 1-1 2-3 1 14 2 5 2-11 1 11 2-9 1-1 2-23 1 34 2-7 2 1 1-6 2-6 1 17 2 4 1 9 2-7 2-15 1 6 2 12 1-6 2-4 1-4 2 12 2-3 1 17 2-7 1-28 2 40 1-19 2-5 2 7 1 5 2-7 1-1 2 2 2 19 1-18 2 8 1-2 2-8 1-4 2-2 2 15 1-14 2-2 1 1 2-2 1 16 2 1 2-10 1 24 2-16 1 8 2-1 1 15 2-8 2-9 1-9 2 0 1 12 2 2 1 7 2-12 2 7 1-8 2-12 1 20 2 16 1-6 2 7 2-2 1-26 2 12 1 19 2-22 1-6 2 18 2 3 1-2 2-6 1-4 2-5 1 1 2 1 2-2 1 8 2 24 1-14 2-4 2 8 1-14 2 14 1 7 2-25 1 9 2 5 2-6 1-1 2 8 1 30 2-19 1-1 2 6 2-12 1-11 2 19 1 7 2-33 1 26 2 9 2-15 1-2 2 13 1-16 2 14 1 5 2-11 2-6 1 16 2-10 1 5 2-30 1 37 2-21 2 15 1 1 2-8 1-2 2-3 1 10 2 10 2 0 1-10 2-1 1-8 2 11 2-7 1-4 2 15 1 17 2-2 1 3 2-32 2 26 1-21 2 7 1-12 2 8 1 12 2 1 2-2 1-1 2 8 1-5 2-17 1 35 2-21 2 13 1-11 2-7 1 10 2-9 1 25 2-28 2 18 1-13 2 5 1 29 2-19 1-10 2-14 2 14 1 0 2 18 1-30 2-4 1 19 2 2 2 15 1-27 2-19 1 21 2-6 1 7 2 16 2-24 1 26 2-11 1-5 2-7 2 5 1 0 2 12 1 5 2-15 1 8 2 6 2-1 1-9 2 14 1-6 2 3 1-20 2-3 2-17 1 36 2-9 1-18 2 12 1 0 2-22 2 21 1 8 2 1 1-18 2-1 1 17 2-4 2-17 1-1 2 12 1-14 2-1 1 24 2-16 2-8 1 9 2 16 1-20 2-12 1-9 2 39 2-52 1 39 2-23 1-4 2 2 2 7 1 13 2-20 1 13 2 18 1-58 2 21 2-13 1 28 2-27 1-2 2-2 1 16 2 10 2-12 1 20 2-7 1-21 2 10 1-10 2-3 2-23 1 5 2 12 1-15 2 19 1-7 2-15 2 21 1-12 2 9 1-17 2-18 1 23 2-13 2 10 1 1 2-2 1-31 2-12 1 17 2 9 2-18 1 7 2-16 1 2 2-4 1-8 2 9 2-6 1 10 2-17 1 6 2-17 2 5 1-15 2-7 1 17 2-9 1-2 2-20 2-12 1 8 2 11 1-20 2 31 1-33 2 22 2 19 1-55 2 10 1 27 2-13 1 3 2-4 2 16 1-9 2-13 1 2 2-10 1 11 2-25 2 32 1-11 2 23 1-8 2-28 1 24 2-16 2 6 1 10 2-8 1 1 2-1 1-13 2 1 2 12 1 3 2-12 1 3 2-12 2-17 1 18 2 9 1 2 2 7 1 0 2 1 2-7 1 0 2-12 1 12 2-2 1 10 2-30 2 12 1-14 2 11 1-8 2 19 1-11 2-20 2 41 1-25 2-5 1 13 2-3 1-5 2 21 2-11 1 14 2-1 1 0 2-5 1-2 2-3 2 21 1-36 2 10 1 5 2 13 1-2 2-6 2 2 1 24 2-25 1-23 2 53 1-30 2 8 2 6 1-15 2 29 1-14 2-13 2 20 1 3 2-5 1 7 2-20 1 28 2-19 2 24 1-19 2 9 1 27 2-26 1 13 2-6 2-21 1 30 2 0 1-26 2 15 1-14 2 13 2 14 1-8 2-13 1 4 2 11 1 0 2 3 2 6 1-27 2 22 1 13 2-6 1-12 2 2 2 9 1 6 2-6 1 19 2-3 1-22 2 15 2-9 1-8 2 7 1 8 2-22 2 17 1 11 2-10 1 4 2 14 1-9 2 4 2 20 1-19 2 2 1 3 2 14 1-13 2-3 2-1 1 14 2-18 1 21 2-10 1-16 2 22 2-1 1-17 2 17 1-1 2-5 1-8 2 36 2-14 1 2 2 1 1-2 2 1 1-12 2 13 2-10 1-3 2 13 1-9 2-16 1 14 2 11 2-6 1 9 2-12 1-6 2 18 1-6 2-14 2 17 1-7 2 13 1-2 2-3 2-28 1 27 2 2 1 0 2-4 1-8 2 5 2-19 1 19 2-13 1 13 2-3 1 21 2-13 2-1 1 2 2 20 1-31 2 13 1 1 2-2 2 0 1-7 2 18 1-3 2-13 1 2 2 5 2 3 1 2 2-8 1-13 2 24 1-27 2 7 2 14 1-13 2 24 1 3 2-5 1-9 2-1 2 2 1-6 2 24 1-28 2 20 2-8 1-2 2 7 1 3 2-4 1-10 2-7 2 1 1 16 2-2 1 1 2-14 1 26 2-35 2 18 1 3 2-12 1-7 2 7 1-8 2 9 2-12 1-1 2 14 1-17 2 13 1 0 2 10 2-7 1-12 2 21 1-22 2 3 1 0 2 25 2-23 1-9 2 14 1-10 2 25 1-33 2 13 2-18 1 28 2-28 1 9 2-12 1 17 2-5 2-31 1 31 2-2 1-6 2 6 2-24 1-7 2 24 1 10 2-32 1 0 2 2 2-5 1 20 2-9 1 12 2-1 1-26 2 16 2-32 1 22 2 6 1-16 2-12 1 13 2 17 2-18 1-12 2 18 1 2 2-20 1 8 2 11 2-9 1 3 2-13 1 1 2-13 1 4 2 22 2-22 1-7 2 3 1-7 2 15 1 2 2-21 2 19 1 10 2-35 1 16 2-6 2 10 1-3 2-3 1-11 2-9 1 26 2-34 2 18 1-3 2-21 1 6 2 13 1-38 2 26 2-15 1-2 2-16 1 17 2-18 1 15 2-22 2 16 1-7 2-27 1 14 2-1 1-26 2 17 2 9 1-20 2 17 1-27 2-4 1 16 2-3" class="yl yC1"/><rect x="339.2" y="508.8" width="164.4" height="10.6" fill="#8fd5eb"/><text x="382.1" y="517.6" class="st" text-anchor="middle">2018</text><text x="461.3" y="518.5" class="st" text-anchor="middle">2019</text><rect x="339.2" y="519.4" width="164.4" height="165.1" fill="#ebebeb"/><line x1="339.2" x2="503.6" y1="654.9" y2="654.9" class="hm"/><line x1="339.2" x2="503.6" y1="609.9" y2="609.9" class="hm"/><line x1="339.2" x2="503.6" y1="564.9" y2="564.9" class="hm"/><line x1="339.2" x2="503.6" y1="677.4" y2="677.4" class="hM"/><line x1="339.2" x2="503.6" y1="632.4" y2="632.4" class="hM"/><line x1="339.2" x2="503.6" y1="587.4" y2="587.4" class="hM"/><line x1="339.2" x2="503.6" y1="542.4" y2="542.4" class="hM"/><line x1="342.0" x2="342.0" y1="519.4" y2="684.5" class="vM2"/><line x1="361.8" x2="361.8" y1="519.4" y2="684.5" class="vm"/><line x1="381.6" x2="381.6" y1="519.4" y2="684.5" class="vM2"/><line x1="401.5" x2="401.5" y1="519.4" y2="684.5" class="vm"/><line x1="421.3" x2="421.3" y1="519.4" y2="684.5" class="vM2"/><line x1="441.1" x2="441.1" y1="519.4" y2="684.5" class="vm"/><line x1="461.0" x2="461.0" y1="519.4" y2="684.5" class="vM2"/><line x1="480.8" x2="480.8" y1="519.4" y2="684.5" class="vm"/><line x1="500.6" x2="500.6" y1="519.4" y2="684.5" class="vM2"/><line x1="342.0" x2="342.0" y1="684.5" y2="685.8" class="tk"/><line x1="381.6" x2="381.6" y1="684.5" y2="685.8" class="tk"/><line x1="421.3" x2="421.3" y1="684.5" y2="685.8" class="tk"/><line x1="461.0" x2="461.0" y1="684.5" y2="685.8" class="tk"/><line x1="500.6" x2="500.6" y1="684.5" y2="685.8" class="tk"/><text x="342.0" y="693.4" class="jl" text-anchor="middle">Jan</text><text x="421.3" y="693.4" class="jl" text-anchor="middle">Jan</text><path transform="scale(0.1)" d="M3420 5635l2 15 2 80 3-117 2-175 2 257 2 1 2-8 2-42 3 121 2-138 2 62 2 39 2 58 2-12 3-117 2 105 2-77 2-74 2 4 2-38 3 146 2 64 2-161 2 58 2-61 2 88 3-89 2 29 2 13 2 18 2 10 2 15 3 3 2-57 2 118 2-172 2-159 3 220 2 85 2 14 2-175 2 183 2 76 3-42 2-29 2-190 2 152 2-55 2 151 3-103 2-23 2-87 2 195 2-99 2 24 3 104 2-76 2 20 2 161 2-225 2 6 3 77 2 71 2-217 2 95 2-56 2-30 3 151 2-102 2 83 2-12 2 3 2-6 3-85 2 78 2 23 2 10 2-46 3 97 2-29 2-34 2 41 2-33 2 39 3-201 2 53 2 70 2 40 2-173 2 146 3 33 2-29 2 2 2-84 2 112 2-163 3 233 2-121 2 133 2-216 2 167 2-19 3-74 2-24 2 185 2-58 2 83 2-117 3 20 2 21 2 27 2-21 2 29 3-97 2-75 2 268 2-140 2 25 2-70 3 113 2-62 2 70 2-134 2 47 2 21 3-41 2 48 2 102 2-166 2 24 2 35 3-88 2-17 2 179 2-24 2-180 2 11 3 167 2 35 2-42 2-10 2 84 2-125 3 102 2-5 2-164 2 125 2-47 2-54 3-14 2 90 2-29 2 68 2-199 3 86 2 136 2-85 2-55 2 19 2-104 3 36 2 149 2-34 2 93 2-118 2 8 3-197 2 202 2 171 2-110 2-60 2 107 3-30 2-38 2-54 2 40 2 57 2-130 3 104 2-3 2 69 2-45 2-111 2 177 3-119 2-60 2 85 2-47 2 106 3-187 2 17 2 68 2 155 2-54 2-156 3-57 2 111 2-73 2 144 2-32 2-14 3-32 2 151 2-190 2-30 2 192 2 16 3-132 2 78 2 129 2-243 2 50 2 49 3-201 2 153 2 68 2-66 2 88 2-22 3-90 2 72 2-8 2-165 2 62 3 4 2 20 2 3 2-76 2 114 2-146 3 217 2-55 2 87 2-81 2-67 2-73 3 163 2-52 2 28 2 29 2 34 2-97 3 138 2-143 2 7 2 52 2 27 2 28 3-252 2 248 2-225 2 74 2 74 2 61 3-171 2-53 2 205 2-49 2-106 2 55 3-129 2 198 2-87 2 138 2-260 3 217 2 113 2-163 2-1 2-161 2 173 3-28 2-49 2-79 2 125 2-88 2 38 3 60 2-31 2 1 2 70 2-167 2 198 3-200 2 14 2 79 2 49 2-44 2-56 3-23 2 34 2-56 2 118 2-63 2 138 3-182 2 46 2 43 2-123 2 35 3 232 2-184 2 114 2-196 2-111 2 231 3-47 2 24 2-47 2-24 2-51 2 175 3-199 2 192 2-94 2-70 2 34 2 126 3-19 2-20 2-33 2-95 2 188 2-138 3-13 2 3 2 5 2-83 2 78 2-30 3 21 2-97 2 284 2-248 2 118 2 0 3 52 2 67 2-116 2 22 2-94 3 151 2-226 2 88 2 39 2 34 2 4 3 26 2-47 2-44 2 13 2 94 2-90 3 47 2-83 2-133 2 95 2 71 2 100 3-18 2 20 2-188 2 114 2-66 2 52 3-57 2-103 2 161 2-28 2 34 2-131 3 146 2 7 2 19 2 0 2-147 3-163 2 275 2-152 2 54 2 103 2-64 3-4 2 34 2-203 2 296 2-177 2 3 3 70 2-56 2-57 2 56 2-20 2-22 3 211 2-271 2-62 2 100 2-2 2 188 3-100 2 54 2-17 2-120 2 137 2-51 3 138 2-135 2-19 2 62 2 1 2-201 3 240 2-12 2-18 2-155 2-69 3 138 2 82 2-22 2-115 2 154 2-183 3 4 2 105 2-44 2-7 2-62 2 203 3-172 2 121 2 31 2-66 2 27 2 61 3 50 2-48 2-183 2-36 2 104 2-38 3 135 2-30 2-24 2 109 2-3 2-80 3 36 2 61 2-108 2 54 2-96 3 83 2 27 2-30 2 27 2 41 2-18 3-86 2 10 2-47 2 233 2-98 2 4 3-43 2 51 2 7 2-98 2 49 2 106 3-191 2 28 2 124 2-107 2 124 2-142 3 106 2 47 2-32 2 33 2-73 2 3 3 12 2 47 2 138 2-186 2 155 3-165 2-68 2 67 2 52 2-16 2-3 3 33 2 3 2 26 2-163 2 94 2-75 3 93 2-24 2 19 2-49 2-28 2 46 3 71 2 8 2-189 2 151 2 1 2-136 3 30 2 43 2 72 2-212 2 152 2-12 3 56 2 97 2-6 2-134 2 1 2 50 3 72 2 22 2-86 2 88 2-182 3-19 2-129 2 152 2 114 2 23 2 113 3-133 2-32 2-88 2 28 2 3 2 29 3-33 2-61 2 195 2-46 2 73 2-232 3 25 2 43 2 151 2-105 2 32 2-24 3 22 2-54 2 71 2-96 2 48 2 42 3-13 2 26 2-96 2 84 2-43 3 54 2 85 2-185 2 153 2-134 2 20 3 161 2-55 2-33 2 24 2 28 2-149 3 76 2-49 2 63 2-57 2 82 2-57 3-47 2 41 2 39 2 48 2-98 2-14 3 46 2 39 2-102 2-150 2 215 2-51 3-3 2 208 2-190 2 64 2-163 2 126 3 40 2-44 2-30 2 55 2-40 3 100 2-88 2-79 2-93 2 96 2 32 3-71 2 11 2-52 2 44 2 91 2-30 3 4 2-11 2 6 2 74 2 101 2-113 3 103 2-164 2 3 2 128 2-184 2-16 3 58 2-124 2-17 2 236 2-175 2 44 3 0 2-42 2 126 2-12 2 15 3-7 2-53 2 102 2-34 2-128 2 48 3-37 2 173 2-88 2-20 2-48 2 46 3-120 2 75 2-8 2-2 2-56 2 89 3-125 2 49 2 22 2 7 2-39 2-40 3 4 2 43 2-40 2 57 2-89 2 98 3 157 2-265 2 94 2 98 2-76 3 51 2-232 2 123 2 159 2-165 2 72 3-180 2 228 2 91 2-180 2 30 2 4 3 132 2-201 2-98 2 275 2-241 2 132 3-228 2 145 2 44 2-104 2 41 2 83 3-105 2 90 2 94 2-300 2 179 2 16 3-78 2 142 2-20 2-70 2-3 2-49 3-85 2 120 2-77 2-12 2 128 3-104 2 88 2-158 2 45 2-163 2 297 3-115 2 66 2-116 2 61 2 52 2-137 3 13 2 100" class="bl b2"/><path transform="scale(0.1)" d="M3420 5787l2 3 2 11 3-12 2 25 2-14 2 1 2 0 2-5 3 15 2-16 2 7 2 5 2 7 2-1 3-14 2 13 2-9 2-9 2 1 2-5 3 18 2 8 2-20 2 7 2-7 2 11 3-11 2 4 2 1 2 2 2 2 2 1 3 1 2-7 2 14 2-20 2 17 3-10 2 11 2 1 2-20 2 22 2 9 3-5 2-3 2-23 2 19 2-6 2 18 3-12 2-2 2-10 2 24 2-12 2 3 3 13 2-8 2 2 2 20 2-26 2 1 3 10 2 9 2-26 2 12 2-6 2-3 3 18 2-11 2 10 2-1 2 1 2 0 3-9 2 10 2 3 2 2 2-5 3 12 2-2 2-4 2 6 2-4 2 6 3-23 2 7 2 9 2 5 2-20 2 19 3 4 2-2 2 1 2-10 2 15 2-19 3 29 2-14 2 17 2-25 2 22 2-2 3-7 2-2 2 24 2-6 2 12 2-13 3 4 2 4 2 5 2-1 2 5 3-10 2-8 2 34 2-15 2 4 2-7 3 15 2-6 2 9 2-15 2 7 2 3 3-4 2 7 2 13 2-20 2 4 2 4 3-10 2-2 2 22 2-3 2-21 2 1 3 21 2 4 2-5 2-1 2 11 2-15 3 12 2 0 2-20 2 15 2-5 2-7 3-1 2 11 2-4 2 9 2-24 3 10 2 17 2-10 2-7 2 3 2-13 3 5 2 17 2-4 2 12 2-14 2 1 3-24 2 24 2 21 2-13 2-7 2 12 3-3 2-5 2-6 2 5 2 7 2-16 3 13 2-1 2 9 2-6 2-13 2 21 3-14 2-7 2 10 2-5 2 12 3-22 2 2 2 8 2 19 2-6 2-19 3-7 2 14 2-9 2 17 2-3 2-2 3-4 2 19 2-23 2-3 2 23 2 2 3-16 2 10 2 15 2-29 2 7 2 6 3-24 2 18 2 9 2-8 2 11 2-3 3-10 2 9 2-1 2-20 2 8 3 1 2 2 2 1 2-9 2 14 2-18 3 27 2-7 2 11 2-10 2-8 2-8 3 19 2-6 2 4 2 3 2 4 2-11 3 17 2-18 2 1 2 7 2 3 2 3 3-31 2 30 2-28 2 9 2 8 2 6 3-21 2-7 2 24 2-7 2-14 2 6 3-17 2 23 2-12 2 16 2-33 3 25 2 12 2-21 2-1 2-21 2 20 3-5 2-7 2-11 2 14 2-12 2 3 3 6 2-5 2-2 2 8 2-22 2 23 3-26 2 0 2 8 2 5 2-7 2-8 3-4 2 3 2-9 2 13 2-9 2 14 3-24 2 4 2 2 2-17 2 2 3 25 2-25 2 12 2-27 2-16 2 25 3-8 2 0 2-9 2-5 2-9 2 18 3-27 2 21 2-15 2-11 2 2 2 13 3-5 2-5 2-6 2-14 2 21 2-18 3-4 2-1 2-1 2-11 2 8 2-5 3 2 2-12 2 33 2-30 2 14 2 1 3 6 2 9 2-14 2 4 2-11 3 19 2-26 2 12 2 6 2 5 2 2 3 4 2-4 2-4 2 4 2 13 2-10 3 8 2-9 2-14 2 13 2 10 2 14 3-1 2 4 2-21 2 16 2-7 2 8 3-6 2-11 2 21 2-3 2 5 2-14 3 18 2 2 2 3 2 0 2-16 3-19 2 33 2-17 2 7 2 13 2-7 3 0 2 5 2-24 2 36 2-21 2 1 3 9 2-6 2-7 2 7 2-2 2-2 3 26 2-32 2-7 2 12 2 0 2 23 3-11 2 7 2-2 2-14 2 17 2-6 3 17 2-15 2-2 2 8 2 1 2-24 3 29 2-1 2-1 2-18 2-8 3 17 2 11 2-2 2-13 2 19 2-21 3 1 2 14 2-5 2 0 2-6 2 25 3-20 2 16 2 4 2-7 2 4 2 9 3 6 2-5 2-21 2-3 2 13 2-4 3 17 2-3 2-2 2 14 2 0 2-9 3 5 2 8 2-13 2 7 2-11 3 11 2 4 2-3 2 4 2 5 2-1 3-10 2 2 2-5 2 28 2-11 2 1 3-5 2 7 2 1 2-11 2 7 2 13 3-22 2 4 2 15 2-12 2 16 2-17 3 14 2 6 2-3 2 4 2-8 2 1 3 2 2 7 2 17 2-22 2 20 3-19 2-8 2 9 2 7 2-1 2 0 3 5 2 1 2 4 2-19 2 12 2-9 3 12 2-2 2 3 2-5 2-3 2 6 3 9 2 2 2-22 2 18 2 1 2-16 3 4 2 6 2 9 2-25 2 18 2-1 3 7 2 12 2 0 2-16 2 0 2 7 3 8 2 3 2-10 2 11 2-21 3-3 2-15 2 19 2 14 2 3 2 13 3-15 2-4 2-10 2 3 2 1 2 3 3-3 2-7 2 23 2-5 2 9 2-28 3 3 2 5 2 19 2-13 2 4 2-2 3 2 2-6 2 9 2-12 2 6 2 5 3-1 2 3 2-12 2 11 2-6 3 7 2 10 2-22 2 18 2-16 2 3 3 19 2-6 2-4 2 3 2 3 2-18 3 9 2-6 2 8 2-7 2 10 2-7 3-5 2 5 2 4 2 6 2-12 2-1 3 5 2 5 2-12 2-18 2 26 2-6 3-1 2 26 2-23 2 8 2-20 2 15 3 5 2-5 2-4 2 7 2-5 3 13 2-11 2-9 2-11 2 11 2 4 3-8 2 2 2-6 2 5 2 11 2-3 3 0 2-1 2 1 2 9 2 13 2-14 3 13 2-20 2 0 2 16 2-23 2-2 3 7 2-16 2-2 2 27 2-21 2 4 3-1 2-6 2 14 2-2 2 1 3-2 2-8 2 11 2-5 2-17 2 5 3-6 2 20 2-12 2-4 2-7 2 3 3-15 2 7 2-2 2-2 2-9 2 10 3-17 2 4 2 1 2 0 2-7 2-6 3-1 2 3 2-6 2 5 2-12 2 10 3 18 2-34 2 9 2 10 2-11 3 5 2-30 2 12 2 17 2-22 2 7 3-24 2 25 2 9 2-24 2 2 2-2 3 13 2-26 2-14 2 31 2-31 2 13 3-29 2 15 2 3 2-14 2 3 2 8 3-14 2 9 2 9 2-38 2 20 2 1 3-11 2 15 2-4 2-10 2-1 2-8 3-11 2 13 2-11 2-2 2 14 3-14 2 10 2-20 2 4 2 3 2 11 3-15 2 7 2-15 2 7 2 5 2-18 3 1 2 11" class="yl yC2"/><rect x="509.9" y="508.8" width="163.7" height="10.6" fill="#8fd5eb"/><text x="551.9" y="517.6" class="st" text-anchor="middle">2018</text><text x="629.6" y="518.5" class="st" text-anchor="middle">2019</text><rect x="509.9" y="519.4" width="163.7" height="165.1" fill="#ebebeb"/><line x1="509.9" x2="673.6" y1="654.9" y2="654.9" class="hm"/><line x1="509.9" x2="673.6" y1="609.9" y2="609.9" class="hm"/><line x1="509.9" x2="673.6" y1="564.9" y2="564.9" class="hm"/><line x1="509.9" x2="673.6" y1="677.4" y2="677.4" class="hM"/><line x1="509.9" x2="673.6" y1="632.4" y2="632.4" class="hM"/><line x1="509.9" x2="673.6" y1="587.4" y2="587.4" class="hM"/><line x1="509.9" x2="673.6" y1="542.4" y2="542.4" class="hM"/><line x1="511.8" x2="511.8" y1="519.4" y2="684.5" class="vM2"/><line x1="531.7" x2="531.7" y1="519.4" y2="684.5" class="vm"/><line x1="551.6" x2="551.6" y1="519.4" y2="684.5" class="vM2"/><line x1="571.5" x2="571.5" y1="519.4" y2="684.5" class="vm"/><line x1="591.4" x2="591.4" y1="519.4" y2="684.5" class="vM2"/><line x1="611.3" x2="611.3" y1="519.4" y2="684.5" class="vm"/><line x1="631.2" x2="631.2" y1="519.4" y2="684.5" class="vM2"/><line x1="651.1" x2="651.1" y1="519.4" y2="684.5" class="vm"/><line x1="671.0" x2="671.0" y1="519.4" y2="684.5" class="vM2"/><line x1="511.8" x2="511.8" y1="684.5" y2="685.8" class="tk"/><line x1="551.6" x2="551.6" y1="684.5" y2="685.8" class="tk"/><line x1="591.4" x2="591.4" y1="684.5" y2="685.8" class="tk"/><line x1="631.2" x2="631.2" y1="684.5" y2="685.8" class="tk"/><line x1="671.0" x2="671.0" y1="684.5" y2="685.8" class="tk"/><text x="511.8" y="693.4" class="jl" text-anchor="middle">Jan</text><text x="591.4" y="693.4" class="jl" text-anchor="middle">Jan</text><path transform="scale(0.1)" d="M5118 5532l2 209 2-429 3 381 2-224 2 314 2-33 2-231 2 9 3 250 2-257 2 233 2-57 2-68 3 85 2-294 2 304 2 203 2-348 2 241 3-13 2 376 2-556 2 27 2 4 2-24 3-98 2 243 2-136 2 236 2-54 3-195 2 94 2 241 2-235 2 77 2 90 3-173 2 119 2 164 2-63 2-400 3 459 2-241 2-52 2-3 2 262 2-125 3-63 2-90 2 203 2 74 2-301 3-12 2 104 2 138 2-140 2 43 2-101 3 293 2-189 2 40 2 134 2-183 2 26 3 64 2-111 2 255 2-190 2-66 3 22 2-109 2 319 2 44 2-242 2-29 3-231 2 211 2 209 2-233 2 232 3 91 2-570 2 319 2-53 2 23 2-173 3 214 2-129 2 315 2 52 2-392 2-6 3 136 2 41 2 9 2 121 2-310 3 124 2 23 2 19 2-93 2 77 2-32 3 268 2-233 2-232 2 378 2-53 3-141 2-8 2 48 2 314 2-295 2 237 3-49 2-190 2 119 2-153 2-325 3 333 2 9 2 227 2-34 2 60 2-73 3 80 2-59 2-62 2 112 2 60 2-7 3-252 2 56 2-133 2-2 2 195 3-140 2 296 2-519 2 153 2 198 2 133 3-214 2 314 2-151 2-213 2 95 3 80 2-201 2 279 2-184 2 110 2 49 3-182 2 204 2-403 2 347 2-358 3 431 2-237 2 253 2 20 2-209 2-72 3 273 2-342 2 277 2-129 2-34 2-30 3 334 2-476 2 148 2 138 2 84 3 93 2-46 2-265 2 123 2 111 2-85 3-291 2 264 2 36 2-270 2 124 3 58 2 91 2 131 2-53 2-96 2-37 3-80 2-27 2 45 2 1 2 171 3 160 2-228 2 60 2-42 2-53 2 135 3-19 2-141 2-30 2 107 2-161 2 100 3 112 2-149 2-257 2 357 2-257 3-30 2-17 2 324 2-396 2 264 2 52 3-4 2-116 2 76 2 31 2-204 3 279 2 43 2-257 2 12 2-56 2 301 3-301 2 82 2-180 2 419 2-206 3 68 2 181 2-123 2-259 2 221 2 34 3-223 2-19 2-1 2 246 2-103 2-154 3 234 2 11 2-221 2-104 2 377 3 200 2-161 2-63 2-123 2-107 2 105 3 76 2-121 2 154 2-129 2 82 3-465 2 258 2 229 2 21 2-80 2 167 3-129 2-1 2-228 2 181 2 49 2 75 3-24 2-157 2 19 2-189 2 244 3-237 2 110 2 35 2 278 2-102 2-285 3-93 2 164 2-79 2 162 2-7 3 39 2-230 2 87 2 79 2 11 2-125 3 31 2 159 2-357 2 202 2 33 3-206 2 61 2 154 2-89 2 222 2-61 3 224 2-487 2 433 2-361 2 209 2 19 3-110 2-66 2-50 2-163 2 196 3-75 2 206 2-185 2 77 2 85 2-52 3-6 2-36 2-30 2 126 2 31 3-208 2 340 2-151 2-304 2 593 2-282 3-193 2 325 2-593 2 722 2-562 3-17 2 88 2 158 2-81 2 174 2-239 3 269 2-119 2-178 2 294 2-105 2-74 3 209 2-350 2 115 2 258 2-205 3 101 2-16 2-103 2 110 2-234 2 233 3-235 2-313 2 330 2 195 2-5 3 91 2-241 2-50 2-165 2 116 2 145 3 65 2-83 2 58 2-208 2 73 3 249 2-20 2-287 2 149 2 75 2-197 3 220 2-14 2 25 2 210 2-394 2 290 3-89 2 25 2-204 2 111 2-11 3 237 2-222 2 195 2-249 2-8 2 55 3-287 2 212 2-9 2 64 2 47 3-161 2-18 2 336 2-328 2 76 2-62 3 70 2 239 2-9 2-417 2 220 2 233 3-245 2 100 2 207 2 63 2-95 3-260 2 45 2 29 2-74 2-43 2 378 3-250 2 74 2 57 2-95 2-58 3 21 2 167 2-135 2-348 2 429 2 89 3-273 2-43 2 19 2 222 2-295 3 250 2 49 2-72 2-69 2-114 2 14 3 91 2-132 2 119 2-112 2 322 2 24 3-327 2 304 2-151 2-28 2 56 3-4 2-256 2 548 2-475 2-196 2 318 3 7 2-103 2-152 2 422 2-177 3 40 2-103 2 57 2-68 2 152 2-64 3 102 2 1 2-72 2 2 2 145 3-381 2 240 2 176 2-345 2 260 2-174 3 75 2-36 2 13 2 106 2-84 2-276 3 597 2-319 2-50 2 209 2 46 3-491 2 355 2-340 2 217 2 65 2-54 3-21 2-74 2 105 2 42 2-3 3-162 2 76 2 255 2-49 2-134 2 135 3-33 2 82 2-95 2-94 2-78 3 139 2-287 2 301 2-454 2 307 2 72 3 140 2 326 2-371 2-46 2-242 2 462 3-457 2 302 2-134 2 456 2-372 3 68 2-142 2 83 2 173 2-290 2 36 3 15 2-57 2-12 2 158 2 187 3 5 2-380 2 90 2 86 2 76 2-64 3 2 2 51 2 52 2-399 2 271 3 117 2 98 2-79 2-201 2-5 2 137 3-37 2 51 2 112 2-335 2 130 2-293 3 451 2-86 2-142 2 158 2 159 3-61 2-146 2-34 2 61 2-153 2 1 3 93 2 42 2 38 2-112 2-52 3 119 2-54 2 107 2 151 2-57 2-247 3 43 2-160 2 214 2-114 2-64 2 45 3 223 2-60 2-45 2 155 2-205 3-77 2 209 2-343 2 315 2-14 2 4 3 65 2-158 2 55 2-230 2 146 3 8 2 105 2 165 2-186 2 105 2-253 3 135 2-238 2 128 2-16 2 83 3 1 2-64 2-40 2 226 2-170 2-300 3 376 2 21 2 59 2 103 2-371 2 155 3-36 2-218 2-95 2 472 2-274 3 58 2 29 2-14 2 67 2-227 2 134 3 35 2-128 2 46 2 59 2 16 3-202 2 172 2 81 2 105 2-74 2 95 3-164 2-23 2 319 2-291 2-90 3 64 2 154 2-313 2 272 2 72 2-24 3-151 2-142 2-28 2 131 2 193 2-77 3 31 2-103 2 220 2-265 2-77 3 109 2-88 2 193 2 70 2-116 2-253 3 16 2 205 2-233 2 211 2-258 3 141 2 129 2-176 2 217 2 21 2 70 3-241 2 42 2 1 2 45 2-260 3 258 2 40 2-276 2-26 2 149 2-295 3 422 2-171 2 82 2-216 2 405 2-287 3 181 2-274 2 193 2-156 2-157 3 494 2-44" class="bl b3"/><path transform="scale(0.1)" d="M5118 5942l2 11 2 0 3-2 2 6 2-2 2-1 2-12 2 1 3 12 2-12 2 12 2-3 2-3 3 4 2-14 2 15 2 11 2-17 2 12 3 0 2 19 2-28 2 2 2 0 2-1 3-4 2 12 2-6 2 12 2-2 3-10 2 5 2 13 2-12 2 4 2 5 3-8 2 6 2 8 2-2 2-20 3 23 2-12 2-2 2 0 2 14 2-6 3-3 2-4 2 10 2 4 2-15 3 0 2 5 2 8 2-7 2 2 2-4 3 15 2-10 2 3 2 7 2-9 2 2 3 3 2-5 2 13 2-9 2-3 3 1 2-5 2 17 2 2 2-12 2-1 3-11 2 11 2 11 2-11 2 11 3 5 2-28 2 17 2-3 2 2 2-8 3 11 2-6 2 16 2 3 2-19 2 0 3 7 2 3 2 1 2 6 2-15 3 7 2 1 2 2 2-5 2 5 2-1 3 14 2-12 2-11 2 20 2-2 3-7 2 0 2 3 2 16 2-14 2 13 3-2 2-9 2 7 2-7 2-16 3 18 2 1 2 12 2-1 2 4 2-2 3 5 2-3 2-2 2 7 2 4 2 0 3-11 2 4 2-6 2 1 2 10 3-6 2 16 2-25 2 9 2 11 2 7 3-10 2 17 2-7 2-9 2 5 3 5 2-9 2 15 2-9 2 6 2 4 3-9 2 11 2-20 2 18 2-17 3 22 2-11 2 13 2 1 2-10 2-3 3 14 2-17 2 14 2-6 2-2 2-1 3 17 2-24 2 8 2 7 2 4 3 5 2-2 2-13 2 7 2 5 2-4 3-14 2 13 2 2 2-13 2 7 3 3 2 4 2 7 2-2 2-5 2-2 3-3 2-2 2 3 2 0 2 9 3 8 2-11 2 3 2-2 2-3 2 7 3-1 2-7 2-1 2 6 2-8 2 5 3 5 2-7 2-13 2 18 2-13 3-1 2-1 2 16 2-20 2 14 2 2 3 0 2-6 2 4 2 2 2-11 3 14 2 2 2-13 2 1 2-3 2 15 3-15 2 4 2-9 2 20 2-10 3 3 2 9 2-6 2-14 2 11 2 2 3-12 2-1 2 0 2 12 2-6 2-8 3 12 2 0 2-11 2-6 2 19 3 9 2-8 2-4 2-6 2-6 2 5 3 3 2-6 2 7 2-7 2 4 3-24 2 13 2 11 2 1 2-5 2 8 3-7 2 0 2-12 2 8 2 2 2 4 3-2 2-9 2 1 2-11 2 12 3-13 2 5 2 0 2 13 2-6 2-15 3-6 2 7 2-5 2 7 2-2 3 1 2-13 2 3 2 3 2-1 2-8 3 1 2 6 2-19 2 8 2 1 3-12 2 1 2 6 2-5 2 9 2-4 3 9 2-26 2 20 2-19 2 9 2-1 3-7 2-5 2-4 2-9 2 8 3-5 2 9 2-11 2 2 2 3 2-5 3-2 2-4 2-4 2 4 2 0 3-13 2 15 2-10 2-17 2 27 2-16 3-12 2 15 2-32 2 34 2-29 3-3 2 3 2 7 2-5 2 8 2-13 3 13 2-6 2-9 2 15 2-5 2-3 3 12 2-16 2 7 2 15 2-9 3 7 2 1 2-3 2 8 2-10 2 14 3-10 2 10 2-5 2 12 2 1 3 7 2-11 2-1 2-7 2 6 2 8 3 4 2-4 2 3 2-10 2 4 3 13 2-1 2-14 2 7 2 4 2-9 3 11 2-1 2 2 2 11 2-20 2 15 3-5 2 2 2-10 2 5 2 0 3 12 2-11 2 10 2-13 2 0 2 3 3-14 2 10 2 0 2 3 2 3 3-8 2-1 2 17 2-17 2 4 2-3 3 4 2 12 2-1 2-20 2 11 2 12 3-13 2 6 2 10 2 3 2-4 3-13 2 2 2 2 2-4 2-2 2 19 3-12 2 4 2 3 2-4 2-3 3 1 2 9 2-6 2-17 2 21 2 5 3-13 2-1 2 1 2 12 2-14 3 14 2 3 2-3 2-2 2-5 2 2 3 5 2-5 2 7 2-5 2 17 2 3 3-15 2 16 2-7 2 0 2 4 3 1 2-11 2 28 2-22 2-9 2 17 3 2 2-4 2-7 2 23 2-8 3 3 2-4 2 4 2-3 2 9 2-2 3 6 2 1 2-3 2 1 2 8 3-18 2 13 2 9 2-17 2 14 2-8 3 4 2-1 2 1 2 6 2-4 2-13 3 30 2-15 2-2 2 10 2 3 3-24 2 18 2-16 2 11 2 4 2-2 3-1 2-3 2 5 2 3 2 0 3-8 2 5 2 13 2-2 2-7 2 7 3-1 2 5 2-5 2-4 2-4 3 8 2-15 2 16 2-23 2 16 2 4 3 7 2 17 2-19 2-2 2-12 2 24 3-23 2 15 2-6 2 23 2-19 3 4 2-7 2 4 2 9 2-15 2 2 3 1 2-3 2 0 2 8 2 9 3 0 2-18 2 4 2 4 2 4 2-3 3 0 2 3 2 3 2-20 2 13 3 6 2 5 2-4 2-10 2 0 2 7 3-2 2 3 2 5 2-16 2 6 2-14 3 22 2-4 2-7 2 8 2 8 3-3 2-7 2-2 2 3 2-7 2 0 3 5 2 2 2 2 2-6 2-2 3 6 2-3 2 5 2 8 2-3 2-12 3 2 2-8 2 11 2-6 2-3 2 2 3 12 2-3 2-2 2 7 2-10 3-4 2 11 2-17 2 16 2-1 2 0 3 3 2-8 2 2 2-12 2 6 3 0 2 5 2 7 2-10 2 4 2-14 3 6 2-13 2 5 2-2 2 3 3-2 2-4 2-4 2 10 2-10 2-16 3 17 2 0 2 1 2 4 2-20 2 6 3-3 2-13 2-6 2 22 2-15 3 1 2 0 2-2 2 2 2-12 2 5 3 1 2-8 2 2 2 1 2 0 3-11 2 7 2 3 2 4 2-5 2 4 3-10 2-2 2 15 2-16 2-6 3 2 2 6 2-16 2 12 2 2 2-2 3-9 2-9 2-2 2 5 2 9 2-6 3 1 2-7 2 10 2-14 2-5 3 4 2-6 2 9 2 2 2-6 2-14 3 0 2 9 2-13 2 10 2-14 3 6 2 6 2-10 2 10 2 1 2 3 3-13 2 2 2-1 2 2 2-14 3 13 2 2 2-14 2-2 2 7 2 14 3-8 2-9 2 4 2-11 2 21 2-15 3 9 2-14 2 10 2-8 2 11 3 5 2-2" class="yl yC3"/><text x="33.1" y="680.6" class="yt" text-anchor="middle">0</text><text x="38.1" y="635.6" class="yt" text-anchor="end">0.1</text><text x="38.1" y="590.6" class="yt" text-anchor="end">0.2</text><text x="38.1" y="545.6" class="yt" text-anchor="end">0.3</text><text transform="translate(13.6,599.0) rotate(-90) scale(1,1.1)" class="at ay" text-anchor="middle">Incidence per 100,000 per day</text><text transform="translate(353.1,705.4) scale(1,1.1)" class="at" text-anchor="middle">Year and month</text><text transform="translate(3.6,725.5) scale(1,1.04)" class="tt">D) Random forest</text><text transform="translate(190.7,737.6) scale(1,1.1)" class="pt" text-anchor="middle">Training dataset</text><text transform="translate(424.8,731.6) scale(1,1.1)" class="pt" text-anchor="middle">Testing dataset</text><text transform="translate(424.8,743.6) scale(1,1.1)" class="pt" text-anchor="middle">internal place</text><text transform="translate(592.7,731.6) scale(1,1.1)" class="pt" text-anchor="middle">Testing dataset</text><text transform="translate(592.7,743.6) scale(1,1.1)" class="pt" text-anchor="middle">external place</text><rect x="43.0" y="746.0" width="290.3" height="10.6" fill="#8fd5eb"/><text x="72.0" y="754.8" class="st" text-anchor="middle">2013</text><text x="132.0" y="754.8" class="st" text-anchor="middle">2014</text><text x="189.8" y="754.8" class="st" text-anchor="middle">2015</text><text x="245.4" y="754.8" class="st" text-anchor="middle">2016</text><text x="304.7" y="754.8" class="st" text-anchor="middle">2017</text><rect x="43.0" y="756.6" width="290.3" height="164.9" fill="#ebebeb"/><line x1="43.0" x2="333.3" y1="891.9" y2="891.9" class="hm"/><line x1="43.0" x2="333.3" y1="846.8" y2="846.8" class="hm"/><line x1="43.0" x2="333.3" y1="801.6" y2="801.6" class="hm"/><line x1="43.0" x2="333.3" y1="914.5" y2="914.5" class="hM"/><line x1="43.0" x2="333.3" y1="869.3" y2="869.3" class="hM"/><line x1="43.0" x2="333.3" y1="824.2" y2="824.2" class="hM"/><line x1="43.0" x2="333.3" y1="779.0" y2="779.0" class="hM"/><line x1="101.5" x2="101.5" y1="756.6" y2="921.5" class="vM"/><line x1="159.5" x2="159.5" y1="756.6" y2="921.5" class="vM"/><line x1="216.5" x2="216.5" y1="756.6" y2="921.5" class="vM"/><line x1="274.5" x2="274.5" y1="756.6" y2="921.5" class="vM"/><line x1="331.5" x2="331.5" y1="756.6" y2="921.5" class="vM"/><line x1="44.0" x2="44.0" y1="921.5" y2="922.8" class="tk"/><line x1="101.5" x2="101.5" y1="921.5" y2="922.8" class="tk"/><line x1="159.0" x2="159.0" y1="921.5" y2="922.8" class="tk"/><line x1="216.6" x2="216.6" y1="921.5" y2="922.8" class="tk"/><line x1="274.1" x2="274.1" y1="921.5" y2="922.8" class="tk"/><line x1="331.6" x2="331.6" y1="921.5" y2="922.8" class="tk"/><text x="44.0" y="930.4" class="jl" text-anchor="middle">Jan</text><text x="101.5" y="930.4" class="jl" text-anchor="middle">Jan</text><text x="159.0" y="930.4" class="jl" text-anchor="middle">Jan</text><text x="216.6" y="930.4" class="jl" text-anchor="middle">Jan</text><text x="274.1" y="930.4" class="jl" text-anchor="middle">Jan</text><path transform="scale(0.1)" d="M440 8390l2-26 1 50 2 55 1-38 2 47 1-92 2-113 2 162 1 11 2-98 1 12 2 23 1 91 2-79 2-64 1 180 2-78 1 127 2-53 1 48 2-141 2 91 1-135 2 10 1 30 2 206 2-174 1-43 2-14 1 144 2-92 1 44 2-15 2-164 1 165 2-68 1-81 2 130 1-42 2-19 2 4 1 114 2-115 1-112 2 256 1-212 2 66 2 67 1-233 2 110 1 173 2-112 1-44 2 68 2-77 1 67 2-65 1-67 2 186 1-76 2 59 2-52 1 117 2-53 1-33 2-96 2-20 1 218 2-46 1-126 2 234 1-134 2-31 2-118 1 51 2 91 1 4 2-9 1-155 2 173 2-9 1-57 2 43 1 8 2 82 1-95 2 39 2-140 1 46 2 61 1-59 2 90 1-121 2 94 2-50 1 167 2-143 1 180 2 32 1-151 2 54 2-92 1-182 2 272 1-17 2-71 2-25 1 61 2 4 1-79 2 17 1 138 2-83 2-9 1 97 2-114 1 99 2-160 1 69 2 10 2 61 1-41 2 167 1-76 2-131 1 220 2-261 2 229 1-220 2 142 1-143 2 58 1 148 2-245 2-16 1 133 2 19 1-10 2 73 1-182 2 145 2-43 1 66 2-14 1 58 2-223 1 125 2-98 2 84 1 63 2-32 1 21 2-49 2 34 1-6 2 95 1-50 2-216 1 205 2 34 2-122 1-93 2 252 1-109 2 38 1 99 2-219 2 67 1-8 2 73 1-106 2 88 1-34 2 85 2 10 1-224 2 162 1-70 2 29 1 37 2 6 2-100 1 82 2-13 1-14 2-102 1 44 2 27 2 83 1 73 2-205 1-1 2 97 2-59 1-21 2-4 1-8 2 122 1-174 2 244 2-185 1 32 2-33 1-88 2 35 1 232 2 48 2-220 1 161 2-88 1-74 2 219 1 41 2-208 2 19 1 26 2-25 1 79 2 58 1-118 2 71 2 59 1-189 2 50 1-41 2 123 1-28 2 30 2-10 1-95 2 86 1-100 2 2 2-149 1 302 2-201 1 86 2-7 1 127 2-87 2-106 1 73 2-15 1 33 2-127 1 103 2 192 2-133 1 112 2 52 1-179 2-165 1 113 2 107 2-21 1-183 2 85 1 9 2 8 1-9 2-68 2 21 1 29 2 110 1-138 2 105 1-158 2 207 2-101 1-12 2 115 1-270 2 22 1 169 2-110 2 33 1 258 2-249 1 26 2-14 2 101 1-72 2-9 1-122 2 74 1 29 2-137 2 183 1-16 2 124 1-299 2 52 1 3 2 21 2 48 1-11 2 40 1-6 2-24 1-130 2 82 2 53 1 44 2 3 1-199 2 95 1 37 2 34 2 65 1-93 2-85 1 109 2-16 1-3 2-31 2 148 1-122 2 53 1-155 2 143 2-120 1-86 2 160 1 23 2-72 1 15 2 86 2-131 1-138 2 198 1-7 2 72 1-122 2 136 2-14 1-212 2 190 1-177 2-42 1 110 2-29 2-125 1 186 2 33 1 64 2-125 1-129 2 43 2 165 1-10 2-33 1-73 2 42 1-39 2-10 2 51 1-25 2-24 1 24 2-53 2-122 1 111 2 46 1 153 2-184 1 205 2-48 2-199 1 13 2 75 1 137 2-117 1 27 2-116 2-142 1 180 2 88 1 35 2-98 1 12 2 86 2-111 1 112 2-198 1 5 2-2 1 139 2-87 2 58 1 23 2-3 1 85 2 14 1-196 2 87 2-35 1-68 2 242 1-83 2-84 1-18 2 69 2-123 1 72 2 127 1-24 2-152 2 31 1 209 2-285 1 67 2-65 1 153 2-6 2 74 1-321 2 240 1-154 2 198 1-71 2 163 2-112 1-119 2 198 1-203 2 66 1 123 2-47 2-2 1-35 2 44 1 27 2-44 1 65 2 24 2-108 1-80 2 213 1-133 2 59 1 30 2-160 2 122 1-176 2 202 1-102 2 55 2 48 1-117 2 67 1-66 2 59 1 92 2-85 2-13 1-79 2 166 1-76 2 149 1-208 2 154 2 65 1-153 2-102 1 233 2-38 1-29 2 35 2-132 1 105 2-6 1-114 2 119 1-104 2 125 2 22 1 56 2-325 1 193 2-49 1 25 2-15 2 10 1-163 2 261 1 46 2-47 2 29 1-182 2-6 1 158 2 39 1-91 2-153 2 349 1-271 2 142 1-186 2 187 1-69 2 108 2-46 1-207 2 50 1 109 2 41 1 91 2-132 2-31 1 5 2 1 1 91 2-92 1-2 2-117 2-51 1 177 2 56 1-62 2 49 1 12 2-60 2 87 1-145 2 62 1-31 2 39 2 48 1 20 2-63 1 28 2-69 1 21 2 120 2-126 1 125 2-64 1-28 2 157 1-191 2-5 2 27 1 24 2-4 1 53 2-62 1 25 2-57 2 115 1-127 2 8 1 26 2 26 1-87 2 195 2-187 1 19 2-3 1-9 2 92 1-35 2-78 2 18 1 20 2 152 1-181 2-55 1 14 2 68 2 158 1-220 2 97 1 210 2-256 2 165 1-17 2-58 1-168 2 145 1-56 2-130 2 14 1 150 2 12 1 90 2-49 1-99 2 3 2 26 1-78 2 156 1-63 2-69 1 14 2-43 2 60 1 62 2-59 1 121 2 56 1-195 2 56 2-32 1 177 2-117 1 21 2 24 1 122 2-169 2-108 1 46 2 86 1-51 2-68 2 292 1-214 2-59 1-12 2-90 1 50 2 72 2 1 1-44 2 117 1-45 2-84 1-94 2 186 2-11 1-23 2-103 1 120 2-134 1 213 2-70 2-1 1-89 2-25 1 223 2-54 1-112 2 85 2 74 1-228 2 46 1-2 2 83 1-135 2 109 2-120 1 174 2-7 1-96 2 78 2-124 1 34 2 102 1-90 2 35 1-114 2 135 2-20 1-147 2-93 1 20 2 168 1-15 2-118 2 144 1 74 2-98 1-32 2 111 1 70 2-20 2-187 1 123 2-56 1-33 2-38 1 82 2-75 2 120 1-49 2 57 1-192 2 100 1 60 2-36 2-14 1-83 2 200 1-51 2-60 1-259 2 137 2 92 1-75 2-120 1 200 2 9 2-141 1 62 2-18 1 102 2-216 1 17 2 99 2-12 1 237 2-237 1 72 2-57 1-24 2 89 2 117 1-182 2 96 1-38 2 23 1-24 2 172 2-312 1 84 2-77 1-77 2 172 1 159 2-80 2 27 1-63 2-52 1 183 2-207 1 163 2-159 2 36 1 18 2-22 1 42 2 6 2 95 1-146 2-165 1-11 2 58 1 55 2 122 2-186 1 132 2 2 1 20 2-33 1 47 2-30 2 88 1-61 2-233 1 207 2 16 1-67 2-15 2 162 1-79 2-99 1 58 2 14 1-125 2 198 2-66 1 54 2-176 1 304 2-112 1-11 2-104 2 6 1-69 2 263 1-204 2 93 2 34 1-105 2 130 1 103 2-150 1 101 2-74 2-89 1 7 2-112 1 159 2 118 1-67 2 15 2 28 1-145 2 96 1 119 2-234 1 72 2-40 2 23 1-45 2 54 1-104 2 73 1 4 2 0 2 166 1-112 2 9 1-39 2 139 1-262 2 137 2 117 1 45 2-124 1-15 2 57 1-70 2 66 2-103 1 114 2-59 1-88 2-139 2 317 1-46 2 34 1-141 2 171 1-57 2-38 2 85 1-1 2-41 1 144 2-56 1-90 2-48 2 31 1 141 2-114 1-110 2 22 1 57 2 72 2-133 1 108 2 53 1-32 2-197 1 109 2-82 2 146 1-124 2 136 1-38 2-232 1 152 2 113 2-36 1-36 2-77 1 151 2 111 2-128 1-25 2-8 1-105 2 89 1-43 2 169 2-173 1-107 2 117 1 46 2 10 1-143 2 240 2-72 1-49 2-25 1 105 2-65 1 52 2-34 2 23 1 89 2-98 1-78 2 163 1-64 2-79 2 153 1-110 2 110 1-192 2-104 1 26 2 198 2-84 1 55 2 2 1-127 2 253 2-208 1 97 2-128 1 109 2 76 1-84 2-39 2 62 1-40 2 90 1 142 2-267 1 18 2 49 2 8 1-85 2 132 1 22 2-45 1-121 2 228 2-227 1 162 2 41 1-208 2 120 1 106 2-82 2-114 1-22 2 143 1-73 2-27 1 120 2-88 2 35 1 44 2-3 1-49 2 3 1 53 2-12 2-136 1 80 2-59 1-28 2 54 2-148 1 273 2-144 1 100 2-192 1 14 2 322 2-87 1-144 2-11 1 5 2 71 1-47 2-18 2 64 1-97 2 289 1-256 2 147 1-176 2 103 2 58 1-112 2 112 1 0 2 56 1-136 2-47 2-48 1 102 2-106 1 89 2 9 1-60 2-44 2 122 1-10 2-8 1-23 2 85 2-171 1 124 2-77 1 112 2-106 1-4 2 70 2-217 1 144 2-125 1 70 2 142 1-27 2-73 2 31 1 0 2 28 1 132 2-141 1 174 2-229 2 95 1-2 2-45 1-45 2 148 1 27 2-62 2 84 1-97 2-227 1 231 2-153 1 176 2-149 2 52 1-25 2-58 1-107 2 135 2 3 1 94 2-140 1 70 2-97 1 74 2-160 2 325 1-151 2-107 1 106 2 35 1-49 2 95 2-135 1-207 2 111 1 196 2-24 1-44 2-127 2 158 1-14 2-142 1-1 2 106 1 63 2 36 2-78 1 133 2-265 1 119 2-100 1-125 2 59 2 203 1-180 2-27 1 166 2 16 1-76 2 130 2-272 1 340 2-116 1-75 2-4 2-36 1-10 2 42 1-119 2 288 1-189 2 63 2-75 1-7 2 99 1-23 2-127 1 40 2 90 2-239 1-24 2 333 1-156 2-194 1 152 2 50 2 38 1 30 2-29 1 30 2-114 1 101 2 4 2 68 1-101 2 74 1-62 2-107 1 59 2-11 2 13 1 27 2 16 1 17 2-94 2 163 1-213 2 115 1 70 2-23 1 17 2-73 2 78 1-164 2 170 1 132 2-135 1 113 2-172 2-96 1 37 2 175 1-49 2-223 1 130 2 28 2-91 1-122 2 103 1 103 2-17 1-22 2 109 2 41 1-96 2 89 1-77 2-12 1-196 2 282 2-63 1 6 2-52 1-52 2 137 2 30 1 74 2-61 1-128 2 45 1 95 2-56 2-34 1-40 2 98 1-29 2 139 1-57 2-243 2 337 1-162 2-48 1 53 2 39 1-65 2-4 2 8 1 159 2-152 1 63 2-26 1-68 2-35 2-22 1 123 2-124 1-22 2 4 1-21 2 136 2 3 1-88 2 194 1-138 2 65 1-13 2 121 2-74 1-76 2-80 1-8 2 95 2 10 1 57 2-108 1 58 2-75 1-100 2 157 2 130 1-56 2 54 1-23 2-220 1 96 2 154 2-191 1-53 2 143 1 28 2-29 1-54 2-31 2-48 1-2 2 3 1-15 2 62 1 193 2-122 2-39 1 61 2-113 1 112 2 50 1-208 2 69 2 39 1-62 2-11 1 64 2 246 2-156 1-19 2 46 1-103 2-88 1 148 2 58 2-279 1 219 2 69 1-129 2-17 1 100 2-131 2 113 1 38 2-97 1-52 2 124 1-84 2 37 2-257 1 312 2-184 1 127 2 6 1-74 2-15 2-33 1 83 2 82 1-5 2-92 1-6 2-72 2 86 1-56 2-40 1 119 2 146 2-27 1 23 2-267 1 215 2-183 1 57 2-99 2 63 1 97 2 9 1-25 2-8 1 63 2-44 2-145 1 292 2-172 1 102 2-96 1-57 2 79 2-73 1 208 2-237 1 150 2-108 1 39 2 242 2-159 1-86 2-117 1 111 2 3 1 147 2-250 2-34 1 157 2 22 1 123 2-221 1-160 2 174 2-48 1 63 2 134 1-205 2 226 2-91 1-44 2-54 1 40 2 2 1 100 2 45 2-120 1 67 2 52 1-5 2-70 1 119 2-46 2 24 1-162 2-21 1-142 2 307 1-74 2-142 2 98 1 8 2-181 1 179 2 70 1 12 2-147 2 1 1 146 2-36 1-136 2-5 1 105 2-113 2 3 1 205 2-131 1-66 2 85 2 136 1-166 2-93 1-75 2 331 1-425 2 327 2-185 1-27 2 21 1 71 2 114 1-159 2 116 2 157 1-473 2 185 1-99 2 239 1-212 2-12 2 1 1 137 2 102 1-92 2 176 1-46 2-161 2 94 1-76 2-7 1-182 2 53 1 116 2-113 2 173 1-42 2-112 1 187 2-88 2 89 1-129 2-136 1 207 2-89 1 96 2 20 2 5 1-240 2-83 1 163 2 103 1-128 2 89 2-102 1 42 2-2 1-31 2 102 1-18 2 114 2-115 1 84 2-115 1 69 2-95 1-33 2 163 2-56 1 10 2-151 1-86 2 74 1 104 2-162 2 261 1-266 2 188 1 167 2-460 2 93 1 229 2-106 1 33 2-29 1 140 2-71 2-102 1 22 2-86 1 98 2-199 1 270 2-86 2 192 1-58 2-228 1 201 2-130 1 53 2 87 2-61 1 15 2-2 1-109 2 9 1 109 2 30 2-104 1 34 2-99 1-143 2 161 1 78 2 12 2 61 1 5 2 10 1-53 2 3 1-102 2 101 2-17 1 91 2-251 1 101 2-112 2 88 1-60 2 153 1-84 2-174 1 347 2-211 2-45 1 113 2-29 1-45 2 173 1-95 2 116 2-17 1-4 2-42 1-25 2-27 1 169 2-305 2 75 1 40 2 98 1-23 2-56 1 13 2 190 2-217 1-196 2 431 1-255 2 58 1 44 2-133 2 233 1-121 2-116 1 151 2 21 2-47 1 52 2-179 1 224 2-160 1 194 2-173 2 71 1 218 2-224 1 97 2-55 1-178 2 242 2-4 1-225 2 121 1-128 2 112 1 110 2-73 2-116 1 28 2 86 1-3 2 15 1 44 2-226 2 175 1 104 2-58 1-108 2 8 1 72 2 49 2-62 1 155 2-33 1-189 2 117 2-77 1-75 2 52 1 58 2-190 1 133 2 94 2-98 1 30 2 116 1-84 2 23 1 164 2-162 2 11 1 15 2 110 1-116 2-27 1-12 2 112 2-159 1 168 2-89 1-137 2 181 1-15 2-143 2 133 1-7 2-47 1-74 2 295 1-123 2 17 2 7 1-20 2-1 1-102 2 108 1-91 2-24 2 102 1-77 2-135 1 119 2 87 2-51 1 78 2-107 1-53 2 152 1-54 2-119 2 146 1-61 2 109 1-17 2-28 1-237 2 228 2 12 1 3 2-34 1-72 2 41 1-164 2 163 2-108 1 104 2-29 1 181 2-115 1-5 2 16 2 169 1-267 2 112 1 5 2-16 1-2 2-55 2 148 1-29 2-108 1 13 2 47 2 18 1 23 2-68 1-109 2 197 1-227 2 60 2 115 1-109 2 198 1 24 2-39 1-77 2-8 2 17 1-54 2 197 1-232 2 169 1-67 2-22 2 65 1 19 2-33 1-88 2-53 1 2 2 137 2-19 1 11 2-121 1 218 2-289 1 151 2 26 2-100 1-62 2 60 1-64 2 80 2-97 1-2 2 117 1-137 2 111 1 6 2 88 2-57 1-95 2 183 1-174 2 25 1 5 2 218 2-187 1-67 2 122 1-76 2 216 1-270 2 116 2-136 1 237 2-224 1 80 2-93 1 151 2-28 2-254 1 269 2-12 1-39 2 64 1-196 2-49 2 213 1 88 2-257 1 4 2 24 1-32 2 177 2-64 1 105 2 1 1-213 2 143 2-262 1 192 2 61 1-129 2-91 1 113 2 148 2-142 1-91 2 162 1 22 2-160 1 74 2 107 2-66 1 30 2-95 1 14 2-95 1 36 2 198 2-176 1-46 2 36 1-54 2 137 1 32 2-168 2 173 1 93 2-283 1 151 2-40 1 93 2-9 2-18 1-74 2-67 1 231 2-272 2 167 1-14 2-157 1 63 2 125 1-301 2 235 2-102 1 1 2-110 1 160 2-132 1 150 2-168 2 163 1-39 2-203 1 42 2 108 1-191 2 162 2 100 1-141 2-174 1 132 2-10 1 153 2 1" class="bl b1"/><path transform="scale(0.1)" d="M440 8322l2-10 1 21 2 23 1-15 2 20 1-36 2-45 2 66 1 5 2-38 1 5 2 10 1 37 2-31 2-25 1 73 2-31 1 52 2-21 1 20 2-55 2 37 1-54 2 5 1 13 2 83 2-69 1-17 2-4 1 58 2-36 1 18 2-5 2-65 1 67 2-27 1-31 2 52 1-16 2-7 2 3 1 46 2-45 1-44 2 103 1-84 2 27 2 27 1-92 2 45 1 70 2-44 1-17 2 28 2-30 1 27 2-25 1-26 2 75 1-30 2 24 2-20 1 48 2-21 1-12 2-38 2-8 1 88 2-17 1-50 2 94 1-53 2-12 2-47 1 21 2 37 1 3 2-3 1-62 2 70 2-3 1-22 2 17 1 4 2 33 1-37 2 16 2-56 1 19 2 25 1-23 2 36 1-48 2 39 2-20 1 67 2-57 1 73 2 13 1-60 2 22 2-37 1-72 2 109 1-6 2-28 2-10 1 25 2 2 1-31 2 7 1 55 2-32 2-4 1 40 2-46 1 40 2-63 1 28 2 4 2 25 1-16 2 67 1-29 2-52 1 88 2-104 2 93 1-88 2 58 1-57 2 24 1 60 2-98 2-6 1 54 2 8 1-3 2 30 1-73 2 59 2-16 1 27 2-6 1 24 2-88 1 50 2-39 2 35 1 25 2-12 1 9 2-19 2 14 1-2 2 39 1-20 2-86 1 83 2 14 2-49 1-37 2 102 1-44 2 16 1 40 2-87 2 27 1-3 2 29 1-42 2 36 1-14 2 34 2 5 1-90 2 65 1-28 2 12 1 15 2 2 2-40 1 33 2-5 1-6 2-41 1 18 2 11 2 33 1 29 2-82 1-1 2 40 2-24 1-9 2-1 1-3 2 48 1-69 2 97 2-74 1 13 2-13 1-35 2 13 1 93 2 19 2-88 1 65 2-35 1-30 2 87 1 17 2-84 2 8 1 10 2-10 1 32 2 23 1-47 2 28 2 24 1-76 2 20 1-16 2 49 1-11 2 12 2-4 1-38 2 34 1-40 2 1 2-60 1 121 2-81 1 35 2-3 1 51 2-35 2-42 1 29 2-6 1 13 2-51 1 42 2 77 2-54 1 45 2 21 1-71 2-66 1 45 2 43 2-8 1-73 2 34 1 4 2 3 1-3 2-27 2 8 1 12 2 44 1-55 2 41 1-63 2 83 2-40 1-5 2 46 1-108 2 8 1 68 2-45 2 14 1 103 2-100 1 10 2-6 2 41 1-30 2-4 1-48 2 29 1 11 2-55 2 73 1-7 2 49 1-120 2 21 1 1 2 7 2 19 1-5 2 16 1-3 2-10 1-52 2 33 2 20 1 18 2 1 1-80 2 38 1 14 2 14 2 26 1-38 2-34 1 43 2-7 1-2 2-13 2 59 1-50 2 21 1-63 2 56 2-49 1-35 2 63 1 8 2-30 1 5 2 33 2-53 1-57 2 78 1-4 2 27 1-50 2 53 2-7 1-87 2 75 1-72 2-18 1 42 2-12 2-52 1 74 2 12 1 24 2-51 1-53 2 16 2 65 1-5 2-15 1-30 2 15 1-18 2-6 2 18 1-12 2-11 1 7 2-24 2-51 1 41 2 16 1 59 2-76 1 79 2-22 2-82 1 3 2 28 1 53 2-49 1 9 2-48 2-58 1 71 2 35 1 14 2-40 1 5 2 34 2-44 1 45 2-80 1 2 2 0 1 55 2-34 2 23 1 9 2-1 1 35 2 5 1-78 2 36 2-14 1-27 2 97 1-33 2-33 1-6 2 28 2-49 1 30 2 51 1-9 2-60 2 13 1 84 2-113 1 27 2-25 1 62 2-2 2 30 1-128 2 97 1-61 2 79 1-27 2 66 2-45 1-47 2 80 1-81 2 27 1 50 2-18 2 0 1-14 2 19 1 11 2-17 1 26 2 10 2-42 1-32 2 86 1-53 2 25 1 12 2-63 2 50 1-70 2 82 1-40 2 23 2 20 1-46 2 28 1-25 2 24 1 38 2-33 2-4 1-30 2 67 1-29 2 61 1-82 2 63 2 27 1-60 2-40 1 95 2-14 1-11 2 15 2-51 1 43 2-2 1-44 2 49 1-41 2 51 2 10 1 23 2-128 1 78 2-19 1 11 2-5 2 5 1-64 2 105 1 19 2-18 2 12 1-72 2-2 1 64 2 16 1-35 2-61 2 141 1-108 2 58 1-74 2 76 1-27 2 44 2-18 1-82 2 21 1 44 2 18 1 37 2-52 2-12 1 3 2 2 1 37 2-36 1 0 2-46 2-19 1 71 2 24 1-24 2 20 1 6 2-23 2 35 1-57 2 26 1-12 2 16 2 20 1 9 2-24 1 12 2-27 1 9 2 49 2-50 1 50 2-25 1-10 2 63 1-76 2-1 2 11 1 10 2-1 1 22 2-25 1 11 2-23 2 46 1-50 2 3 1 11 2 10 1-34 2 78 2-75 1 8 2-1 1-4 2 37 1-14 2-32 2 7 1 8 2 61 1-73 2-22 1 6 2 27 2 63 1-88 2 38 1 84 2-103 2 66 1-7 2-23 1-67 2 57 1-22 2-53 2 6 1 59 2 5 1 36 2-20 1-40 2 1 2 10 1-32 2 63 1-26 2-28 1 5 2-17 2 23 1 25 2-24 1 48 2 22 1-78 2 22 2-13 1 70 2-47 1 8 2 9 1 49 2-68 2-44 1 18 2 34 1-21 2-27 2 117 1-87 2-23 1-6 2-36 1 20 2 28 2 0 1-17 2 46 1-18 2-33 1-38 2 75 2-5 1-9 2-41 1 48 2-54 1 85 2-28 2 0 1-36 2-10 1 89 2-23 1-45 2 34 2 29 1-91 2 17 1-1 2 33 1-55 2 43 2-48 1 69 2-4 1-39 2 31 2-50 1 13 2 40 1-37 2 13 1-46 2 53 2-8 1-60 2-38 1 7 2 67 1-7 2-48 2 57 1 29 2-40 1-13 2 44 1 27 2-9 2-75 1 49 2-24 1-14 2-15 1 32 2-31 2 47 1-20 2 22 1-77 2 39 1 23 2-15 2-6 1-34 2 79 1-21 2-25 1-104 2 54 2 37 1-31 2-49 1 79 2 4 2-58 1 24 2-7 1 40 2-87 1 6 2 39 2-6 1 94 2-95 1 28 2-23 1-10 2 34 2 47 1-74 2 38 1-16 2 9 1-11 2 69 2-126 1 33 2-31 1-32 2 68 1 64 2-33 2 10 1-26 2-22 1 73 2-84 1 64 2-65 2 14 1 6 2-10 1 16 2 2 2 36 1-59 2-67 1-6 2 23 1 20 2 48 2-75 1 52 2-1 1 8 2-15 1 18 2-13 2 35 1-26 2-94 1 83 2 5 1-27 2-7 2 64 1-32 2-40 1 23 2 5 1-50 2 79 2-27 1 22 2-70 1 122 2-45 1-4 2-40 2 3 1-27 2 106 1-80 2 38 2 15 1-41 2 54 1 42 2-58 1 42 2-28 2-34 1 4 2-43 1 65 2 49 1-25 2 8 2 12 1-56 2 40 1 49 2-92 1 30 2-14 2 11 1-17 2 22 1-40 2 30 1 3 2 0 2 68 1-45 2 5 1-15 2 57 1-104 2 55 2 48 1 19 2-49 1-6 2 24 1-27 2 27 2-41 1 47 2-23 1-35 2-54 2 127 1-18 2 15 1-56 2 70 1-23 2-14 2 34 1 1 2-16 1 59 2-22 1-35 2-19 2 13 1 57 2-45 1-43 2 10 1 23 2 30 2-53 1 44 2 22 1-12 2-79 1 45 2-33 2 59 1-49 2 55 1-15 2-92 1 61 2 45 2-14 1-14 2-30 1 60 2 45 2-51 1-10 2-2 1-42 2 35 1-16 2 68 2-69 1-43 2 47 1 19 2 4 1-57 2 96 2-28 1-19 2-10 1 42 2-25 1 21 2-14 2 9 1 37 2-39 1-32 2 66 1-25 2-32 2 62 1-44 2 44 1-77 2-41 1 10 2 80 2-34 1 22 2 1 1-50 2 101 2-84 1 40 2-52 1 44 2 30 1-33 2-16 2 24 1-15 2 35 1 57 2-107 1 7 2 20 2 3 1-35 2 53 1 9 2-18 1-49 2 91 2-91 1 64 2 17 1-83 2 47 1 43 2-33 2-46 1-9 2 57 1-29 2-11 1 48 2-36 2 14 1 18 2-2 1-19 2 1 1 21 2-5 2-54 1 31 2-23 1-11 2 21 2-59 1 109 2-58 1 40 2-76 1 5 2 129 2-35 1-57 2-5 1 2 2 28 1-18 2-7 2 26 1-39 2 116 1-102 2 58 1-70 2 41 2 23 1-44 2 45 1-1 2 23 1-55 2-19 2-19 1 41 2-43 1 36 2 3 1-24 2-18 2 48 1-4 2-4 1-9 2 34 2-69 1 49 2-31 1 44 2-43 1-2 2 28 2-88 1 57 2-50 1 27 2 56 1-11 2-30 2 12 1-1 2 11 1 52 2-57 1 69 2-92 2 37 1-2 2-18 1-19 2 59 1 10 2-26 2 33 1-39 2-91 1 92 2-62 1 70 2-60 2 20 1-10 2-23 1-44 2 54 2 1 1 38 2-56 1 28 2-39 1 29 2-64 2 130 1-60 2-43 1 42 2 14 1-20 2 38 2-55 1-83 2 44 1 78 2-10 1-19 2-51 2 62 1-6 2-57 1-1 2 41 1 25 2 13 2-32 1 52 2-107 1 47 2-41 1-51 2 23 2 80 1-73 2-12 1 65 2 5 1-31 2 51 2-110 1 134 2-47 1-31 2-4 2-15 1-5 2 15 1-49 2 114 1-77 2 24 2-31 1-5 2 39 1-11 2-52 1 15 2 35 2-97 1-10 2 132 1-63 2-79 1 60 2 19 2 15 1 11 2-12 1 12 2-46 1 40 2 2 2 27 1-41 2 30 1-25 2-43 1 24 2-5 2 6 1 11 2 6 1 7 2-37 2 65 1-85 2 47 1 28 2-9 1 7 2-29 2 32 1-65 2 69 1 53 2-54 1 46 2-69 2-38 1 15 2 71 1-20 2-88 1 52 2 12 2-36 1-49 2 42 1 41 2-7 1-8 2 44 2 17 1-39 2 37 1-31 2-5 1-78 2 114 2-25 1 2 2-20 1-21 2 55 2 12 1 30 2-24 1-51 2 18 1 38 2-22 2-13 1-16 2 39 1-11 2 56 1-23 2-97 2 134 1-64 2-19 1 21 2 16 1-26 2-1 2 3 1 64 2-60 1 25 2-10 1-27 2-14 2-8 1 49 2-49 1-8 2 2 1-9 2 55 2 2 1-35 2 78 1-55 2 27 1-5 2 49 2-30 1-30 2-31 1-3 2 38 2 4 1 24 2-43 1 23 2-29 1-40 2 63 2 52 1-21 2 21 1-9 2-87 1 38 2 62 2-76 1-21 2 58 1 11 2-11 1-22 2-12 2-19 1 0 2 1 1-6 2 25 1 78 2-49 2-16 1 25 2-45 1 45 2 20 1-84 2 28 2 16 1-25 2-5 1 26 2 98 2-63 1-7 2 18 1-41 2-35 1 59 2 23 2-112 1 87 2 28 1-52 2-6 1 39 2-52 2 45 1 15 2-39 1-21 2 50 1-34 2 15 2-103 1 125 2-74 1 50 2 3 1-30 2-6 2-13 1 33 2 33 1-2 2-37 1-3 2-29 2 35 1-23 2-16 1 48 2 58 2-11 1 9 2-106 1 85 2-73 1 23 2-40 2 25 1 39 2 4 1-10 2-4 1 25 2-17 2-58 1 117 2-70 1 42 2-39 1-23 2 32 2-30 1 84 2-95 1 60 2-43 1 15 2 97 2-64 1-34 2-47 1 44 2 1 1 59 2-100 2-14 1 63 2 9 1 49 2-89 1-64 2 70 2-20 1 25 2 54 1-83 2 91 2-37 1-17 2-22 1 16 2 0 1 40 2 18 2-48 1 27 2 20 1-2 2-28 1 48 2-19 2 10 1-65 2-8 1-57 2 122 1-29 2-57 2 39 1 3 2-72 1 71 2 28 1 5 2-59 2 0 1 59 2-15 1-54 2-3 1 42 2-45 2 1 1 82 2-53 1-26 2 34 2 54 1-66 2-38 1-30 2 132 1-170 2 131 2-75 1-10 2 8 1 28 2 45 1-64 2 46 2 63 1-190 2 74 1-41 2 95 1-85 2-6 2 0 1 54 2 40 1-38 2 70 1-20 2-65 2 37 1-32 2-3 1-74 2 20 1 45 2-46 2 68 1-17 2-46 1 73 2-36 2 35 1-53 2-56 1 82 2-36 1 37 2 7 2 1 1-97 2-35 1 64 2 40 1-52 2 35 2-43 1 16 2-2 1-14 2 39 1-9 2 43 2-48 1 31 2-48 1 25 2-40 1-16 2 62 2-25 1 2 2-64 1-37 2 27 1 39 2-68 2 102 1-109 2 72 1 64 2-186 2 35 1 89 2-45 1 11 2-14 1 54 2-30 2-43 1 7 2-36 1 38 2-81 1 107 2-35 2 77 1-24 2-91 1 80 2-51 1 20 2 35 2-24 1 6 2-1 1-43 2 4 1 43 2 12 2-41 1 14 2-40 1-57 2 65 1 31 2 5 2 25 1 2 2 4 1-20 2 1 1-40 2 41 2-7 1 37 2-100 1 40 2-44 2 36 1-24 2 62 1-33 2-70 1 139 2-83 2-18 1 46 2-11 1-18 2 70 1-38 2 47 2-6 1-1 2-17 1-9 2-10 1 68 2-122 2 31 1 16 2 40 1-9 2-22 1 6 2 76 2-86 1-78 2 174 1-102 2 24 1 19 2-53 2 94 1-47 2-46 1 61 2 10 2-18 1 22 2-71 1 91 2-63 1 78 2-68 2 30 1 88 2-88 1 40 2-21 1-70 2 98 2 0 1-89 2 50 1-50 2 46 1 45 2-28 2-45 1 12 2 36 1 0 2 7 1 19 2-89 2 71 1 43 2-22 1-42 2 5 1 29 2 21 2-23 1 62 2-12 1-74 2 47 2-29 1-29 2 22 1 24 2-76 1 54 2 39 2-39 1 13 2 47 1-33 2 9 1 66 2-64 2 5 1 6 2 45 1-46 2-11 1-4 2 45 2-63 1 67 2-35 1-54 2 73 1-6 2-57 2 53 1-2 2-18 1-29 2 118 1-49 2 7 2 3 1-7 2 0 1-41 2 44 1-36 2-10 2 42 1-31 2-53 1 48 2 35 2-20 1 31 2-42 1-21 2 61 1-22 2-47 2 59 1-24 2 44 1-7 2-11 1-95 2 92 2 4 1 2 2-14 1-28 2 17 1-66 2 65 2-43 1 42 2-12 1 73 2-47 1-1 2 6 2 67 1-106 2 44 1 2 2-6 1-1 2-22 2 59 1-12 2-43 1 5 2 18 2 7 1 9 2-27 1-44 2 79 1-91 2 24 2 46 1-44 2 79 1 9 2-15 1-31 2-3 2 6 1-21 2 78 1-93 2 68 1-27 2-9 2 26 1 8 2-13 1-36 2-21 1 1 2 55 2-8 1 5 2-49 1 88 2-116 1 61 2 10 2-40 1-24 2 24 1-25 2 32 2-39 1-1 2 47 1-54 2 45 1 2 2 36 2-23 1-38 2 74 1-70 2 11 1 2 2 87 2-74 1-27 2 50 1-31 2 87 1-108 2 47 2-54 1 95 2-90 1 33 2-37 1 60 2-11 2-101 1 108 2-5 1-16 2 26 1-79 2-19 2 84 1 36 2-103 1 1 2 9 1-13 2 70 2-25 1 41 2 0 1-86 2 57 2-105 1 76 2 24 1-52 2-37 1 45 2 58 2-58 1-37 2 64 1 8 2-65 1 29 2 42 2-27 1 11 2-39 1 5 2-39 1 13 2 78 2-71 1-20 2 13 1-22 2 53 1 12 2-69 2 68 1 36 2-115 1 59 2-17 1 36 2-5 2-9 1-32 2-30 1 90 2-113 2 63 1-9 2-68 1 21 2 45 1-125 2 88 2-45 1-5 2-49 1 59 2-58 1 55 2-72 2 60 1-20 2-86 1 50 2 2 1-80 2 62 2 37 1-58 2 64 1-85 2-6 1 60 2-1" class="yl yD1"/><rect x="339.8" y="746.0" width="163.9" height="10.6" fill="#8fd5eb"/><text x="382.6" y="754.8" class="st" text-anchor="middle">2018</text><text x="461.7" y="755.7" class="st" text-anchor="middle">2019</text><rect x="339.8" y="756.6" width="163.9" height="164.9" fill="#ebebeb"/><line x1="339.8" x2="503.7" y1="891.9" y2="891.9" class="hm"/><line x1="339.8" x2="503.7" y1="846.8" y2="846.8" class="hm"/><line x1="339.8" x2="503.7" y1="801.6" y2="801.6" class="hm"/><line x1="339.8" x2="503.7" y1="914.5" y2="914.5" class="hM"/><line x1="339.8" x2="503.7" y1="869.3" y2="869.3" class="hM"/><line x1="339.8" x2="503.7" y1="824.2" y2="824.2" class="hM"/><line x1="339.8" x2="503.7" y1="779.0" y2="779.0" class="hM"/><line x1="342.5" x2="342.5" y1="756.6" y2="921.5" class="vM2"/><line x1="362.3" x2="362.3" y1="756.6" y2="921.5" class="vm"/><line x1="382.1" x2="382.1" y1="756.6" y2="921.5" class="vM2"/><line x1="401.9" x2="401.9" y1="756.6" y2="921.5" class="vm"/><line x1="421.8" x2="421.8" y1="756.6" y2="921.5" class="vM2"/><line x1="441.6" x2="441.6" y1="756.6" y2="921.5" class="vm"/><line x1="461.4" x2="461.4" y1="756.6" y2="921.5" class="vM2"/><line x1="481.2" x2="481.2" y1="756.6" y2="921.5" class="vm"/><line x1="501.0" x2="501.0" y1="756.6" y2="921.5" class="vM2"/><line x1="342.5" x2="342.5" y1="921.5" y2="922.8" class="tk"/><line x1="382.1" x2="382.1" y1="921.5" y2="922.8" class="tk"/><line x1="421.8" x2="421.8" y1="921.5" y2="922.8" class="tk"/><line x1="461.4" x2="461.4" y1="921.5" y2="922.8" class="tk"/><line x1="501.0" x2="501.0" y1="921.5" y2="922.8" class="tk"/><text x="342.5" y="930.4" class="jl" text-anchor="middle">Jan</text><text x="421.8" y="930.4" class="jl" text-anchor="middle">Jan</text><path transform="scale(0.1)" d="M3425 8002l2 15 2 80 3-118 2-175 2 258 2 1 2-8 2-42 3 121 2-138 2 62 2 39 2 58 2-12 3-117 2 106 2-78 2-75 2 5 2-38 3 146 2 64 2-161 2 58 2-61 2 88 3-89 2 29 2 12 2 19 2 10 2 15 3 3 2-58 2 119 2-173 2-159 2 221 3 85 2 14 2-176 2 184 2 77 2-43 3-29 2-191 2 153 2-55 2 152 2-104 3-23 2-87 2 196 2-100 2 25 3 104 2-77 2 21 2 161 2-226 2 6 3 77 2 72 2-218 2 96 2-57 2-30 3 152 2-103 2 83 2-12 2 3 2-5 3-86 2 78 2 23 2 11 2-47 2 97 3-29 2-34 2 42 2-34 2 40 2-202 3 53 2 70 2 40 2-173 2 147 2 33 3-29 2 1 2-84 2 112 2-163 2 233 3-121 2 134 2-218 2 169 2-19 2-75 3-24 2 186 2-58 2 83 2-117 3 20 2 21 2 27 2-22 2 30 2-98 3-75 2 269 2-140 2 24 2-69 2 113 3-62 2 70 2-134 2 47 2 20 2-40 3 48 2 102 2-166 2 24 2 35 2-88 3-18 2 180 2-24 2-180 2 10 2 168 3 35 2-42 2-11 2 85 2-125 2 102 3-5 2-164 2 124 2-47 2-54 2-13 3 89 2-29 2 69 2-200 2 86 2 137 3-86 2-54 2 19 2-105 2 37 2 149 3-35 2 94 2-119 2 9 2-198 3 203 2 171 2-110 2-60 2 107 2-30 3-38 2-54 2 40 2 57 2-130 2 104 3-3 2 69 2-45 2-111 2 177 2-119 3-61 2 86 2-47 2 106 2-188 2 17 3 68 2 156 2-54 2-157 2-56 2 110 3-73 2 145 2-32 2-14 2-33 2 152 3-191 2-29 2 192 2 16 2-132 2 78 3 129 2-243 2 50 2 49 2-202 2 154 3 68 2-66 2 88 2-22 2-90 3 72 2-8 2-166 2 63 2 3 2 21 3 3 2-76 2 114 2-147 2 218 2-55 3 87 2-81 2-68 2-73 2 164 2-52 3 28 2 29 2 34 2-97 2 139 2-144 3 7 2 52 2 27 2 29 2-254 2 249 3-225 2 74 2 74 2 61 2-171 2-54 3 206 2-50 2-105 2 55 2-130 2 199 3-87 2 138 2-261 2 218 2 113 2-163 3-1 2-162 2 173 2-27 2-50 3-79 2 126 2-89 2 38 2 61 2-32 3 1 2 71 2-168 2 199 2-201 2 14 3 79 2 50 2-44 2-56 2-23 2 33 3-56 2 118 2-63 2 139 2-182 2 46 3 42 2-123 2 35 2 233 2-185 2 115 3-197 2-112 2 233 2-47 2 24 2-48 3-24 2-51 2 176 2-200 2 193 2-95 3-70 2 34 2 127 2-20 2-20 2-33 3-95 2 188 2-138 2-12 2 2 3 6 2-84 2 79 2-31 2 21 2-97 3 285 2-249 2 118 2 0 2 52 2 68 3-117 2 22 2-93 2 151 2-228 2 89 3 39 2 34 2 5 2 25 2-47 2-44 3 13 2 95 2-91 2 48 2-84 2-133 3 94 2 72 2 100 2-17 2 19 2-189 3 115 2-66 2 52 2-57 2-103 2 161 3-28 2 35 2-132 2 146 2 7 2 19 3 0 2-147 2-164 2 276 2-152 3 53 2 105 2-65 2-4 2 35 2-205 3 298 2-178 2 3 2 71 2-57 2-57 3 56 2-20 2-22 2 212 2-273 2-62 3 101 2-2 2 188 2-100 2 54 2-17 3-120 2 138 2-52 2 138 2-135 2-19 3 62 2 1 2-202 2 242 2-12 2-19 3-155 2-69 2 138 2 82 2-22 2-115 3 154 2-183 2 3 2 106 2-44 2-7 3-62 2 203 2-173 2 122 2 32 3-67 2 27 2 62 2 49 2-48 2-183 3-37 2 105 2-38 2 136 2-31 2-24 3 110 2-4 2-80 2 36 2 62 2-109 3 54 2-96 2 84 2 26 2-30 2 27 3 42 2-18 2-87 2 11 2-48 2 234 3-99 2 4 2-43 2 51 2 7 2-98 3 49 2 107 2-192 2 28 2 125 2-107 3 123 2-142 2 106 2 48 2-32 2 32 3-73 2 3 2 13 2 47 2 138 2-186 3 155 2-165 2-69 2 68 2 52 3-16 2-3 2 32 2 3 2 27 2-164 3 94 2-75 2 94 2-25 2 19 2-49 3-28 2 46 2 71 2 9 2-189 2 150 3 1 2-136 2 30 2 43 2 73 2-214 3 153 2-12 2 57 2 97 2-6 2-135 3 2 2 49 2 73 2 22 2-86 2 88 3-182 2-19 2-130 2 152 2 115 2 23 3 113 2-134 2-31 2-89 2 29 2 2 3 30 2-34 2-60 2 195 2-46 3 73 2-233 2 25 2 43 2 152 2-105 3 32 2-24 2 22 2-55 2 72 2-96 3 48 2 42 2-13 2 26 2-97 2 85 3-43 2 54 2 85 2-185 2 153 2-135 3 21 2 161 2-55 2-33 2 24 2 28 3-149 2 76 2-49 2 63 2-57 2 82 3-57 2-48 2 42 2 38 2 49 2-98 3-14 2 46 2 39 2-102 2-151 2 215 3-50 2-4 2 210 2-191 2 64 3-164 2 127 2 40 2-44 2-31 2 56 3-40 2 100 2-89 2-79 2-93 2 96 3 33 2-72 2 11 2-51 2 43 2 92 3-31 2 5 2-12 2 7 2 74 2 101 3-113 2 103 2-164 2 3 2 129 2-186 3-16 2 58 2-124 2-17 2 237 2-176 3 44 2 0 2-42 2 126 2-12 2 16 3-8 2-53 2 103 2-34 2-128 2 48 3-38 2 174 2-88 2-20 2-48 3 45 2-120 2 75 2-8 2-2 2-56 3 90 2-126 2 49 2 22 2 7 2-39 3-40 2 4 2 43 2-40 2 57 2-89 3 98 2 158 2-266 2 94 2 98 2-76 3 52 2-233 2 123 2 160 2-166 2 72 3-181 2 229 2 92 2-181 2 30 2 4 3 132 2-201 2-99 2 277 2-242 2 133 3-230 2 146 2 44 2-104 2 41 2 83 3-106 2 91 2 94 2-301 2 180 3 16 2-78 2 143 2-21 2-70 2-3 3-49 2-85 2 120 2-78 2-11 2 128 3-105 2 89 2-159 2 45 2-163 2 298 3-115 2 66 2-117 2 62 2 51 2-137 3 14 2 99" class="bl b2"/><path transform="scale(0.1)" d="M3425 7984l2 12 2 33 3-37 2 75 2-40 2 3 2 0 2-13 3 45 2-46 2 23 2 16 2 22 2-3 3-39 2 38 2-26 2-25 2 3 2-12 3 52 2 24 2-55 2 21 2-20 2 33 3-31 2 12 2 6 2 7 2 5 2 7 3 2 2-19 2 43 2-60 2 52 2-27 3 31 2 6 2-60 2 65 2 28 2-14 3-9 2-65 2 54 2-18 2 55 2-36 3-7 2-29 2 70 2-34 2 10 3 37 2-26 2 8 2 58 2-78 2 3 3 28 2 26 2-75 2 34 2-19 2-9 3 54 2-35 2 30 2-4 2 2 2-1 3-29 2 28 2 9 2 5 2-16 2 35 3-10 2-11 2 16 2-11 2 14 2-70 3 20 2 25 2 15 2-60 2 52 2 12 3-9 2 1 2-29 2 40 2-57 2 82 3-41 2 47 2-76 2 60 2-7 2-25 3-8 2 65 2-20 2 30 2-41 3 8 2 7 2 11 2-8 2 11 2-34 3-25 2 94 2-48 2 9 2-24 2 40 3-21 2 25 2-46 2 17 2 8 2-14 3 18 2 36 2-57 2 9 2 13 2-30 3-6 2 64 2-8 2-62 2 4 2 60 3 13 2-14 2-3 2 31 2-43 2 36 3-1 2-57 2 45 2-16 2-18 2-4 3 32 2-10 2 25 2-69 2 30 2 49 3-30 2-18 2 7 2-36 2 13 2 53 3-11 2 33 2-41 2 3 2-69 3 72 2 60 2-38 2-21 2 38 2-11 3-13 2-19 2 14 2 21 2-46 2 37 3-1 2 24 2-16 2-39 2 62 2-42 3-22 2 30 2-17 2 37 2-66 2 6 3 23 2 54 2-19 2-55 2-20 2 39 3-26 2 50 2-11 2-5 2-12 2 53 3-67 2-10 2 67 2 6 2-47 2 27 3 46 2-85 2 17 2 18 2-71 2 54 3 24 2-23 2 31 2-8 2-31 3 26 2-3 2-58 2 22 2 2 2 7 3 2 2-27 2 40 2-51 2 77 2-19 3 30 2-28 2-23 2-26 2 58 2-18 3 9 2 11 2 12 2-34 2 49 2-50 3 2 2 18 2 9 2 10 2-89 2 87 3-79 2 25 2 26 2 21 2-61 2-19 3 71 2-18 2-38 2 19 2-47 2 69 3-31 2 48 2-93 2 76 2 39 2-58 3-1 2-57 2 60 2-10 2-18 3-29 2 44 2-32 2 13 2 21 2-12 3 0 2 24 2-59 2 69 2-71 2 4 3 27 2 17 2-16 2-20 2-9 2 11 3-21 2 41 2-23 2 48 2-65 2 15 3 15 2-44 2 11 2 81 2-66 2 40 3-70 2-40 2 80 2-17 2 8 2-18 3-10 2-18 2 60 2-71 2 67 2-35 3-25 2 11 2 43 2-8 2-8 2-12 3-34 2 65 2-50 2-5 2 0 3 1 2-30 2 27 2-12 2 7 2-35 3 99 2-88 2 41 2-1 2 17 2 23 3-41 2 7 2-34 2 52 2-80 2 30 3 13 2 12 2 1 2 8 2-17 2-16 3 3 2 33 2-32 2 16 2-30 2-47 3 33 2 24 2 35 2-7 2 7 2-67 3 40 2-24 2 18 2-21 2-36 2 56 3-11 2 12 2-47 2 51 2 2 2 6 3 0 2-52 2-58 2 96 2-53 3 18 2 36 2-23 2-2 2 12 2-71 3 104 2-63 2 1 2 25 2-20 2-20 3 20 2-7 2-7 2 74 2-95 2-21 3 36 2 0 2 67 2-34 2 20 2-5 3-41 2 49 2-17 2 50 2-46 2-5 3 23 2 2 2-69 2 85 2-2 2-5 3-53 2-23 2 50 2 31 2-6 2-39 3 55 2-62 2 3 2 38 2-14 2-1 3-20 2 73 2-59 2 44 2 12 3-22 2 10 2 23 2 17 2-16 2-64 3-12 2 37 2-13 2 47 2-10 2-9 3 39 2-1 2-29 2 13 2 22 2-38 3 19 2-34 2 30 2 9 2-10 2 9 3 15 2-6 2-30 2 5 2-16 2 82 3-34 2 2 2-15 2 19 2 3 2-34 3 18 2 38 2-67 2 10 2 44 2-37 3 44 2-49 2 38 2 17 2-11 2 12 3-25 2 2 2 5 2 17 2 49 2-65 3 56 2-58 2-23 2 24 2 19 3-4 2-1 2 12 2 2 2 10 2-56 3 33 2-25 2 33 2-7 2 7 2-16 3-9 2 17 2 25 2 4 2-65 2 53 3 1 2-47 2 12 2 15 2 27 2-74 3 54 2-4 2 21 2 34 2-1 2-47 3 2 2 17 2 27 2 8 2-30 2 31 3-63 2-6 2-45 2 53 2 41 2 8 3 40 2-46 2-11 2-31 2 10 2 1 3 11 2-12 2-21 2 68 2-16 3 26 2-82 2 9 2 15 2 53 2-37 3 11 2-8 2 7 2-19 2 24 2-34 3 17 2 15 2-5 2 9 2-34 2 29 3-15 2 18 2 30 2-65 2 53 2-47 3 7 2 57 2-20 2-11 2 8 2 10 3-52 2 26 2-17 2 22 2-20 2 29 3-20 2-16 2 14 2 14 2 17 2-34 3-5 2 17 2 14 2-36 2-53 2 76 3-17 2-2 2 74 2-67 2 23 3-57 2 45 2 14 2-15 2-11 2 20 3-14 2 36 2-31 2-27 2-33 2 34 3 12 2-25 2 5 2-18 2 16 2 32 3-11 2 2 2-4 2 3 2 26 2 35 3-39 2 36 2-57 2 1 2 45 2-65 3-6 2 20 2-43 2-7 2 83 2-62 3 16 2-1 2-15 2 44 2-4 2 5 3-3 2-18 2 35 2-12 2-45 2 17 3-14 2 61 2-31 2-8 2-17 3 16 2-43 2 26 2-3 2-1 2-20 3 31 2-45 2 17 2 7 2 2 2-14 3-15 2 1 2 15 2-15 2 19 2-32 3 34 2 54 2-94 2 32 2 34 2-28 3 17 2-82 2 42 2 55 2-59 2 24 3-65 2 80 2 30 2-64 2 10 2 0 3 45 2-71 2-36 2 96 2-86 2 46 3-81 2 50 2 15 2-37 2 14 2 29 3-38 2 32 2 33 2-106 2 63 3 5 2-28 2 50 2-8 2-25 2-1 3-18 2-30 2 41 2-28 2-6 2 44 3-38 2 29 2-57 2 15 2 9 2 35 3-42 2 21 2-42 2 20 2 17 2-49 3 4 2 34" class="yl yD2"/><rect x="509.7" y="746.0" width="164.0" height="10.6" fill="#8fd5eb"/><text x="552.1" y="754.8" class="st" text-anchor="middle">2018</text><text x="629.7" y="755.7" class="st" text-anchor="middle">2019</text><rect x="509.7" y="756.6" width="164.0" height="164.9" fill="#ebebeb"/><line x1="509.7" x2="673.7" y1="891.9" y2="891.9" class="hm"/><line x1="509.7" x2="673.7" y1="846.8" y2="846.8" class="hm"/><line x1="509.7" x2="673.7" y1="801.6" y2="801.6" class="hm"/><line x1="509.7" x2="673.7" y1="914.5" y2="914.5" class="hM"/><line x1="509.7" x2="673.7" y1="869.3" y2="869.3" class="hM"/><line x1="509.7" x2="673.7" y1="824.2" y2="824.2" class="hM"/><line x1="509.7" x2="673.7" y1="779.0" y2="779.0" class="hM"/><line x1="512.0" x2="512.0" y1="756.6" y2="921.5" class="vM2"/><line x1="531.9" x2="531.9" y1="756.6" y2="921.5" class="vm"/><line x1="551.8" x2="551.8" y1="756.6" y2="921.5" class="vM2"/><line x1="571.6" x2="571.6" y1="756.6" y2="921.5" class="vm"/><line x1="591.5" x2="591.5" y1="756.6" y2="921.5" class="vM2"/><line x1="611.4" x2="611.4" y1="756.6" y2="921.5" class="vm"/><line x1="631.2" x2="631.2" y1="756.6" y2="921.5" class="vM2"/><line x1="651.1" x2="651.1" y1="756.6" y2="921.5" class="vm"/><line x1="671.0" x2="671.0" y1="756.6" y2="921.5" class="vM2"/><line x1="512.0" x2="512.0" y1="921.5" y2="922.8" class="tk"/><line x1="551.8" x2="551.8" y1="921.5" y2="922.8" class="tk"/><line x1="591.5" x2="591.5" y1="921.5" y2="922.8" class="tk"/><line x1="631.2" x2="631.2" y1="921.5" y2="922.8" class="tk"/><line x1="671.0" x2="671.0" y1="921.5" y2="922.8" class="tk"/><text x="512.0" y="930.4" class="jl" text-anchor="middle">Jan</text><text x="591.5" y="930.4" class="jl" text-anchor="middle">Jan</text><path transform="scale(0.1)" d="M5120 7898l2 210 2-431 3 383 2-225 2 316 2-34 2-231 2 9 3 250 2-258 2 234 2-57 2-68 2 85 3-296 2 306 2 204 2-349 2 242 3-14 2 378 2-558 2 27 2 4 2-24 3-99 2 244 2-136 2 236 2-53 2-197 3 95 2 242 2-236 2 78 2 90 3-174 2 119 2 165 2-63 2-402 2 462 3-242 2-53 2-3 2 263 2-125 2-63 3-91 2 204 2 74 2-302 2-13 3 105 2 138 2-140 2 43 2-101 2 294 3-189 2 40 2 134 2-184 2 27 2 64 3-112 2 256 2-190 2-66 2 22 3-110 2 320 2 45 2-244 2-29 2-231 3 211 2 210 2-233 2 232 2 91 2-572 3 321 2-53 2 22 2-174 2 216 3-130 2 316 2 52 2-393 2-6 2 136 3 41 2 10 2 121 2-311 2 124 2 23 3 19 2-92 2 77 2-33 2 270 3-234 2-234 2 380 2-53 2-142 2-8 3 48 2 315 2-295 2 237 2-49 2-191 3 120 2-153 2-326 2 333 2 9 3 228 2-34 2 60 2-73 2 80 2-59 3-62 2 112 2 60 2-6 2-253 2 56 3-134 2-1 2 195 2-140 2 296 3-520 2 153 2 199 2 133 2-215 2 316 3-152 2-213 2 95 2 80 2-201 2 279 3-185 2 111 2 49 2-182 2 204 3-404 2 348 2-359 2 432 2-237 2 253 3 21 2-210 2-72 2 274 2-344 2 278 3-129 2-35 2-29 2 335 2-478 3 148 2 139 2 84 2 94 2-46 2-267 3 124 2 111 2-84 2-293 2 265 2 36 3-271 2 124 2 59 2 91 2 132 3-53 2-97 2-37 2-80 2-28 2 46 3 0 2 172 2 161 2-229 2 60 2-42 3-53 2 136 2-19 2-142 2-30 3 108 2-162 2 100 2 112 2-149 2-258 3 358 2-258 2-30 2-17 2 325 2-398 3 266 2 52 2-4 2-117 2 77 3 31 2-205 2 280 2 44 2-258 2 11 3-55 2 302 2-303 2 83 2-181 2 420 3-206 2 68 2 182 2-124 2-259 3 221 2 34 2-224 2-18 2-2 2 248 3-104 2-155 2 235 2 12 2-223 3-104 2 378 2 201 2-162 2-62 2-124 3-107 2 105 2 76 2-121 2 155 2-130 3 82 2-467 2 259 2 230 2 21 3-80 2 167 2-129 2-1 2-229 2 182 3 49 2 76 2-25 2-157 2 19 2-190 3 245 2-238 2 110 2 35 2 279 3-102 2-286 2-94 2 166 2-80 2 162 3-6 2 39 2-231 2 87 2 79 2 12 3-126 2 31 2 160 2-358 2 203 3 32 2-207 2 62 2 154 2-89 2 223 3-62 2 226 2-489 2 435 2-363 2 210 3 19 2-111 2-66 2-50 2-164 3 197 2-75 2 206 2-185 2 78 2 85 3-53 2-5 2-37 2-30 2 126 2 32 3-209 2 341 2-152 2-305 2 596 3-283 2-194 2 326 2-595 2 725 2-564 3-18 2 89 2 159 2-82 2 175 2-240 3 269 2-119 2-178 2 295 2-106 3-74 2 210 2-351 2 115 2 259 2-206 3 102 2-17 2-103 2 110 2-234 2 233 3-236 2-314 2 332 2 196 2-5 3 91 2-242 2-51 2-165 2 116 2 147 3 64 2-83 2 58 2-208 2 73 2 250 3-21 2-287 2 149 2 76 2-198 3 221 2-15 2 26 2 210 2-395 2 291 3-89 2 25 2-205 2 111 2-11 2 238 3-222 2 195 2-250 2-7 2 54 3-288 2 213 2-9 2 64 2 47 2-161 3-19 2 338 2-330 2 77 2-62 2 70 3 240 2-9 2-419 2 221 2 234 3-246 2 100 2 208 2 64 2-96 2-261 3 45 2 29 2-74 2-43 2 379 2-251 3 75 2 57 2-95 2-58 2 20 3 168 2-136 2-349 2 431 2 90 2-274 3-44 2 19 2 223 2-296 2 251 2 50 3-73 2-69 2-115 2 14 2 91 3-132 2 120 2-113 2 323 2 25 2-328 3 304 2-152 2-27 2 56 2-4 2-258 3 551 2-477 2-197 2 320 2 7 3-103 2-154 2 424 2-177 2 39 2-103 3 58 2-69 2 153 2-64 2 102 2 1 3-72 2 2 2 146 2-383 2 241 3 176 2-346 2 261 2-175 2 76 2-36 3 13 2 106 2-84 2-278 2 600 2-321 3-50 2 210 2 46 2-492 2 356 3-342 2 218 2 66 2-54 2-21 2-75 3 106 2 42 2-3 2-163 2 76 2 256 3-49 2-134 2 135 2-33 2 83 3-96 2-95 2-78 2 139 2-287 2 302 3-456 2 308 2 72 2 141 2 327 2-372 3-46 2-243 2 464 2-459 2 303 3-135 2 458 2-374 2 69 2-143 2 84 3 174 2-292 2 37 2 14 2-56 2-12 3 158 2 188 2 5 2-382 2 91 3 86 2 76 2-64 2 2 2 51 2 52 3-400 2 272 2 118 2 98 2-80 2-202 3-4 2 137 2-37 2 51 2 113 3-337 2 131 2-294 2 453 2-87 2-142 3 158 2 160 2-61 2-147 2-34 2 61 3-154 2 2 2 93 2 42 2 38 3-112 2-52 2 119 2-54 2 107 2 152 3-58 2-248 2 44 2-160 2 214 2-114 3-65 2 45 2 224 2-60 2-45 3 155 2-205 2-78 2 210 2-344 2 316 3-14 2 4 2 65 2-158 2 54 2-230 3 146 2 9 2 105 2 166 2-187 3 105 2-254 2 136 2-239 2 129 2-16 3 82 2 2 2-65 2-40 2 227 2-171 3-300 2 377 2 21 2 59 2 103 3-372 2 156 2-36 2-219 2-95 2 473 3-275 2 58 2 29 2-14 2 68 2-228 3 134 2 35 2-128 2 47 2 58 3 17 2-203 2 172 2 82 2 105 2-75 3 97 2-165 2-24 2 321 2-292 2-91 3 65 2 154 2-314 2 273 2 72 3-24 2-151 2-143 2-28 2 131 2 194 3-77 2 31 2-103 2 221 2-267 2-77 3 109 2-87 2 193 2 70 2-117 3-253 2 16 2 206 2-235 2 212 2-259 3 142 2 129 2-176 2 218 2 20 2 71 3-242 2 42 2 2 2 44 2-260 3 259 2 40 2-278 2-26 2 150 2-297 3 425 2-172 2 82 2-217 2 407 2-288 3 181 2-275 2 194 2-157 2-157 3 496 2-44" class="bl b3"/><path transform="scale(0.1)" d="M5120 8154l2 28 2 3 3-4 2 17 2-2 2-2 2-25 2 4 3 33 2-28 2 31 2-3 2-5 2 13 3-32 2 40 2 27 2-39 2 32 3 0 2 47 2-65 2 5 2 1 2-2 3-10 2 30 2-15 2 29 2-5 2-23 3 12 2 30 2-27 2 10 2 11 3-20 2 15 2 20 2-7 2-47 2 56 3-29 2-6 2 1 2 31 2-14 2-7 3-11 2 25 2 10 2-36 2-1 3 13 2 17 2-17 2 6 2-12 2 36 3-23 2 6 2 16 2-21 2 3 2 8 3-13 2 32 2-23 2-7 2 3 3-12 2 38 2 6 2-28 2-3 2-28 3 26 2 26 2-27 2 28 2 11 2-68 3 39 2-5 2 3 2-21 2 27 3-15 2 38 2 7 2-47 2 0 2 17 3 5 2 2 2 15 2-37 2 16 2 3 3 3 2-11 2 10 2-4 2 33 3-27 2-28 2 46 2-6 2-16 2-1 3 6 2 38 2-35 2 29 2-5 2-23 3 15 2-18 2-39 2 41 2 1 3 28 2-4 2 8 2-8 2 10 2-7 3-7 2 14 2 7 2 0 2-30 2 7 3-15 2 0 2 24 2-17 2 36 3-62 2 19 2 25 2 16 2-25 2 38 3-18 2-25 2 12 2 10 2-23 2 34 3-22 2 14 2 6 2-21 2 25 3-48 2 42 2-43 2 52 2-28 2 31 3 3 2-25 2-8 2 33 2-41 2 34 3-15 2-4 2-3 2 40 2-57 3 18 2 17 2 11 2 11 2-5 2-32 3 15 2 14 2-10 2-35 2 32 2 4 3-32 2 15 2 7 2 11 2 16 3-6 2-12 2-4 2-10 2-3 2 6 3 0 2 21 2 19 2-27 2 7 2-5 3-6 2 16 2-2 2-17 2-3 3 13 2-19 2 12 2 13 2-17 2-31 3 43 2-31 2-4 2-2 2 40 2-48 3 32 2 6 2 0 2-14 2 9 3 4 2-24 2 33 2 6 2-31 2 2 3-7 2 36 2-36 2 10 2-21 2 50 3-24 2 8 2 22 2-14 2-31 3 26 2 5 2-27 2-2 2-1 2 30 3-12 2-19 2 28 2 1 2-27 3-12 2 45 2 24 2-20 2-8 2-15 3-13 2 12 2 9 2-15 2 18 2-16 3 10 2-57 2 31 2 27 2 2 3-10 2 20 2-16 2-1 2-28 2 21 3 6 2 8 2-3 2-20 2 2 2-23 3 29 2-30 2 13 2 4 2 33 3-13 2-35 2-12 2 20 2-11 2 19 3-1 2 4 2-28 2 10 2 9 2 1 3-16 2 4 2 18 2-43 2 24 3 3 2-25 2 6 2 18 2-11 2 26 3-8 2 27 2-60 2 52 2-44 2 24 3 2 2-14 2-9 2-6 2-21 3 23 2-9 2 24 2-23 2 8 2 10 3-7 2-2 2-5 2-4 2 14 2 3 3-25 2 40 2-19 2-37 2 70 3-34 2-24 2 39 2-73 2 87 2-68 3-3 2 10 2 18 2-10 2 20 2-29 3 31 2-15 2-22 2 35 2-14 3-9 2 24 2-43 2 13 2 31 2-26 3 12 2-3 2-13 2 12 2-28 2 27 3-29 2 16 2-15 2 22 2-1 3 10 2-29 2-7 2-20 2 13 2 17 3 8 2-11 2 7 2-26 2 9 2 29 3-2 2-35 2 18 2 9 2-24 3 26 2-2 2 4 2 25 2-47 2 35 3-11 2 3 2-24 2 14 2-1 2 29 3-27 2 24 2-29 2-1 2 7 3-34 2 26 2 0 2 8 2 6 2-18 3-2 2 41 2-39 2 10 2-7 2 9 3 30 2 0 2-50 2 27 2 29 3-29 2 13 2 26 2 8 2-11 2-31 3 7 2 4 2-8 2-5 2 46 2-29 3 9 2 8 2-11 2-6 2 3 3 21 2-16 2-41 2 53 2 12 2-32 3-5 2 3 2 28 2-35 2 31 2 7 3-7 2-8 2-12 2 2 2 12 3-15 2 16 2-13 2 40 2 4 2-38 3 37 2-17 2-2 2 7 2 1 2-30 3 67 2-56 2-23 2 39 2 2 3-11 2-18 2 52 2-20 2 5 2-11 3 7 2-7 2 19 2-7 2 13 2 1 3-8 2 1 2 18 2-46 2 30 3 21 2-41 2 32 2-20 2 9 2-4 3 2 2 14 2-10 2-33 2 73 2-38 3-6 2 26 2 6 2-59 2 44 3-41 2 27 2 8 2-6 2-2 2-8 3 13 2 5 2 0 2-19 2 10 2 31 3-5 2-16 2 17 2-4 2 10 3-11 2-11 2-9 2 17 2-34 2 37 3-55 2 37 2 9 2 17 2 40 2-45 3-5 2-29 2 56 2-55 2 36 3-16 2 55 2-45 2 8 2-17 2 10 3 21 2-35 2 4 2 2 2-7 2-2 3 19 2 22 2 1 2-47 2 11 3 10 2 9 2-8 2 0 2 6 2 6 3-48 2 32 2 14 2 11 2-10 2-24 3-1 2 16 2-5 2 6 2 13 3-40 2 15 2-36 2 54 2-10 2-18 3 19 2 19 2-8 2-18 2-4 2 7 3-19 2 0 2 11 2 4 2 5 3-14 2-7 2 15 2-7 2 12 2 18 3-7 2-30 2 5 2-20 2 26 2-14 3-8 2 5 2 27 2-8 2-6 3 19 2-25 2-10 2 25 2-42 2 38 3-2 2 0 2 7 2-19 2 6 2-28 3 17 2 1 2 12 2 19 2-23 3 12 2-31 2 16 2-29 2 15 2-2 3 9 2 0 2-8 2-5 2 26 2-21 3-36 2 45 2 2 2 7 2 11 3-45 2 19 2-5 2-27 2-12 2 57 3-34 2 7 2 3 2-2 2 7 2-28 3 16 2 4 2-16 2 5 2 7 3 1 2-25 2 21 2 9 2 12 2-9 3 11 2-21 2-3 2 38 2-36 2-11 3 7 2 18 2-38 2 32 2 8 3-4 2-19 2-18 2-4 2 15 2 23 3-10 2 3 2-13 2 26 2-33 2-10 3 12 2-11 2 23 2 7 2-14 3-32 2 2 2 24 2-29 2 24 2-31 3 16 2 15 2-22 2 26 2 1 2 8 3-29 2 4 2 0 2 5 2-32 3 30 2 5 2-34 2-3 2 17 2 35 3-20 2-21 2 10 2-27 2 49 2-35 3 22 2-33 2 23 2-19 2 28 3 12 2-5" class="yl yD3"/><text x="31.7" y="917.7" class="yt" text-anchor="middle">0</text><text x="36.7" y="872.5" class="yt" text-anchor="end">0.1</text><text x="36.7" y="827.4" class="yt" text-anchor="end">0.2</text><text x="36.7" y="782.2" class="yt" text-anchor="end">0.3</text><text transform="translate(12.2,836.0) rotate(-90) scale(1,1.1)" class="at ay" text-anchor="middle">Incidence per 100,000 per day</text><text transform="translate(351.7,942.4) scale(1,1.1)" class="at" text-anchor="middle">Year and month</text></svg>
</body></html>
